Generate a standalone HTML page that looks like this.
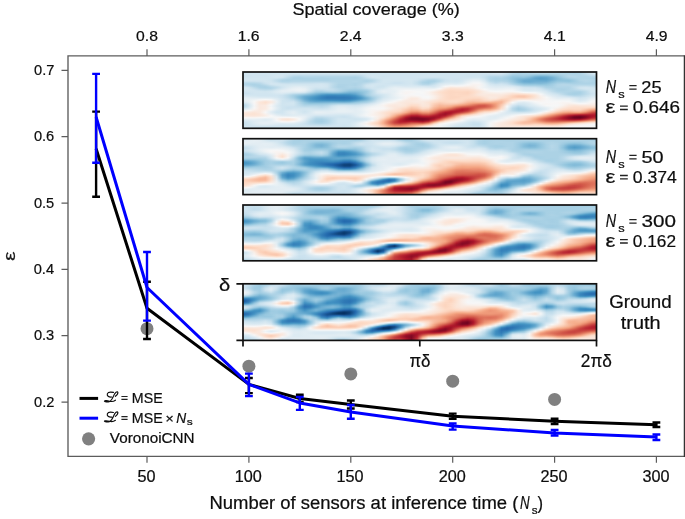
<!DOCTYPE html>
<html><head><meta charset="utf-8"><style>
html,body{margin:0;padding:0;background:#fff;overflow:hidden;}
svg{display:block;position:absolute;left:0;top:0;z-index:1;will-change:transform;}
#hm{position:absolute;left:0;top:0;width:685px;height:519px;z-index:0;}
#hm div{position:absolute;left:243px;width:354px;height:1px;}
text{font-family:"Liberation Sans",sans-serif;stroke:#0d0d0d;stroke-width:0.22px;}
</style></head><body>
<div id="hm"><div style="top:72px;background:linear-gradient(90deg,#d1e5f0,#d1e5f0,#d1e5f0,#d1e5f0,#d1e5f0,#d1e5f0,#cce2ef,#cce2ef,#d2e6f0,#d5e7f1,#d5e7f1,#d5e7f1,#d5e7f1,#d5e7f1,#d5e7f1,#d5e7f1,#d5e7f1,#d5e7f1,#d5e7f1,#d5e7f1,#d7e8f1,#d5e7f1,#d1e5f0,#cce2ef,#cfe4ef,#d1e5f0,#d1e5f0,#d1e5f0,#d1e5f0,#d1e5f0,#d1e5f0,#d1e5f0,#cfe4ef,#cce2ef,#cce2ef,#cfe4ef,#cfe4ef,#d1e5f0,#d1e5f0,#d1e5f0,#d2e6f0,#d2e6f0,#d2e6f0,#d2e6f0,#d5e7f1,#d7e8f1,#d7e8f1,#cfe4ef,#bddbea,#b3d6e8,#b6d7e8,#bbdaea,#c0dceb,#c2ddec,#c2ddec,#bddbea,#b8d8e9,#b3d6e8,#aed3e6,#a9d1e5,#b1d5e7,#c5dfec,#d5e7f1,#ddebf2)"></div><div style="top:73px;background:linear-gradient(90deg,#d1e5f0,#d1e5f0,#d1e5f0,#d1e5f0,#d1e5f0,#d1e5f0,#d1e5f0,#d1e5f0,#d1e5f0,#d2e6f0,#d2e6f0,#d2e6f0,#d2e6f0,#d2e6f0,#d2e6f0,#d2e6f0,#d2e6f0,#d2e6f0,#d2e6f0,#d2e6f0,#d2e6f0,#d2e6f0,#d1e5f0,#cfe4ef,#d1e5f0,#d1e5f0,#d1e5f0,#d1e5f0,#d1e5f0,#d1e5f0,#d1e5f0,#d1e5f0,#d1e5f0,#d1e5f0,#cfe4ef,#d1e5f0,#d1e5f0,#d1e5f0,#d1e5f0,#d1e5f0,#d1e5f0,#d1e5f0,#d1e5f0,#d1e5f0,#d1e5f0,#d4e6f1,#d4e6f1,#c7e0ed,#b6d7e8,#aed3e6,#b1d5e7,#b3d6e8,#b6d7e8,#b6d7e8,#b6d7e8,#b3d6e8,#b3d6e8,#b3d6e8,#b1d5e7,#aed3e6,#b1d5e7,#c0dceb,#d2e6f0,#d8e9f1)"></div><div style="top:74px;background:linear-gradient(90deg,#d1e5f0,#d1e5f0,#d1e5f0,#d1e5f0,#d1e5f0,#d1e5f0,#d2e6f0,#d2e6f0,#cfe4ef,#cae1ee,#cae1ee,#cae1ee,#cae1ee,#cae1ee,#cae1ee,#cae1ee,#cae1ee,#cae1ee,#cae1ee,#cae1ee,#cae1ee,#cce2ef,#d1e5f0,#d2e6f0,#d1e5f0,#d1e5f0,#d1e5f0,#d1e5f0,#d1e5f0,#d1e5f0,#d1e5f0,#d1e5f0,#d1e5f0,#d2e6f0,#d2e6f0,#d2e6f0,#d1e5f0,#d1e5f0,#d1e5f0,#d1e5f0,#cfe4ef,#cfe4ef,#cfe4ef,#cce2ef,#cae1ee,#cce2ef,#cce2ef,#c0dceb,#acd2e5,#a9d1e5,#acd2e5,#a9d1e5,#a5cee3,#a2cde3,#a2cde3,#a7d0e4,#a9d1e5,#b1d5e7,#b3d6e8,#b1d5e7,#b1d5e7,#bbdaea,#cae1ee,#d1e5f0)"></div><div style="top:75px;background:linear-gradient(90deg,#cfe4ef,#cfe4ef,#d1e5f0,#cfe4ef,#cfe4ef,#d1e5f0,#d4e6f1,#d4e6f1,#cae1ee,#c0dceb,#bddbea,#c0dceb,#c0dceb,#c0dceb,#c0dceb,#c0dceb,#c0dceb,#c0dceb,#c0dceb,#c0dceb,#bddbea,#c2ddec,#cfe4ef,#d4e6f1,#d2e6f0,#d1e5f0,#d1e5f0,#d1e5f0,#d1e5f0,#d1e5f0,#d1e5f0,#d1e5f0,#d2e6f0,#d4e6f1,#d4e6f1,#d2e6f0,#d1e5f0,#d1e5f0,#d1e5f0,#d1e5f0,#cfe4ef,#cfe4ef,#cfe4ef,#cae1ee,#c2ddec,#c2ddec,#c2ddec,#b6d7e8,#a2cde3,#a0cce2,#a5cee3,#9dcbe1,#90c4dd,#8ac0db,#8dc2dc,#96c7df,#a0cce2,#acd2e5,#b6d7e8,#b3d6e8,#b1d5e7,#b6d7e8,#c0dceb,#c5dfec)"></div><div style="top:76px;background:linear-gradient(90deg,#cfe4ef,#cfe4ef,#d1e5f0,#d1e5f0,#cfe4ef,#d1e5f0,#d4e6f1,#d2e6f0,#c5dfec,#b6d7e8,#b3d6e8,#b8d8e9,#b8d8e9,#b6d7e8,#b6d7e8,#b6d7e8,#b6d7e8,#b6d7e8,#b6d7e8,#b6d7e8,#b3d6e8,#bbdaea,#cce2ef,#d4e6f1,#d2e6f0,#cfe4ef,#d1e5f0,#d1e5f0,#d1e5f0,#d1e5f0,#d1e5f0,#d1e5f0,#d2e6f0,#d2e6f0,#d4e6f1,#d2e6f0,#d1e5f0,#d1e5f0,#d1e5f0,#d1e5f0,#cfe4ef,#cfe4ef,#d1e5f0,#c7e0ed,#b8d8e9,#b6d7e8,#b8d8e9,#acd2e5,#98c8e0,#98c8e0,#9bc9e0,#90c4dd,#7bb6d6,#71b0d3,#75b2d4,#84bcd9,#96c7df,#a7d0e4,#b6d7e8,#b6d7e8,#b1d5e7,#b1d5e7,#b6d7e8,#b8d8e9)"></div><div style="top:77px;background:linear-gradient(90deg,#d1e5f0,#d1e5f0,#d1e5f0,#d1e5f0,#d1e5f0,#d1e5f0,#d2e6f0,#cfe4ef,#bddbea,#aed3e6,#acd2e5,#b1d5e7,#b1d5e7,#b1d5e7,#aed3e6,#b1d5e7,#b1d5e7,#b1d5e7,#b1d5e7,#aed3e6,#acd2e5,#b3d6e8,#c5dfec,#d1e5f0,#d2e6f0,#d1e5f0,#d1e5f0,#d1e5f0,#d1e5f0,#d1e5f0,#d1e5f0,#d1e5f0,#d1e5f0,#cfe4ef,#cfe4ef,#cfe4ef,#d1e5f0,#d1e5f0,#d1e5f0,#d1e5f0,#d1e5f0,#d2e6f0,#d2e6f0,#c7e0ed,#b3d6e8,#aed3e6,#b1d5e7,#a5cee3,#93c6de,#8dc2dc,#90c4dd,#81bad8,#6bacd1,#5fa5cd,#65a9cf,#75b2d4,#8dc2dc,#a2cde3,#aed3e6,#b3d6e8,#b1d5e7,#b1d5e7,#b1d5e7,#b1d5e7)"></div><div style="top:78px;background:linear-gradient(90deg,#d2e6f0,#d2e6f0,#d2e6f0,#d2e6f0,#d1e5f0,#cfe4ef,#cce2ef,#c2ddec,#b6d7e8,#acd2e5,#a9d1e5,#acd2e5,#acd2e5,#acd2e5,#acd2e5,#acd2e5,#aed3e6,#aed3e6,#aed3e6,#aed3e6,#acd2e5,#b1d5e7,#bddbea,#c7e0ed,#cfe4ef,#d1e5f0,#d1e5f0,#d1e5f0,#d1e5f0,#d1e5f0,#d1e5f0,#cfe4ef,#cae1ee,#c5dfec,#c2ddec,#c7e0ed,#cfe4ef,#d1e5f0,#cfe4ef,#d1e5f0,#d4e6f1,#d8e9f1,#d8e9f1,#cae1ee,#b1d5e7,#a9d1e5,#acd2e5,#a2cde3,#90c4dd,#84bcd9,#81bad8,#75b2d4,#62a7ce,#59a1ca,#5fa5cd,#71b0d3,#87beda,#98c8e0,#a5cee3,#acd2e5,#b1d5e7,#b1d5e7,#aed3e6,#acd2e5)"></div><div style="top:79px;background:linear-gradient(90deg,#d4e6f1,#d4e6f1,#d2e6f0,#d2e6f0,#d2e6f0,#cfe4ef,#c2ddec,#b6d7e8,#aed3e6,#acd2e5,#acd2e5,#acd2e5,#acd2e5,#acd2e5,#acd2e5,#acd2e5,#aed3e6,#aed3e6,#aed3e6,#aed3e6,#aed3e6,#b1d5e7,#b3d6e8,#bddbea,#cae1ee,#d2e6f0,#d2e6f0,#d1e5f0,#d1e5f0,#d2e6f0,#d2e6f0,#cfe4ef,#c2ddec,#b8d8e9,#b6d7e8,#c0dceb,#cce2ef,#d1e5f0,#cfe4ef,#d2e6f0,#d8e9f1,#e0ecf3,#deebf2,#cfe4ef,#b1d5e7,#a9d1e5,#acd2e5,#a5cee3,#90c4dd,#7eb8d7,#75b2d4,#6bacd1,#65a9cf,#5ca3cb,#5fa5cd,#71b0d3,#87beda,#93c6de,#98c8e0,#a5cee3,#b1d5e7,#b3d6e8,#b1d5e7,#acd2e5)"></div><div style="top:80px;background:linear-gradient(90deg,#d2e6f0,#d2e6f0,#d1e5f0,#d1e5f0,#d2e6f0,#cfe4ef,#c0dceb,#b1d5e7,#aed3e6,#b1d5e7,#b1d5e7,#aed3e6,#aed3e6,#aed3e6,#aed3e6,#aed3e6,#b1d5e7,#b1d5e7,#b1d5e7,#b1d5e7,#b1d5e7,#b1d5e7,#aed3e6,#b6d7e8,#c7e0ed,#d2e6f0,#d2e6f0,#d1e5f0,#d1e5f0,#d2e6f0,#d2e6f0,#cce2ef,#bbdaea,#aed3e6,#aed3e6,#bbdaea,#cce2ef,#d1e5f0,#cfe4ef,#d4e6f1,#deebf2,#e7f0f4,#e6eff4,#d5e7f1,#b6d7e8,#acd2e5,#aed3e6,#a9d1e5,#96c7df,#7eb8d7,#6bacd1,#68abd0,#68abd0,#65a9cf,#65a9cf,#78b4d5,#8dc2dc,#90c4dd,#90c4dd,#a0cce2,#b1d5e7,#b6d7e8,#b1d5e7,#acd2e5)"></div><div style="top:81px;background:linear-gradient(90deg,#cce2ef,#cae1ee,#cae1ee,#cce2ef,#d2e6f0,#d1e5f0,#c2ddec,#b3d6e8,#b3d6e8,#b6d7e8,#b6d7e8,#b6d7e8,#b6d7e8,#b6d7e8,#b8d8e9,#b6d7e8,#b3d6e8,#b1d5e7,#b1d5e7,#b1d5e7,#b3d6e8,#b1d5e7,#aed3e6,#b8d8e9,#cae1ee,#d2e6f0,#d1e5f0,#cfe4ef,#cfe4ef,#d1e5f0,#d2e6f0,#c7e0ed,#b3d6e8,#a9d1e5,#acd2e5,#bddbea,#cfe4ef,#d2e6f0,#d1e5f0,#d7e8f1,#e4eef4,#edf2f5,#edf2f5,#dbeaf2,#bddbea,#b1d5e7,#b6d7e8,#aed3e6,#9bc9e0,#81bad8,#6bacd1,#68abd0,#6eaed2,#6eaed2,#6eaed2,#84bcd9,#96c7df,#96c7df,#93c6de,#a0cce2,#aed3e6,#b3d6e8,#b1d5e7,#acd2e5)"></div><div style="top:82px;background:linear-gradient(90deg,#c0dceb,#bddbea,#bddbea,#c2ddec,#cfe4ef,#d2e6f0,#cae1ee,#bddbea,#bbdaea,#c0dceb,#c0dceb,#c0dceb,#c0dceb,#c2ddec,#c2ddec,#c0dceb,#b8d8e9,#b1d5e7,#b1d5e7,#b1d5e7,#b1d5e7,#b1d5e7,#b6d7e8,#c0dceb,#cce2ef,#d2e6f0,#d1e5f0,#cce2ef,#cce2ef,#d1e5f0,#d2e6f0,#c5dfec,#aed3e6,#a7d0e4,#b3d6e8,#c7e0ed,#d4e6f1,#d7e8f1,#d5e7f1,#dbeaf2,#e9f0f4,#f3f5f6,#f3f5f6,#e1edf3,#c7e0ed,#b8d8e9,#c0dceb,#b8d8e9,#a2cde3,#87beda,#75b2d4,#71b0d3,#78b4d5,#78b4d5,#7bb6d6,#8dc2dc,#a0cce2,#a2cde3,#9dcbe1,#a5cee3,#acd2e5,#b1d5e7,#aed3e6,#acd2e5)"></div><div style="top:83px;background:linear-gradient(90deg,#b8d8e9,#b3d6e8,#b3d6e8,#b8d8e9,#cae1ee,#d4e6f1,#d1e5f0,#cae1ee,#c7e0ed,#cae1ee,#cae1ee,#cae1ee,#cae1ee,#cce2ef,#cfe4ef,#cae1ee,#bbdaea,#b1d5e7,#b1d5e7,#b1d5e7,#aed3e6,#b3d6e8,#c0dceb,#cce2ef,#d1e5f0,#d1e5f0,#cfe4ef,#cce2ef,#cce2ef,#d1e5f0,#d2e6f0,#c5dfec,#b1d5e7,#acd2e5,#bddbea,#d2e6f0,#dbeaf2,#ddebf2,#dbeaf2,#e1edf3,#eff3f5,#f7f5f4,#f7f6f6,#e7f0f4,#cfe4ef,#c2ddec,#cae1ee,#c2ddec,#acd2e5,#96c7df,#84bcd9,#81bad8,#84bcd9,#81bad8,#87beda,#98c8e0,#a9d1e5,#aed3e6,#a9d1e5,#a9d1e5,#aed3e6,#aed3e6,#aed3e6,#aed3e6)"></div><div style="top:84px;background:linear-gradient(90deg,#b6d7e8,#b1d5e7,#acd2e5,#b1d5e7,#c0dceb,#d1e5f0,#d2e6f0,#d1e5f0,#d1e5f0,#d2e6f0,#d2e6f0,#d2e6f0,#d1e5f0,#d2e6f0,#d4e6f1,#cfe4ef,#bddbea,#aed3e6,#aed3e6,#b1d5e7,#aed3e6,#b6d7e8,#cae1ee,#d2e6f0,#d2e6f0,#d1e5f0,#d1e5f0,#d1e5f0,#d1e5f0,#d2e6f0,#d4e6f1,#cae1ee,#b8d8e9,#b6d7e8,#c7e0ed,#dae9f2,#e3edf3,#e6eff4,#e4eef4,#eaf1f5,#f5f6f7,#f8f3f0,#f8f4f2,#eaf1f5,#d5e7f1,#cfe4ef,#d2e6f0,#cce2ef,#b8d8e9,#a5cee3,#96c7df,#93c6de,#96c7df,#90c4dd,#93c6de,#a0cce2,#b1d5e7,#b6d7e8,#b3d6e8,#b1d5e7,#b3d6e8,#b3d6e8,#b3d6e8,#b1d5e7)"></div><div style="top:85px;background:linear-gradient(90deg,#bddbea,#b8d8e9,#aed3e6,#acd2e5,#b6d7e8,#c5dfec,#cfe4ef,#d2e6f0,#d5e7f1,#d8e9f1,#d8e9f1,#d7e8f1,#d4e6f1,#d4e6f1,#d5e7f1,#d1e5f0,#bbdaea,#aed3e6,#aed3e6,#b1d5e7,#aed3e6,#b8d8e9,#cfe4ef,#d5e7f1,#d1e5f0,#cfe4ef,#d4e6f1,#d7e8f1,#d5e7f1,#d5e7f1,#d7e8f1,#d2e6f0,#c7e0ed,#c5dfec,#d1e5f0,#deebf2,#edf2f5,#f2f5f6,#f0f4f6,#f3f5f6,#f8f4f2,#f8f1ed,#f8f4f2,#ecf2f5,#dbeaf2,#d5e7f1,#d7e8f1,#d5e7f1,#cce2ef,#b8d8e9,#a9d1e5,#a7d0e4,#a7d0e4,#a2cde3,#9dcbe1,#a5cee3,#b3d6e8,#b6d7e8,#b6d7e8,#b8d8e9,#bddbea,#bddbea,#bbdaea,#b8d8e9)"></div><div style="top:86px;background:linear-gradient(90deg,#cce2ef,#c2ddec,#b3d6e8,#acd2e5,#aed3e6,#bbdaea,#c5dfec,#d1e5f0,#d8e9f1,#deebf2,#e0ecf3,#ddebf2,#d7e8f1,#d4e6f1,#d5e7f1,#d1e5f0,#bbdaea,#acd2e5,#aed3e6,#b3d6e8,#b1d5e7,#b8d8e9,#cfe4ef,#d5e7f1,#cfe4ef,#cfe4ef,#d8e9f1,#deebf2,#ddebf2,#dae9f2,#dbeaf2,#dae9f2,#d7e8f1,#d4e6f1,#d5e7f1,#e4eef4,#f6f7f7,#f8f1ed,#f8f3f0,#f8f2ef,#f9efe9,#f9efe9,#f7f5f4,#ecf2f5,#e0ecf3,#dbeaf2,#ddebf2,#ddebf2,#d8e9f1,#cfe4ef,#bddbea,#bbdaea,#bbdaea,#b1d5e7,#a7d0e4,#a9d1e5,#b3d6e8,#b3d6e8,#b3d6e8,#bddbea,#c7e0ed,#cae1ee,#c5dfec,#c2ddec)"></div><div style="top:87px;background:linear-gradient(90deg,#d4e6f1,#cfe4ef,#bddbea,#aed3e6,#acd2e5,#b3d6e8,#c0dceb,#d1e5f0,#dbeaf2,#e3edf3,#e6eff4,#e1edf3,#d7e8f1,#d1e5f0,#d2e6f0,#cfe4ef,#bbdaea,#aed3e6,#aed3e6,#b1d5e7,#aed3e6,#b6d7e8,#cae1ee,#d2e6f0,#cfe4ef,#d2e6f0,#ddebf2,#e4eef4,#e3edf3,#e1edf3,#e1edf3,#e1edf3,#e1edf3,#deebf2,#ddebf2,#eaf1f5,#f9f0eb,#fae8de,#faeae1,#faeae1,#fae9df,#f9ede5,#f8f4f2,#edf2f5,#e4eef4,#e0ecf3,#e1edf3,#e4eef4,#e3edf3,#dae9f2,#cfe4ef,#cce2ef,#cce2ef,#c0dceb,#aed3e6,#acd2e5,#b1d5e7,#b1d5e7,#b1d5e7,#c0dceb,#cfe4ef,#d2e6f0,#cfe4ef,#cae1ee)"></div><div style="top:88px;background:linear-gradient(90deg,#d7e8f1,#d2e6f0,#c5dfec,#b6d7e8,#b1d5e7,#b3d6e8,#c5dfec,#d5e7f1,#e0ecf3,#e7f0f4,#eaf1f5,#e6eff4,#d7e8f1,#cce2ef,#cfe4ef,#cce2ef,#c0dceb,#b3d6e8,#aed3e6,#aed3e6,#a9d1e5,#b1d5e7,#c2ddec,#cfe4ef,#d2e6f0,#d7e8f1,#e1edf3,#e7f0f4,#e9f0f4,#e9f0f4,#e9f0f4,#e9f0f4,#eaf1f5,#e9f0f4,#e7f0f4,#f5f6f7,#fae9df,#fce2d2,#fbe3d4,#fbe5d8,#fbe5d8,#fae9df,#f8f2ef,#f2f5f6,#e9f0f4,#e6eff4,#e7f0f4,#eaf1f5,#e9f0f4,#e0ecf3,#d5e7f1,#d4e6f1,#d5e7f1,#cce2ef,#b8d8e9,#b1d5e7,#aed3e6,#aed3e6,#b1d5e7,#bddbea,#cfe4ef,#d4e6f1,#d2e6f0,#d1e5f0)"></div><div style="top:89px;background:linear-gradient(90deg,#d7e8f1,#d4e6f1,#cce2ef,#c0dceb,#bbdaea,#bddbea,#cfe4ef,#dbeaf2,#e4eef4,#eaf1f5,#edf2f5,#e9f0f4,#d7e8f1,#c5dfec,#c5dfec,#cae1ee,#c2ddec,#b6d7e8,#acd2e5,#a5cee3,#a2cde3,#a7d0e4,#b3d6e8,#c7e0ed,#d5e7f1,#deebf2,#e3edf3,#e7f0f4,#edf2f5,#eff3f5,#eff3f5,#f0f4f6,#f0f4f6,#f0f4f6,#f3f5f6,#f8f1ed,#fbe3d4,#fdddcb,#fcdecd,#fcdfcf,#fcdfcf,#fbe4d6,#f9ede5,#f7f6f6,#edf2f5,#eaf1f5,#ecf2f5,#eff3f5,#eff3f5,#e4eef4,#d8e9f1,#d7e8f1,#dae9f2,#d4e6f1,#c2ddec,#b6d7e8,#aed3e6,#acd2e5,#b1d5e7,#bbdaea,#c5dfec,#cfe4ef,#d2e6f0,#d4e6f1)"></div><div style="top:90px;background:linear-gradient(90deg,#d4e6f1,#d2e6f0,#d1e5f0,#cae1ee,#c5dfec,#cae1ee,#d7e8f1,#e3edf3,#e6eff4,#e9f0f4,#edf2f5,#e7f0f4,#d2e6f0,#b8d8e9,#b8d8e9,#c0dceb,#c0dceb,#b6d7e8,#a7d0e4,#9bc9e0,#98c8e0,#9dcbe1,#a9d1e5,#c0dceb,#dae9f2,#e4eef4,#e4eef4,#e7f0f4,#f0f4f6,#f6f7f7,#f5f6f7,#f3f5f6,#f3f5f6,#f6f7f7,#f8f2ef,#fae8de,#fcdecd,#fdd9c4,#fddbc7,#fddcc9,#fddcc9,#fcdfcf,#fae8de,#f8f2ef,#f3f5f6,#f0f4f6,#f2f5f6,#f5f6f7,#f3f5f6,#e9f0f4,#ddebf2,#dbeaf2,#deebf2,#d8e9f1,#cce2ef,#bbdaea,#aed3e6,#aed3e6,#b1d5e7,#b3d6e8,#bbdaea,#c5dfec,#d2e6f0,#d7e8f1)"></div><div style="top:91px;background:linear-gradient(90deg,#cfe4ef,#d1e5f0,#d1e5f0,#d1e5f0,#cfe4ef,#d2e6f0,#dbeaf2,#e4eef4,#e4eef4,#e3edf3,#e6eff4,#e0ecf3,#c7e0ed,#acd2e5,#a7d0e4,#b1d5e7,#b3d6e8,#acd2e5,#9bc9e0,#8ac0db,#8ac0db,#93c6de,#a0cce2,#bddbea,#dbeaf2,#e6eff4,#e4eef4,#e6eff4,#f2f5f6,#f7f5f4,#f7f5f4,#f6f7f7,#f5f6f7,#f8f4f2,#f9ede5,#fbe3d4,#fddcc9,#fcd7c2,#fdd9c4,#fdd9c4,#fcd7c2,#fdddcb,#fbe5d8,#f9eee7,#f7f5f4,#f6f7f7,#f7f6f6,#f7f5f4,#f7f5f4,#f2f5f6,#e7f0f4,#e4eef4,#e6eff4,#e0ecf3,#d4e6f1,#c0dceb,#b3d6e8,#b1d5e7,#b1d5e7,#aed3e6,#aed3e6,#bddbea,#d1e5f0,#d7e8f1)"></div><div style="top:92px;background:linear-gradient(90deg,#cce2ef,#cfe4ef,#d1e5f0,#d2e6f0,#d1e5f0,#d4e6f1,#dbeaf2,#e0ecf3,#ddebf2,#d8e9f1,#d8e9f1,#d2e6f0,#b6d7e8,#9bc9e0,#93c6de,#96c7df,#9bc9e0,#96c7df,#84bcd9,#78b4d5,#7bb6d6,#8ac0db,#a0cce2,#bddbea,#d8e9f1,#e3edf3,#e3edf3,#e7f0f4,#f3f5f6,#f8f4f2,#f7f5f4,#f6f7f7,#f6f7f7,#f8f3f0,#fae9df,#fce0d0,#fddbc7,#fcd7c2,#fcd7c2,#fcd7c2,#fcd5bf,#fddcc9,#fbe5d8,#f9ede5,#f9f0eb,#f8f2ef,#f8f3f0,#f9f0eb,#f9eee7,#f8f1ed,#f6f7f7,#f3f5f6,#f2f5f6,#e7f0f4,#d8e9f1,#cae1ee,#bbdaea,#b3d6e8,#aed3e6,#a9d1e5,#a9d1e5,#bbdaea,#cfe4ef,#d5e7f1)"></div><div style="top:93px;background:linear-gradient(90deg,#cae1ee,#cce2ef,#d1e5f0,#d1e5f0,#d1e5f0,#d2e6f0,#d7e8f1,#dae9f2,#d2e6f0,#c7e0ed,#c2ddec,#b6d7e8,#9dcbe1,#84bcd9,#75b2d4,#71b0d3,#75b2d4,#71b0d3,#68abd0,#62a7ce,#6bacd1,#84bcd9,#a0cce2,#bddbea,#d4e6f1,#ddebf2,#e0ecf3,#e9f0f4,#f5f6f7,#f8f4f2,#f7f6f6,#f5f6f7,#f6f7f7,#f8f3f0,#faeae1,#fce2d2,#fddbc7,#fcd7c2,#fdd9c4,#fcd7c2,#fcd5bf,#fdddcb,#fbe6da,#f9ebe3,#f9ede5,#f9eee7,#f9efe9,#faeae1,#fbe5d8,#fbe6da,#fae9df,#f9ede5,#f8f1ed,#f0f4f6,#deebf2,#d1e5f0,#c5dfec,#b8d8e9,#acd2e5,#a7d0e4,#a9d1e5,#bbdaea,#cce2ef,#d5e7f1)"></div><div style="top:94px;background:linear-gradient(90deg,#cfe4ef,#cfe4ef,#d1e5f0,#d1e5f0,#d1e5f0,#d1e5f0,#d4e6f1,#d2e6f0,#c5dfec,#b3d6e8,#a7d0e4,#98c8e0,#84bcd9,#6eaed2,#59a1ca,#4c99c6,#4c99c6,#4f9bc7,#4997c5,#4c99c6,#5ca3cb,#7bb6d6,#a0cce2,#bbdaea,#cce2ef,#d5e7f1,#deebf2,#e9f0f4,#f3f5f6,#f7f5f4,#f7f6f6,#f5f6f7,#f5f6f7,#f8f4f2,#f9ebe3,#fbe3d4,#fddcc9,#fcd7c2,#fdd9c4,#fcd7c2,#fcd7c2,#fcdecd,#fae7dc,#faeae1,#fae9df,#faeae1,#faeae1,#fbe6da,#fcdecd,#fddbc7,#fdddcb,#fce2d2,#fae9df,#f7f6f6,#e4eef4,#d7e8f1,#cfe4ef,#bddbea,#aed3e6,#a9d1e5,#aed3e6,#bddbea,#cfe4ef,#d5e7f1)"></div><div style="top:95px;background:linear-gradient(90deg,#d4e6f1,#d4e6f1,#d2e6f0,#d1e5f0,#d1e5f0,#d1e5f0,#d1e5f0,#cce2ef,#bddbea,#a7d0e4,#93c6de,#7eb8d7,#6eaed2,#59a1ca,#4291c2,#3b88be,#3a87bd,#3b88be,#3b88be,#3e8cbf,#4997c5,#6bacd1,#98c8e0,#b6d7e8,#c5dfec,#d2e6f0,#ddebf2,#e9f0f4,#f2f5f6,#f7f6f6,#f8f4f2,#f7f6f6,#f5f6f7,#f7f5f4,#f9eee7,#fbe4d6,#fddcc9,#fcd7c2,#fdd9c4,#fdd9c4,#fdd9c4,#fcdecd,#fbe5d8,#fae8de,#fae8de,#fae8de,#fae7dc,#fce0d0,#fcd7c2,#fbceb7,#fbceb7,#fdd9c4,#fbe4d6,#f8f2ef,#eaf1f5,#ddebf2,#d5e7f1,#cae1ee,#bbdaea,#b3d6e8,#b6d7e8,#c5dfec,#d2e6f0,#d8e9f1)"></div><div style="top:96px;background:linear-gradient(90deg,#dae9f2,#d8e9f1,#d7e8f1,#d5e7f1,#d5e7f1,#d4e6f1,#d2e6f0,#cce2ef,#bbdaea,#a5cee3,#87beda,#6bacd1,#5ca3cb,#4997c5,#3a87bd,#337eb8,#327cb7,#3480b9,#3480b9,#3783bb,#3f8ec0,#5ca3cb,#8ac0db,#acd2e5,#c0dceb,#d1e5f0,#ddebf2,#e7f0f4,#f0f4f6,#f7f5f4,#f8f1ed,#f8f2ef,#f6f7f7,#f6f7f7,#f9efe9,#fbe5d8,#fddcc9,#fcd7c2,#fcd7c2,#fdd9c4,#fddbc7,#fdddcb,#fce0d0,#fbe6da,#fae9df,#fae8de,#fbe4d6,#fdddcb,#fcd3bc,#fac8af,#fac8af,#fcd5bf,#fbe3d4,#f9f0eb,#f0f4f6,#e3edf3,#dae9f2,#d4e6f1,#cce2ef,#c2ddec,#c0dceb,#cae1ee,#d8e9f1,#deebf2)"></div><div style="top:97px;background:linear-gradient(90deg,#e0ecf3,#e0ecf3,#ddebf2,#dbeaf2,#dbeaf2,#dbeaf2,#d5e7f1,#cce2ef,#bddbea,#a7d0e4,#84bcd9,#65a9cf,#529dc8,#4291c2,#3783bb,#2f79b5,#2f79b5,#307ab6,#307ab6,#337eb8,#3b88be,#4f9bc7,#7bb6d6,#a2cde3,#bddbea,#d2e6f0,#ddebf2,#e6eff4,#eff3f5,#f8f4f2,#f9ede5,#f9eee7,#f7f6f6,#f6f7f7,#f9efe9,#fbe4d6,#fddcc9,#fcd7c2,#fcd7c2,#fddbc7,#fddbc7,#fddbc7,#fddcc9,#fbe3d4,#fae9df,#fae8de,#fce0d0,#fddbc7,#fcd3bc,#fbceb7,#fbccb4,#fdd9c4,#fbe4d6,#f9efe9,#f6f7f7,#e9f0f4,#e0ecf3,#ddebf2,#dae9f2,#d2e6f0,#cae1ee,#d2e6f0,#deebf2,#e6eff4)"></div><div style="top:98px;background:linear-gradient(90deg,#e4eef4,#e4eef4,#e4eef4,#e6eff4,#e7f0f4,#e4eef4,#dbeaf2,#cfe4ef,#c2ddec,#aed3e6,#8ac0db,#65a9cf,#4f9bc7,#408fc1,#3783bb,#327cb7,#327cb7,#327cb7,#327cb7,#337eb8,#3b88be,#4c99c6,#75b2d4,#9dcbe1,#c0dceb,#d7e8f1,#e0ecf3,#e7f0f4,#f0f4f6,#f8f2ef,#fae9df,#faeae1,#f8f4f2,#f7f5f4,#f9eee7,#fbe3d4,#fddcc9,#fcd7c2,#fdd9c4,#fddbc7,#fdd9c4,#fcd7c2,#fcd7c2,#fcdfcf,#fae7dc,#fbe5d8,#fddbc7,#fcd5bf,#fdd9c4,#fddbc7,#fddbc7,#fcdfcf,#fae7dc,#f9efe9,#f7f5f4,#edf2f5,#e4eef4,#e6eff4,#e6eff4,#dbeaf2,#d1e5f0,#d7e8f1,#e4eef4,#edf2f5)"></div><div style="top:99px;background:linear-gradient(90deg,#e6eff4,#e7f0f4,#ecf2f5,#f2f5f6,#f6f7f7,#f2f5f6,#e0ecf3,#d1e5f0,#c7e0ed,#b8d8e9,#96c7df,#6bacd1,#529dc8,#4393c3,#3c8abe,#3885bc,#3885bc,#3783bb,#3681ba,#3885bc,#4291c2,#59a1ca,#7bb6d6,#a0cce2,#c5dfec,#dbeaf2,#e4eef4,#ecf2f5,#f6f7f7,#f9efe9,#fae8de,#faeae1,#f8f1ed,#f8f1ed,#fae9df,#fce0d0,#fddcc9,#fdd9c4,#fddbc7,#fddbc7,#fcd5bf,#fbd0b9,#fbd0b9,#fddcc9,#fbe3d4,#fcdecd,#fbceb7,#fcd3bc,#fcdfcf,#fbe5d8,#fae7dc,#fae8de,#f9ede5,#f9f0eb,#f7f5f4,#f0f4f6,#ecf2f5,#edf2f5,#edf2f5,#e1edf3,#d5e7f1,#dbeaf2,#eaf1f5,#f3f5f6)"></div><div style="top:100px;background:linear-gradient(90deg,#e3edf3,#e7f0f4,#f2f5f6,#f8f2ef,#f9ede5,#f8f1ed,#e6eff4,#cfe4ef,#cae1ee,#c2ddec,#a2cde3,#78b4d5,#5ca3cb,#4f9bc7,#4695c4,#4393c3,#4291c2,#408fc1,#3f8ec0,#4393c3,#59a1ca,#71b0d3,#8ac0db,#a9d1e5,#cfe4ef,#e0ecf3,#e9f0f4,#f2f5f6,#f8f2ef,#faeae1,#fae8de,#faeae1,#f9eee7,#f9ebe3,#fbe4d6,#fdddcb,#fddbc7,#fddcc9,#fddcc9,#fdd9c4,#fbceb7,#facab1,#fbccb4,#fcd5bf,#fddbc7,#fbd0b9,#f9c4a9,#fbd0b9,#fbe6da,#f8f1ed,#f8f4f2,#f8f3f0,#f8f1ed,#f8f2ef,#f7f6f6,#f3f5f6,#f2f5f6,#f3f5f6,#f2f5f6,#e6eff4,#dae9f2,#e0ecf3,#f0f4f6,#f7f5f4)"></div><div style="top:101px;background:linear-gradient(90deg,#ddebf2,#e6eff4,#f6f7f7,#faeae1,#fbe4d6,#f9ebe3,#e9f0f4,#cfe4ef,#cce2ef,#cce2ef,#acd2e5,#84bcd9,#6bacd1,#5fa5cd,#5fa5cd,#5fa5cd,#5fa5cd,#5ca3cb,#59a1ca,#5fa5cd,#75b2d4,#8dc2dc,#9dcbe1,#b6d7e8,#d5e7f1,#e6eff4,#eff3f5,#f7f5f4,#f9eee7,#fae8de,#fae8de,#faeae1,#faeae1,#fae7dc,#fcdfcf,#fdd9c4,#fdd9c4,#fddcc9,#fddcc9,#fcd5bf,#f9c6ac,#f8bfa4,#f9c2a7,#fac8af,#fac8af,#f8bda1,#f7b99c,#fcd5bf,#f9efe9,#edf2f5,#e9f0f4,#eff3f5,#f7f6f6,#f8f4f2,#f7f6f6,#f5f6f7,#f6f7f7,#f7f6f6,#f6f7f7,#eaf1f5,#e1edf3,#e7f0f4,#f5f6f7,#f8f2ef)"></div><div style="top:102px;background:linear-gradient(90deg,#d5e7f1,#e1edf3,#f7f6f6,#fbe6da,#fce0d0,#faeae1,#e7f0f4,#cfe4ef,#cfe4ef,#d1e5f0,#b6d7e8,#93c6de,#7eb8d7,#78b4d5,#78b4d5,#7bb6d6,#7eb8d7,#7eb8d7,#7bb6d6,#81bad8,#93c6de,#a2cde3,#aed3e6,#c5dfec,#ddebf2,#edf2f5,#f6f7f7,#f8f1ed,#faeae1,#fae7dc,#fbe6da,#fae8de,#fae9df,#fbe4d6,#fddbc7,#fbd0b9,#fcd5bf,#fdd9c4,#fcd7c2,#fbccb4,#f8bb9e,#f6b191,#f6b191,#f6b191,#f6b191,#f6af8e,#f7b799,#fddcc9,#f6f7f7,#e1edf3,#ddebf2,#e6eff4,#f2f5f6,#f7f6f6,#f7f6f6,#f6f7f7,#f7f6f6,#f8f4f2,#f8f4f2,#f2f5f6,#eaf1f5,#eff3f5,#f7f5f4,#f9f0eb)"></div><div style="top:103px;background:linear-gradient(90deg,#c7e0ed,#dae9f2,#f7f6f6,#fbe6da,#fbe3d4,#f9efe9,#e4eef4,#cfe4ef,#d1e5f0,#d2e6f0,#b8d8e9,#9dcbe1,#90c4dd,#90c4dd,#90c4dd,#93c6de,#9dcbe1,#a0cce2,#a0cce2,#a2cde3,#a9d1e5,#b6d7e8,#c2ddec,#d4e6f1,#e4eef4,#f3f5f6,#f8f2ef,#f9eee7,#faeae1,#fbe6da,#fbe4d6,#fbe5d8,#fae9df,#fbe4d6,#fcd3bc,#fac8af,#fbceb7,#fbd0b9,#fbccb4,#f8bfa4,#f5ac8b,#f19e7d,#ec9374,#eb9172,#ef9979,#f3a481,#f8bb9e,#fbe4d6,#ecf2f5,#d7e8f1,#d7e8f1,#e0ecf3,#edf2f5,#f6f7f7,#f7f5f4,#f7f6f6,#f7f6f6,#f8f3f0,#f8f1ed,#f8f4f2,#f5f6f7,#f7f6f6,#f8f1ed,#f9eee7)"></div><div style="top:104px;background:linear-gradient(90deg,#b8d8e9,#d4e6f1,#f5f6f7,#fae7dc,#fbe6da,#f8f4f2,#e1edf3,#cfe4ef,#d1e5f0,#d1e5f0,#bddbea,#a7d0e4,#a2cde3,#a2cde3,#a2cde3,#a7d0e4,#b3d6e8,#bddbea,#bddbea,#bbdaea,#bddbea,#c7e0ed,#d4e6f1,#deebf2,#ecf2f5,#f7f5f4,#f9eee7,#faeae1,#faeae1,#fbe6da,#fcdfcf,#fce0d0,#fae8de,#fbe4d6,#fbceb7,#f8bfa4,#f9c6ac,#f9c6ac,#f8bb9e,#f5ac8b,#f09c7b,#e58368,#de735c,#dd7059,#e48066,#f19e7d,#f9c4a9,#f9ebe3,#e0ecf3,#cfe4ef,#d2e6f0,#dbeaf2,#e7f0f4,#f2f5f6,#f7f5f4,#f7f6f6,#f6f7f7,#f8f3f0,#f9ede5,#f9ede5,#f9f0eb,#f9f0eb,#f9eee7,#f9ebe3)"></div><div style="top:105px;background:linear-gradient(90deg,#b1d5e7,#d1e5f0,#f3f5f6,#fae8de,#faeae1,#f5f6f7,#deebf2,#cfe4ef,#cfe4ef,#cfe4ef,#c0dceb,#b1d5e7,#b1d5e7,#b1d5e7,#aed3e6,#b6d7e8,#c7e0ed,#d2e6f0,#d4e6f1,#d1e5f0,#cfe4ef,#d4e6f1,#ddebf2,#e7f0f4,#f0f4f6,#f8f3f0,#f9ebe3,#fae8de,#fae9df,#fbe5d8,#fddbc7,#fdddcb,#fae7dc,#fbe4d6,#fac8af,#f7b799,#f8bb9e,#f7b799,#f4a683,#ec9374,#e48066,#dc6e57,#d35a4a,#d35a4a,#de735c,#f09c7b,#facab1,#f8f2ef,#d5e7f1,#c2ddec,#cce2ef,#d8e9f1,#e1edf3,#edf2f5,#f6f7f7,#f6f7f7,#f6f7f7,#f8f1ed,#fae8de,#fbe6da,#fae8de,#fae8de,#fae8de,#fae8de)"></div><div style="top:106px;background:linear-gradient(90deg,#b3d6e8,#d2e6f0,#f3f5f6,#fae8de,#faeae1,#f3f5f6,#deebf2,#cfe4ef,#cce2ef,#cce2ef,#c5dfec,#bbdaea,#bddbea,#bddbea,#b8d8e9,#c0dceb,#d2e6f0,#ddebf2,#ddebf2,#dae9f2,#d7e8f1,#dbeaf2,#e6eff4,#eff3f5,#f3f5f6,#f8f4f2,#f9ebe3,#fae7dc,#fae7dc,#fce2d2,#fcd3bc,#fcd7c2,#fbe5d8,#fce2d2,#f9c4a9,#f6b191,#f6b394,#f5a886,#e8896c,#dd7059,#d7634f,#d25849,#cf5246,#d25849,#dd7059,#f09c7b,#fbd0b9,#f6f7f7,#cce2ef,#b6d7e8,#c2ddec,#d2e6f0,#dbeaf2,#e6eff4,#eff3f5,#f5f6f7,#f7f5f4,#f9ede5,#fbe5d8,#fce2d2,#fbe3d4,#fbe3d4,#fce2d2,#fce2d2)"></div><div style="top:107px;background:linear-gradient(90deg,#c0dceb,#d7e8f1,#f5f6f7,#fae8de,#faeae1,#f6f7f7,#e0ecf3,#cfe4ef,#cae1ee,#cce2ef,#cae1ee,#c7e0ed,#c7e0ed,#c5dfec,#c0dceb,#c7e0ed,#d8e9f1,#e1edf3,#e3edf3,#deebf2,#ddebf2,#e1edf3,#edf2f5,#f3f5f6,#f5f6f7,#f7f5f4,#f9eee7,#fae7dc,#fbe4d6,#fddcc9,#facab1,#fbd0b9,#fce0d0,#fdddcb,#f8bb9e,#f5a886,#f4a683,#eb9172,#db6b55,#ce4f45,#c94741,#cc4c44,#d25849,#d86551,#e27b62,#f3a481,#fcd7c2,#f2f5f6,#c2ddec,#acd2e5,#b8d8e9,#cae1ee,#d5e7f1,#deebf2,#e7f0f4,#f2f5f6,#f8f2ef,#fae8de,#fce0d0,#fcdecd,#fcdecd,#fdddcb,#fdd9c4,#fcd5bf)"></div><div style="top:108px;background:linear-gradient(90deg,#d1e5f0,#e0ecf3,#f7f5f4,#fae8de,#faeae1,#f6f7f7,#e0ecf3,#cfe4ef,#cae1ee,#cfe4ef,#cfe4ef,#cfe4ef,#cfe4ef,#cce2ef,#cae1ee,#cfe4ef,#dbeaf2,#e4eef4,#e6eff4,#e1edf3,#e0ecf3,#e6eff4,#f0f4f6,#f6f7f7,#f6f7f7,#f7f6f6,#f9eee7,#fbe6da,#fce0d0,#fcd5bf,#f9c2a7,#fac8af,#fddcc9,#fcd5bf,#f6b394,#f09c7b,#eb9172,#df765e,#cc4c44,#be3036,#be3036,#cb4942,#da6853,#e37e64,#ea8e70,#f6af8e,#fdddcb,#ecf2f5,#bbdaea,#a5cee3,#b1d5e7,#c2ddec,#d1e5f0,#d8e9f1,#e3edf3,#f3f5f6,#f9ede5,#fce2d2,#fddcc9,#fddcc9,#fddbc7,#fcd3bc,#f9c6ac,#f8bfa4)"></div><div style="top:109px;background:linear-gradient(90deg,#deebf2,#eaf1f5,#f8f2ef,#fae8de,#f9ede5,#f3f5f6,#ddebf2,#cfe4ef,#cfe4ef,#d4e6f1,#d2e6f0,#d1e5f0,#d4e6f1,#d4e6f1,#d2e6f0,#d5e7f1,#deebf2,#e6eff4,#e7f0f4,#e4eef4,#e3edf3,#e7f0f4,#f2f5f6,#f7f5f4,#f7f6f6,#f8f3f0,#f9ebe3,#fbe4d6,#fdddcb,#fbccb4,#f7b99c,#f8bda1,#fbd0b9,#facab1,#f5a886,#e8896c,#df765e,#d25849,#bf3338,#b61f2e,#bb2a34,#cf5246,#e48066,#f09c7b,#f5a886,#f9c2a7,#fbe5d8,#e7f0f4,#bbdaea,#a5cee3,#acd2e5,#bddbea,#cfe4ef,#d7e8f1,#e3edf3,#f7f6f6,#fbe6da,#fddcc9,#fcd5bf,#fcd7c2,#fcd7c2,#f9c6ac,#f6b191,#f4a683)"></div><div style="top:110px;background:linear-gradient(90deg,#edf2f5,#f6f7f7,#f9eee7,#fae9df,#f8f1ed,#ecf2f5,#d8e9f1,#cfe4ef,#d5e7f1,#dae9f2,#d5e7f1,#d1e5f0,#d7e8f1,#dbeaf2,#dbeaf2,#ddebf2,#e1edf3,#e7f0f4,#e7f0f4,#e6eff4,#e3edf3,#e7f0f4,#f2f5f6,#f7f5f4,#f8f3f0,#f9efe9,#fae7dc,#fce0d0,#fddbc7,#f9c6ac,#f6af8e,#f6af8e,#f9c2a7,#f8bda1,#ef9979,#dd7059,#cf5246,#c13639,#b72230,#b41c2d,#bf3338,#d86551,#f19e7d,#f7b799,#f8bfa4,#fdd9c4,#f9efe9,#e0ecf3,#bddbea,#acd2e5,#b1d5e7,#c0dceb,#d1e5f0,#ddebf2,#ecf2f5,#f9f0eb,#fcdfcf,#fbceb7,#fac8af,#fbccb4,#fbccb4,#f7b799,#ee9677,#e48066)"></div><div style="top:111px;background:linear-gradient(90deg,#f8f3f0,#f9efe9,#fae9df,#fae9df,#f8f4f2,#e4eef4,#d4e6f1,#d1e5f0,#dbeaf2,#e0ecf3,#d7e8f1,#cfe4ef,#d8e9f1,#e3edf3,#e3edf3,#e1edf3,#e4eef4,#e7f0f4,#e7f0f4,#e6eff4,#e3edf3,#e6eff4,#f0f4f6,#f8f4f2,#f9f0eb,#fae9df,#fce2d2,#fddcc9,#fcd5bf,#f8bb9e,#f19e7d,#f09c7b,#f6b191,#f6af8e,#e6866a,#d05548,#be3036,#b41c2d,#b41c2d,#bb2a34,#cb4942,#e48066,#f7b799,#fbd0b9,#fdd9c4,#fbe6da,#f3f5f6,#dbeaf2,#c7e0ed,#bbdaea,#bddbea,#cae1ee,#d7e8f1,#e6eff4,#f7f5f4,#fbe6da,#fcd3bc,#f8bfa4,#f7b799,#f8bda1,#f8bb9e,#f3a481,#e17860,#d6604d)"></div><div style="top:112px;background:linear-gradient(90deg,#f9ebe3,#fae8de,#fbe5d8,#fae9df,#f7f6f6,#e3edf3,#d2e6f0,#d1e5f0,#ddebf2,#e3edf3,#d8e9f1,#d1e5f0,#dae9f2,#e6eff4,#e6eff4,#e3edf3,#e3edf3,#e4eef4,#e4eef4,#e3edf3,#e3edf3,#e6eff4,#f0f4f6,#f8f4f2,#f9ede5,#fbe5d8,#fdddcb,#fcd5bf,#fac8af,#f6af8e,#e6866a,#e48066,#ef9979,#ef9979,#dd7059,#c43b3c,#ae172a,#ab162a,#ba2832,#c94741,#dc6e57,#f3a481,#fbceb7,#fce2d2,#fae7dc,#f8f2ef,#e9f0f4,#dae9f2,#d2e6f0,#cfe4ef,#d1e5f0,#d7e8f1,#e1edf3,#f3f5f6,#faeae1,#fddbc7,#f8bfa4,#f5aa89,#f19e7d,#f3a481,#f2a17f,#e48066,#d25849,#c6413e)"></div><div style="top:113px;background:linear-gradient(90deg,#fae7dc,#fbe5d8,#fbe3d4,#fae7dc,#f8f3f0,#e6eff4,#d7e8f1,#d4e6f1,#ddebf2,#e3edf3,#dbeaf2,#d5e7f1,#dbeaf2,#e3edf3,#e3edf3,#e1edf3,#e0ecf3,#deebf2,#deebf2,#deebf2,#e1edf3,#e7f0f4,#f2f5f6,#f8f3f0,#f9ede5,#fbe4d6,#fddbc7,#facab1,#f7b99c,#ec9374,#da6853,#d7634f,#e37e64,#e37e64,#d25849,#b82531,#9f1228,#b1182b,#c94741,#de735c,#ef9979,#f8bfa4,#fcdfcf,#f9ebe3,#f8f1ed,#f2f5f6,#e3edf3,#dbeaf2,#dbeaf2,#deebf2,#e1edf3,#e6eff4,#f0f4f6,#f9efe9,#fcdecd,#f9c4a9,#f5a886,#e98b6e,#e17860,#de735c,#dc6e57,#d25849,#c43b3c,#bb2a34)"></div><div style="top:114px;background:linear-gradient(90deg,#fbe6da,#fbe4d6,#fbe3d4,#fbe6da,#f9f0eb,#edf2f5,#deebf2,#d7e8f1,#dbeaf2,#e1edf3,#deebf2,#dbeaf2,#dbeaf2,#ddebf2,#ddebf2,#dbeaf2,#dae9f2,#d8e9f1,#d7e8f1,#dae9f2,#e0ecf3,#e9f0f4,#f3f5f6,#f8f2ef,#f9ede5,#fbe5d8,#fdd9c4,#f8bfa4,#f3a481,#de735c,#c94741,#c6413e,#d55d4c,#d6604d,#c43b3c,#ae172a,#9f1228,#bb2a34,#dc6e57,#f3a481,#f8bfa4,#fddbc7,#fae9df,#f8f3f0,#f2f5f6,#e9f0f4,#e0ecf3,#e0ecf3,#e6eff4,#edf2f5,#f3f5f6,#f7f6f6,#f9efe9,#fbe3d4,#facab1,#f5aa89,#e8896c,#da6853,#cc4c44,#c43b3c,#be3036,#ba2832,#b72230,#b61f2e)"></div><div style="top:115px;background:linear-gradient(90deg,#fae8de,#fbe6da,#fbe5d8,#fae7dc,#f9eee7,#f5f6f7,#e6eff4,#deebf2,#deebf2,#e1edf3,#e3edf3,#e0ecf3,#dae9f2,#d4e6f1,#d4e6f1,#d4e6f1,#d4e6f1,#d2e6f0,#d1e5f0,#d4e6f1,#deebf2,#e9f0f4,#f3f5f6,#f8f3f0,#f9eee7,#fbe5d8,#fcd5bf,#f6b394,#e6866a,#ce4f45,#b82531,#b72230,#c43b3c,#c53e3d,#b72230,#a51429,#ae172a,#cb4942,#ee9677,#fac8af,#fcdecd,#fae8de,#f8f1ed,#f3f5f6,#e9f0f4,#e3edf3,#e1edf3,#e6eff4,#f0f4f6,#f8f4f2,#f9efe9,#fae9df,#fce2d2,#fbd0b9,#f6b191,#ea8e70,#db6b55,#c84440,#b72230,#a21328,#960f27,#9c1127,#ab162a,#b3192c)"></div><div style="top:116px;background:linear-gradient(90deg,#f9ede5,#f9ebe3,#faeae1,#f9ede5,#f8f1ed,#f6f7f7,#eff3f5,#eaf1f5,#e9f0f4,#e9f0f4,#eaf1f5,#e4eef4,#d7e8f1,#c7e0ed,#c7e0ed,#cce2ef,#cfe4ef,#cfe4ef,#cce2ef,#d1e5f0,#dae9f2,#e4eef4,#edf2f5,#f7f6f6,#f9efe9,#fbe3d4,#fbccb4,#f3a481,#da6853,#be3036,#a21328,#9f1228,#b41c2d,#b61f2e,#a81529,#a81529,#bd2d35,#dc6e57,#f7b596,#fcdfcf,#f9ebe3,#f8f3f0,#f6f7f7,#edf2f5,#e3edf3,#e0ecf3,#e4eef4,#edf2f5,#f7f6f6,#f9eee7,#fbe6da,#fcdfcf,#fbd0b9,#f7b799,#ee9677,#de735c,#ce4f45,#ba2832,#9c1127,#7c0722,#730421,#870a24,#a81529,#b61f2e)"></div><div style="top:117px;background:linear-gradient(90deg,#f8f4f2,#f8f4f2,#f8f3f0,#f7f5f4,#f5f6f7,#f2f5f6,#f5f6f7,#f7f5f4,#f7f5f4,#f6f7f7,#f0f4f6,#e4eef4,#d2e6f0,#bddbea,#bbdaea,#c2ddec,#cae1ee,#cfe4ef,#cce2ef,#cfe4ef,#d5e7f1,#ddebf2,#e4eef4,#f0f4f6,#f9eee7,#fcdecd,#f8bfa4,#ea8e70,#ce4f45,#b1182b,#8a0b25,#870a24,#991027,#9f1228,#9c1127,#b3192c,#cf5246,#ee9677,#facab1,#fae7dc,#f7f5f4,#f2f5f6,#eff3f5,#e9f0f4,#e1edf3,#e0ecf3,#e9f0f4,#f3f5f6,#f8f2ef,#faeae1,#fbe3d4,#fcd5bf,#f8bda1,#f19e7d,#e27b62,#d35a4a,#c43b3c,#b1182b,#8d0c25,#700320,#6a011f,#870a24,#b1182b,#be3036)"></div><div style="top:118px;background:linear-gradient(90deg,#eff3f5,#eff3f5,#eff3f5,#edf2f5,#e9f0f4,#eaf1f5,#f7f5f4,#f9ebe3,#fae9df,#f9efe9,#f6f7f7,#e3edf3,#cce2ef,#b3d6e8,#b1d5e7,#bbdaea,#c7e0ed,#d1e5f0,#d1e5f0,#cfe4ef,#d1e5f0,#d5e7f1,#dbeaf2,#ecf2f5,#f9ede5,#fcd5bf,#f6af8e,#e17860,#c2383a,#9f1228,#810823,#7c0722,#810823,#8d0c25,#9f1228,#c13639,#e37e64,#f7b799,#fddbc7,#f9ede5,#f0f4f6,#e9f0f4,#e9f0f4,#e6eff4,#e1edf3,#e3edf3,#edf2f5,#f7f5f4,#f9eee7,#fae7dc,#fcdfcf,#fbccb4,#f6af8e,#e8896c,#d86551,#cb4942,#be3036,#ae172a,#900d26,#7c0722,#7c0722,#9f1228,#be3036,#cb4942)"></div><div style="top:119px;background:linear-gradient(90deg,#e3edf3,#e4eef4,#e6eff4,#e4eef4,#e0ecf3,#e4eef4,#f7f5f4,#fae7dc,#fbe4d6,#faeae1,#f6f7f7,#e0ecf3,#c5dfec,#aed3e6,#a9d1e5,#b6d7e8,#c7e0ed,#d2e6f0,#d2e6f0,#d1e5f0,#cfe4ef,#d2e6f0,#dae9f2,#ecf2f5,#fae8de,#fac8af,#f09c7b,#d7634f,#ba2832,#991027,#840924,#7f0823,#7c0722,#8a0b25,#b3192c,#d55d4c,#f5a886,#fcd3bc,#fbe4d6,#f8f2ef,#e9f0f4,#e1edf3,#e3edf3,#e4eef4,#e3edf3,#e9f0f4,#f3f5f6,#f8f1ed,#faeae1,#fbe4d6,#fddcc9,#f9c6ac,#f4a683,#e37e64,#d55d4c,#c94741,#c13639,#b72230,#a81529,#9f1228,#a81529,#be3036,#d25849,#dc6e57)"></div><div style="top:120px;background:linear-gradient(90deg,#d8e9f1,#dbeaf2,#e0ecf3,#e1edf3,#deebf2,#e3edf3,#f5f6f7,#f9ebe3,#fae7dc,#f9eee7,#f2f5f6,#dbeaf2,#c0dceb,#a9d1e5,#a7d0e4,#b1d5e7,#c5dfec,#d2e6f0,#d2e6f0,#d1e5f0,#d1e5f0,#d5e7f1,#e0ecf3,#f5f6f7,#fbe3d4,#f8bb9e,#e8896c,#cf5246,#b61f2e,#9f1228,#991027,#900d26,#870a24,#9f1228,#c6413e,#e98b6e,#facab1,#fbe4d6,#f9ede5,#f5f6f7,#e1edf3,#dae9f2,#ddebf2,#e1edf3,#e7f0f4,#f0f4f6,#f8f4f2,#f9ede5,#fbe5d8,#fcdecd,#fcd3bc,#f8bfa4,#f4a683,#e58368,#d7634f,#cf5246,#cb4942,#c6413e,#c43b3c,#c43b3c,#cb4942,#da6853,#e98b6e,#f19e7d)"></div><div style="top:121px;background:linear-gradient(90deg,#d1e5f0,#d5e7f1,#ddebf2,#e1edf3,#e1edf3,#e4eef4,#eff3f5,#f8f4f2,#f8f1ed,#f7f6f6,#e9f0f4,#d5e7f1,#bbdaea,#a9d1e5,#a5cee3,#b1d5e7,#c5dfec,#d2e6f0,#d2e6f0,#d1e5f0,#d4e6f1,#deebf2,#edf2f5,#f9efe9,#fddcc9,#f6b394,#e27b62,#c94741,#b61f2e,#ae172a,#b41c2d,#b1182b,#a51429,#bb2a34,#df765e,#f8bb9e,#fce2d2,#f9efe9,#f7f5f4,#ecf2f5,#dbeaf2,#d2e6f0,#d5e7f1,#deebf2,#ecf2f5,#f7f6f6,#f9f0eb,#fae8de,#fce0d0,#fcd5bf,#f9c6ac,#f7b99c,#f5ac8b,#ec9374,#df765e,#da6853,#da6853,#db6b55,#dd7059,#e27b62,#e98b6e,#f4a683,#f8bda1,#fac8af)"></div><div style="top:122px;background:linear-gradient(90deg,#cae1ee,#d2e6f0,#ddebf2,#e4eef4,#e4eef4,#e4eef4,#e7f0f4,#ecf2f5,#edf2f5,#eaf1f5,#deebf2,#d1e5f0,#bbdaea,#acd2e5,#a9d1e5,#b3d6e8,#c5dfec,#d2e6f0,#d1e5f0,#d1e5f0,#d8e9f1,#e6eff4,#f7f5f4,#fbe6da,#fcd5bf,#f6af8e,#df765e,#c84440,#ba2832,#bd2d35,#c6413e,#c53e3d,#c13639,#d35a4a,#f5aa89,#fcdecd,#f9eee7,#f6f7f7,#edf2f5,#e1edf3,#d5e7f1,#cce2ef,#cfe4ef,#ddebf2,#f0f4f6,#f8f2ef,#f9ebe3,#fbe5d8,#fdddcb,#fbccb4,#f8bfa4,#f8bb9e,#f7b799,#f5a886,#ec9374,#e8896c,#e98b6e,#ef9979,#f4a683,#f7b596,#f9c4a9,#fcd5bf,#fcdfcf,#fbe4d6)"></div><div style="top:123px;background:linear-gradient(90deg,#c7e0ed,#d1e5f0,#dbeaf2,#e3edf3,#e4eef4,#e3edf3,#e0ecf3,#deebf2,#e0ecf3,#deebf2,#d7e8f1,#cce2ef,#bddbea,#b3d6e8,#aed3e6,#b8d8e9,#c7e0ed,#d1e5f0,#d1e5f0,#d2e6f0,#dbeaf2,#ecf2f5,#f8f1ed,#fbe3d4,#fcd3bc,#f6af8e,#e27b62,#ce4f45,#c53e3d,#cb4942,#d7634f,#db6b55,#d86551,#ea8e70,#fbceb7,#f9ede5,#f6f7f7,#edf2f5,#e3edf3,#dae9f2,#d2e6f0,#cae1ee,#cae1ee,#dbeaf2,#f2f5f6,#f9efe9,#fae9df,#fbe4d6,#fddcc9,#fbccb4,#f9c2a7,#f9c2a7,#f9c6ac,#f8bda1,#f6af8e,#f5aa89,#f6af8e,#f8bb9e,#fbceb7,#fddbc7,#fbe3d4,#fae9df,#f9efe9,#f8f1ed)"></div><div style="top:124px;background:linear-gradient(90deg,#c7e0ed,#cfe4ef,#d8e9f1,#deebf2,#e0ecf3,#deebf2,#dae9f2,#d7e8f1,#d7e8f1,#d7e8f1,#d2e6f0,#cce2ef,#c2ddec,#bddbea,#bbdaea,#c0dceb,#cae1ee,#d1e5f0,#cfe4ef,#d2e6f0,#ddebf2,#edf2f5,#f8f2ef,#fbe5d8,#fcd7c2,#f7b799,#e8896c,#d86551,#d55d4c,#db6b55,#e58368,#eb9172,#f09c7b,#f8bb9e,#fbe4d6,#f7f5f4,#eff3f5,#e6eff4,#dbeaf2,#d5e7f1,#d1e5f0,#c7e0ed,#c7e0ed,#dbeaf2,#f3f5f6,#f9eee7,#fae8de,#fbe4d6,#fcdfcf,#fcd7c2,#fbceb7,#fbd0b9,#fcd7c2,#fcd3bc,#fac8af,#f9c4a9,#facab1,#fdd9c4,#fbe4d6,#faeae1,#f9efe9,#f8f2ef,#f7f6f6,#f6f7f7)"></div><div style="top:125px;background:linear-gradient(90deg,#cce2ef,#cfe4ef,#d4e6f1,#d8e9f1,#d8e9f1,#d7e8f1,#d4e6f1,#d2e6f0,#d2e6f0,#d2e6f0,#d1e5f0,#cfe4ef,#cae1ee,#c7e0ed,#c5dfec,#c7e0ed,#cfe4ef,#d1e5f0,#cfe4ef,#d2e6f0,#ddebf2,#eaf1f5,#f7f6f6,#f9ebe3,#fcdecd,#f9c2a7,#f09c7b,#e48066,#e27b62,#e98b6e,#f2a17f,#f6b394,#f9c6ac,#fdddcb,#f9eee7,#f3f5f6,#eaf1f5,#e0ecf3,#d7e8f1,#d2e6f0,#d1e5f0,#cae1ee,#cae1ee,#dbeaf2,#f2f5f6,#f9eee7,#fae8de,#fbe6da,#fbe4d6,#fce0d0,#fcdecd,#fcdfcf,#fce0d0,#fce0d0,#fcdecd,#fddcc9,#fcdecd,#fbe6da,#f9efe9,#f8f3f0,#f7f5f4,#f7f6f6,#f5f6f7,#f5f6f7)"></div><div style="top:126px;background:linear-gradient(90deg,#d1e5f0,#d1e5f0,#d1e5f0,#d1e5f0,#d1e5f0,#d1e5f0,#d1e5f0,#d1e5f0,#d1e5f0,#d1e5f0,#d1e5f0,#d1e5f0,#d1e5f0,#d1e5f0,#d1e5f0,#d1e5f0,#d1e5f0,#d1e5f0,#cfe4ef,#d2e6f0,#ddebf2,#e7f0f4,#f0f4f6,#f8f3f0,#fbe4d6,#fbccb4,#f5ac8b,#ef9979,#ef9979,#f3a481,#f6b394,#facab1,#fce2d2,#f9eee7,#f8f4f2,#f2f5f6,#e9f0f4,#ddebf2,#d2e6f0,#cfe4ef,#d1e5f0,#cfe4ef,#cce2ef,#dbeaf2,#f2f5f6,#f9efe9,#fae9df,#fae8de,#fae8de,#fae8de,#fae8de,#fae8de,#fae8de,#fae8de,#fae8de,#fae7dc,#fae8de,#f9efe9,#f7f6f6,#f5f6f7,#f6f7f7,#f7f6f6,#f6f7f7,#f6f7f7)"></div><div style="top:127px;background:linear-gradient(90deg,#d4e6f1,#d1e5f0,#cce2ef,#c7e0ed,#c7e0ed,#cae1ee,#cfe4ef,#d1e5f0,#d1e5f0,#d1e5f0,#d1e5f0,#d2e6f0,#d4e6f1,#d5e7f1,#d5e7f1,#d4e6f1,#d2e6f0,#d1e5f0,#cfe4ef,#d2e6f0,#dbeaf2,#e4eef4,#e9f0f4,#f5f6f7,#fae9df,#fcd5bf,#f7b99c,#f5ac8b,#f5ac8b,#f6b394,#f8bda1,#fdd9c4,#f9eee7,#f6f7f7,#f6f7f7,#f3f5f6,#e9f0f4,#dbeaf2,#d1e5f0,#cfe4ef,#d1e5f0,#d1e5f0,#cfe4ef,#dbeaf2,#f0f4f6,#f9f0eb,#faeae1,#fae9df,#f9ede5,#f9efe9,#f9f0eb,#f9efe9,#f9eee7,#f9eee7,#f9efe9,#f9eee7,#f9eee7,#f8f4f2,#f2f5f6,#f2f5f6,#f7f6f6,#f7f5f4,#f8f4f2,#f7f5f4)"></div><div style="top:128px;background:linear-gradient(90deg,#d4e6f1,#d2e6f0,#cce2ef,#c5dfec,#c2ddec,#c7e0ed,#cce2ef,#d1e5f0,#d2e6f0,#d1e5f0,#d2e6f0,#d4e6f1,#d5e7f1,#d7e8f1,#d7e8f1,#d5e7f1,#d4e6f1,#d1e5f0,#cfe4ef,#d2e6f0,#dbeaf2,#e3edf3,#e6eff4,#f0f4f6,#f9ebe3,#fcd7c2,#f8bda1,#f6b394,#f6b394,#f7b799,#f8bfa4,#fddcc9,#f8f1ed,#f2f5f6,#f5f6f7,#f5f6f7,#e9f0f4,#dbeaf2,#d1e5f0,#cfe4ef,#d2e6f0,#d1e5f0,#d1e5f0,#dbeaf2,#eff3f5,#f8f1ed,#faeae1,#faeae1,#f9eee7,#f8f1ed,#f8f3f0,#f8f1ed,#f9efe9,#f9f0eb,#f8f1ed,#f9f0eb,#f9f0eb,#f7f5f4,#f2f5f6,#f3f5f6,#f7f5f4,#f8f3f0,#f8f3f0,#f8f3f0)"></div><div style="top:138px;background:linear-gradient(90deg,#dbeaf2,#e0ecf3,#e6eff4,#e3edf3,#d2e6f0,#c2ddec,#cae1ee,#d1e5f0,#c0dceb,#aed3e6,#a9d1e5,#aed3e6,#b3d6e8,#b6d7e8,#b8d8e9,#b6d7e8,#b1d5e7,#aed3e6,#b1d5e7,#acd2e5,#9dcbe1,#a5cee3,#c0dceb,#cfe4ef,#c5dfec,#bddbea,#c2ddec,#bbdaea,#a7d0e4,#9bc9e0,#a2cde3,#b8d8e9,#d1e5f0,#d5e7f1,#d1e5f0,#cce2ef,#d1e5f0,#d2e6f0,#d2e6f0,#d2e6f0,#cfe4ef,#c5dfec,#b3d6e8,#acd2e5,#acd2e5,#acd2e5,#acd2e5,#acd2e5,#acd2e5,#b1d5e7,#b6d7e8,#b6d7e8,#b6d7e8,#b1d5e7,#acd2e5,#acd2e5,#acd2e5,#aed3e6,#b1d5e7,#b3d6e8,#b1d5e7,#acd2e5,#a7d0e4,#a5cee3)"></div><div style="top:139px;background:linear-gradient(90deg,#ddebf2,#e1edf3,#e6eff4,#e3edf3,#d4e6f1,#c5dfec,#cae1ee,#cfe4ef,#c0dceb,#acd2e5,#a9d1e5,#aed3e6,#b1d5e7,#b3d6e8,#b3d6e8,#b3d6e8,#aed3e6,#aed3e6,#b1d5e7,#acd2e5,#a2cde3,#a7d0e4,#c2ddec,#cfe4ef,#c7e0ed,#c2ddec,#c5dfec,#bddbea,#acd2e5,#a0cce2,#a5cee3,#b8d8e9,#cfe4ef,#d4e6f1,#cfe4ef,#cce2ef,#cfe4ef,#d1e5f0,#d1e5f0,#d1e5f0,#d1e5f0,#c5dfec,#b3d6e8,#a9d1e5,#acd2e5,#acd2e5,#acd2e5,#acd2e5,#acd2e5,#aed3e6,#b3d6e8,#b3d6e8,#b3d6e8,#b1d5e7,#acd2e5,#acd2e5,#acd2e5,#aed3e6,#b1d5e7,#b1d5e7,#b1d5e7,#acd2e5,#a9d1e5,#a7d0e4)"></div><div style="top:140px;background:linear-gradient(90deg,#e0ecf3,#e3edf3,#e6eff4,#e3edf3,#d8e9f1,#cfe4ef,#cfe4ef,#cce2ef,#bbdaea,#acd2e5,#a9d1e5,#acd2e5,#acd2e5,#acd2e5,#acd2e5,#acd2e5,#acd2e5,#acd2e5,#aed3e6,#acd2e5,#a9d1e5,#b1d5e7,#c5dfec,#d1e5f0,#cfe4ef,#cfe4ef,#d1e5f0,#cae1ee,#b6d7e8,#a7d0e4,#a7d0e4,#b3d6e8,#c7e0ed,#d1e5f0,#cfe4ef,#cce2ef,#cfe4ef,#cce2ef,#cce2ef,#cfe4ef,#d1e5f0,#c5dfec,#b1d5e7,#a9d1e5,#acd2e5,#aed3e6,#acd2e5,#acd2e5,#acd2e5,#acd2e5,#acd2e5,#acd2e5,#acd2e5,#acd2e5,#acd2e5,#acd2e5,#acd2e5,#acd2e5,#acd2e5,#acd2e5,#acd2e5,#acd2e5,#acd2e5,#acd2e5)"></div><div style="top:141px;background:linear-gradient(90deg,#e4eef4,#e4eef4,#e6eff4,#e3edf3,#ddebf2,#d5e7f1,#d2e6f0,#cae1ee,#b6d7e8,#a9d1e5,#a9d1e5,#acd2e5,#a7d0e4,#a2cde3,#a0cce2,#a2cde3,#a9d1e5,#acd2e5,#a9d1e5,#acd2e5,#b3d6e8,#bddbea,#c7e0ed,#d1e5f0,#d5e7f1,#d8e9f1,#dae9f2,#d4e6f1,#c5dfec,#b3d6e8,#acd2e5,#b1d5e7,#bddbea,#cae1ee,#cfe4ef,#cfe4ef,#cce2ef,#cae1ee,#cae1ee,#cfe4ef,#d1e5f0,#c5dfec,#aed3e6,#a7d0e4,#acd2e5,#aed3e6,#aed3e6,#acd2e5,#acd2e5,#a9d1e5,#a2cde3,#a0cce2,#a2cde3,#a7d0e4,#acd2e5,#aed3e6,#acd2e5,#a9d1e5,#a5cee3,#a5cee3,#a5cee3,#a9d1e5,#b1d5e7,#b3d6e8)"></div><div style="top:142px;background:linear-gradient(90deg,#e6eff4,#e6eff4,#e4eef4,#e3edf3,#e0ecf3,#ddebf2,#d5e7f1,#c7e0ed,#b3d6e8,#a9d1e5,#a9d1e5,#acd2e5,#a2cde3,#96c7df,#93c6de,#9bc9e0,#a5cee3,#acd2e5,#a9d1e5,#aed3e6,#bddbea,#c7e0ed,#cce2ef,#d1e5f0,#dae9f2,#e0ecf3,#e1edf3,#dbeaf2,#d1e5f0,#bddbea,#b1d5e7,#acd2e5,#b3d6e8,#c0dceb,#cce2ef,#cfe4ef,#cae1ee,#c7e0ed,#c7e0ed,#cce2ef,#d1e5f0,#c5dfec,#aed3e6,#a7d0e4,#acd2e5,#aed3e6,#aed3e6,#aed3e6,#aed3e6,#a5cee3,#9bc9e0,#93c6de,#96c7df,#a0cce2,#acd2e5,#b1d5e7,#acd2e5,#a5cee3,#9dcbe1,#98c8e0,#9bc9e0,#a7d0e4,#b1d5e7,#b8d8e9)"></div><div style="top:143px;background:linear-gradient(90deg,#e6eff4,#e4eef4,#e3edf3,#e3edf3,#e4eef4,#e1edf3,#d8e9f1,#cae1ee,#b6d7e8,#a9d1e5,#acd2e5,#acd2e5,#9bc9e0,#8ac0db,#87beda,#90c4dd,#a2cde3,#acd2e5,#a9d1e5,#aed3e6,#c2ddec,#cfe4ef,#cce2ef,#d1e5f0,#ddebf2,#e6eff4,#e6eff4,#e0ecf3,#d5e7f1,#c5dfec,#b3d6e8,#a9d1e5,#a9d1e5,#b8d8e9,#cae1ee,#d1e5f0,#cce2ef,#cae1ee,#cae1ee,#cfe4ef,#d1e5f0,#c5dfec,#aed3e6,#a7d0e4,#acd2e5,#aed3e6,#acd2e5,#aed3e6,#aed3e6,#a2cde3,#90c4dd,#87beda,#8ac0db,#9bc9e0,#acd2e5,#b1d5e7,#aed3e6,#a0cce2,#90c4dd,#8ac0db,#90c4dd,#a0cce2,#aed3e6,#b8d8e9)"></div><div style="top:144px;background:linear-gradient(90deg,#e0ecf3,#e0ecf3,#e1edf3,#e3edf3,#e4eef4,#e3edf3,#dbeaf2,#cfe4ef,#bbdaea,#aed3e6,#aed3e6,#a9d1e5,#98c8e0,#81bad8,#7bb6d6,#8ac0db,#a2cde3,#b1d5e7,#aed3e6,#b1d5e7,#c2ddec,#cfe4ef,#cce2ef,#d1e5f0,#dbeaf2,#e4eef4,#e4eef4,#deebf2,#d4e6f1,#c2ddec,#b3d6e8,#a7d0e4,#a5cee3,#b1d5e7,#c5dfec,#d1e5f0,#d2e6f0,#d1e5f0,#d2e6f0,#d2e6f0,#d1e5f0,#c5dfec,#b3d6e8,#acd2e5,#acd2e5,#acd2e5,#acd2e5,#aed3e6,#aed3e6,#a0cce2,#8ac0db,#7eb8d7,#84bcd9,#96c7df,#a9d1e5,#b3d6e8,#aed3e6,#9bc9e0,#81bad8,#78b4d5,#7eb8d7,#93c6de,#a7d0e4,#b1d5e7)"></div><div style="top:145px;background:linear-gradient(90deg,#d7e8f1,#dae9f2,#deebf2,#e3edf3,#e4eef4,#e3edf3,#ddebf2,#d5e7f1,#c5dfec,#b6d7e8,#b3d6e8,#a9d1e5,#96c7df,#7eb8d7,#78b4d5,#87beda,#a5cee3,#b3d6e8,#b3d6e8,#b3d6e8,#bddbea,#c7e0ed,#cae1ee,#cfe4ef,#d7e8f1,#deebf2,#deebf2,#d8e9f1,#cce2ef,#bbdaea,#b1d5e7,#a9d1e5,#a5cee3,#aed3e6,#c2ddec,#d2e6f0,#d7e8f1,#dae9f2,#dae9f2,#d5e7f1,#cfe4ef,#c5dfec,#bbdaea,#b3d6e8,#acd2e5,#a7d0e4,#a9d1e5,#aed3e6,#aed3e6,#a0cce2,#87beda,#78b4d5,#7eb8d7,#96c7df,#a9d1e5,#b6d7e8,#aed3e6,#93c6de,#71b0d3,#65a9cf,#6eaed2,#84bcd9,#9bc9e0,#a5cee3)"></div><div style="top:146px;background:linear-gradient(90deg,#cce2ef,#d2e6f0,#dbeaf2,#e3edf3,#e3edf3,#e1edf3,#e0ecf3,#dbeaf2,#d1e5f0,#c0dceb,#b6d7e8,#a9d1e5,#96c7df,#81bad8,#7bb6d6,#8ac0db,#a5cee3,#b6d7e8,#b6d7e8,#b1d5e7,#b3d6e8,#bbdaea,#c7e0ed,#cfe4ef,#d2e6f0,#d5e7f1,#d7e8f1,#d1e5f0,#c0dceb,#b1d5e7,#aed3e6,#a9d1e5,#a7d0e4,#aed3e6,#c2ddec,#d4e6f1,#ddebf2,#e1edf3,#e1edf3,#dae9f2,#cfe4ef,#c7e0ed,#c5dfec,#bbdaea,#acd2e5,#a7d0e4,#a7d0e4,#aed3e6,#aed3e6,#a0cce2,#87beda,#7bb6d6,#81bad8,#96c7df,#a9d1e5,#b6d7e8,#aed3e6,#90c4dd,#65a9cf,#59a1ca,#62a7ce,#78b4d5,#90c4dd,#98c8e0)"></div><div style="top:147px;background:linear-gradient(90deg,#c2ddec,#cfe4ef,#dae9f2,#e3edf3,#e4eef4,#e3edf3,#e4eef4,#e3edf3,#dae9f2,#cce2ef,#bbdaea,#a9d1e5,#98c8e0,#87beda,#84bcd9,#8dc2dc,#a0cce2,#aed3e6,#aed3e6,#a9d1e5,#a7d0e4,#b1d5e7,#c5dfec,#d1e5f0,#cfe4ef,#cfe4ef,#d1e5f0,#c7e0ed,#b3d6e8,#a9d1e5,#acd2e5,#acd2e5,#acd2e5,#b3d6e8,#c5dfec,#d5e7f1,#e0ecf3,#e6eff4,#e6eff4,#ddebf2,#d1e5f0,#cce2ef,#cfe4ef,#c5dfec,#b1d5e7,#a9d1e5,#acd2e5,#b1d5e7,#aed3e6,#a0cce2,#8dc2dc,#84bcd9,#87beda,#98c8e0,#a9d1e5,#b6d7e8,#aed3e6,#8dc2dc,#62a7ce,#529dc8,#5fa5cd,#75b2d4,#8ac0db,#93c6de)"></div><div style="top:148px;background:linear-gradient(90deg,#c2ddec,#cce2ef,#dae9f2,#e4eef4,#e9f0f4,#e9f0f4,#eaf1f5,#e9f0f4,#e1edf3,#d4e6f1,#bddbea,#a7d0e4,#9bc9e0,#93c6de,#93c6de,#96c7df,#9bc9e0,#9dcbe1,#a0cce2,#9dcbe1,#9bc9e0,#a9d1e5,#c5dfec,#d2e6f0,#cfe4ef,#cae1ee,#cae1ee,#c2ddec,#aed3e6,#a5cee3,#a7d0e4,#acd2e5,#b1d5e7,#bbdaea,#cce2ef,#d8e9f1,#e0ecf3,#e4eef4,#e4eef4,#ddebf2,#d5e7f1,#d4e6f1,#d7e8f1,#cfe4ef,#b8d8e9,#b1d5e7,#b3d6e8,#b3d6e8,#acd2e5,#a2cde3,#98c8e0,#90c4dd,#93c6de,#9dcbe1,#a9d1e5,#b3d6e8,#aed3e6,#90c4dd,#68abd0,#5ca3cb,#65a9cf,#7bb6d6,#8dc2dc,#98c8e0)"></div><div style="top:149px;background:linear-gradient(90deg,#c7e0ed,#cfe4ef,#dae9f2,#e6eff4,#edf2f5,#f0f4f6,#f2f5f6,#eff3f5,#e7f0f4,#dae9f2,#c0dceb,#a7d0e4,#9dcbe1,#a0cce2,#a0cce2,#9dcbe1,#90c4dd,#84bcd9,#84bcd9,#87beda,#8dc2dc,#a2cde3,#c2ddec,#d4e6f1,#d1e5f0,#cae1ee,#cae1ee,#c0dceb,#aed3e6,#a2cde3,#a7d0e4,#aed3e6,#b8d8e9,#c7e0ed,#d5e7f1,#ddebf2,#e0ecf3,#e1edf3,#e1edf3,#deebf2,#dae9f2,#dbeaf2,#ddebf2,#d4e6f1,#c2ddec,#bbdaea,#c0dceb,#b8d8e9,#acd2e5,#a5cee3,#a2cde3,#a0cce2,#a0cce2,#a5cee3,#acd2e5,#b3d6e8,#aed3e6,#96c7df,#75b2d4,#6bacd1,#75b2d4,#87beda,#9bc9e0,#a2cde3)"></div><div style="top:150px;background:linear-gradient(90deg,#cae1ee,#cfe4ef,#d8e9f1,#e4eef4,#eff3f5,#f6f7f7,#f7f6f6,#f5f6f7,#edf2f5,#deebf2,#c5dfec,#a7d0e4,#a2cde3,#a9d1e5,#aed3e6,#a5cee3,#84bcd9,#65a9cf,#65a9cf,#6eaed2,#7eb8d7,#9bc9e0,#c0dceb,#d2e6f0,#d1e5f0,#cce2ef,#cfe4ef,#c5dfec,#b3d6e8,#a7d0e4,#a7d0e4,#b1d5e7,#c0dceb,#d2e6f0,#ddebf2,#e1edf3,#e1edf3,#e0ecf3,#e1edf3,#e0ecf3,#e0ecf3,#e1edf3,#e3edf3,#dae9f2,#cce2ef,#c7e0ed,#cae1ee,#c0dceb,#aed3e6,#a7d0e4,#a9d1e5,#a9d1e5,#a9d1e5,#a9d1e5,#acd2e5,#b1d5e7,#aed3e6,#9dcbe1,#84bcd9,#7bb6d6,#84bcd9,#96c7df,#a7d0e4,#aed3e6)"></div><div style="top:151px;background:linear-gradient(90deg,#c2ddec,#cae1ee,#d5e7f1,#e1edf3,#edf2f5,#f7f6f6,#f8f4f2,#f7f5f4,#f2f5f6,#e1edf3,#c7e0ed,#acd2e5,#a9d1e5,#b3d6e8,#bbdaea,#a9d1e5,#78b4d5,#4c99c6,#4997c5,#569fc9,#6bacd1,#8dc2dc,#b6d7e8,#cfe4ef,#cfe4ef,#cfe4ef,#d2e6f0,#cfe4ef,#bbdaea,#acd2e5,#acd2e5,#b6d7e8,#cae1ee,#d8e9f1,#e3edf3,#e9f0f4,#e9f0f4,#e7f0f4,#e9f0f4,#e7f0f4,#e6eff4,#e7f0f4,#e7f0f4,#e0ecf3,#d4e6f1,#d2e6f0,#d2e6f0,#c7e0ed,#b3d6e8,#acd2e5,#acd2e5,#aed3e6,#aed3e6,#aed3e6,#acd2e5,#aed3e6,#acd2e5,#a2cde3,#93c6de,#8ac0db,#8dc2dc,#a0cce2,#b3d6e8,#bddbea)"></div><div style="top:152px;background:linear-gradient(90deg,#b6d7e8,#c0dceb,#cfe4ef,#dbeaf2,#e7f0f4,#f3f5f6,#f8f3f0,#f8f1ed,#f6f7f7,#e3edf3,#cae1ee,#b1d5e7,#acd2e5,#b8d8e9,#c2ddec,#acd2e5,#6eaed2,#3e8cbf,#3c8abe,#4695c4,#59a1ca,#7eb8d7,#a9d1e5,#c2ddec,#cae1ee,#d1e5f0,#d8e9f1,#d5e7f1,#c5dfec,#b3d6e8,#b3d6e8,#c0dceb,#d2e6f0,#deebf2,#e9f0f4,#eff3f5,#f3f5f6,#f6f7f7,#f6f7f7,#f2f5f6,#edf2f5,#edf2f5,#edf2f5,#e6eff4,#dae9f2,#d7e8f1,#d8e9f1,#d1e5f0,#c0dceb,#b1d5e7,#acd2e5,#aed3e6,#b1d5e7,#aed3e6,#acd2e5,#acd2e5,#acd2e5,#a5cee3,#9bc9e0,#93c6de,#96c7df,#a7d0e4,#bbdaea,#c7e0ed)"></div><div style="top:153px;background:linear-gradient(90deg,#a9d1e5,#b3d6e8,#c5dfec,#d5e7f1,#deebf2,#ecf2f5,#f8f2ef,#f9ede5,#f7f5f4,#e1edf3,#c7e0ed,#b1d5e7,#acd2e5,#b6d7e8,#c0dceb,#a9d1e5,#65a9cf,#3a87bd,#3885bc,#3f8ec0,#4f9bc7,#71b0d3,#9dcbe1,#b8d8e9,#c5dfec,#d1e5f0,#ddebf2,#ddebf2,#cfe4ef,#bddbea,#bddbea,#cae1ee,#d8e9f1,#e3edf3,#edf2f5,#f6f7f7,#f8f1ed,#f9ede5,#f9ede5,#f8f2ef,#f3f5f6,#f2f5f6,#f3f5f6,#ecf2f5,#e0ecf3,#ddebf2,#ddebf2,#d8e9f1,#cce2ef,#b8d8e9,#acd2e5,#acd2e5,#aed3e6,#aed3e6,#acd2e5,#acd2e5,#acd2e5,#a9d1e5,#a5cee3,#9dcbe1,#a0cce2,#aed3e6,#c5dfec,#d1e5f0)"></div><div style="top:154px;background:linear-gradient(90deg,#a5cee3,#acd2e5,#bddbea,#cfe4ef,#d5e7f1,#e4eef4,#f8f2ef,#fae7dc,#f8f3f0,#deebf2,#c0dceb,#a9d1e5,#a5cee3,#aed3e6,#b6d7e8,#a2cde3,#62a7ce,#3a87bd,#3885bc,#408fc1,#4c99c6,#6bacd1,#98c8e0,#b6d7e8,#c5dfec,#d4e6f1,#e0ecf3,#e1edf3,#d5e7f1,#cae1ee,#cae1ee,#d4e6f1,#deebf2,#e9f0f4,#f3f5f6,#f8f2ef,#faeae1,#fbe5d8,#fbe6da,#f9ede5,#f7f5f4,#f6f7f7,#f7f6f6,#f2f5f6,#e6eff4,#e3edf3,#e4eef4,#deebf2,#d2e6f0,#bddbea,#aed3e6,#a9d1e5,#acd2e5,#acd2e5,#acd2e5,#acd2e5,#acd2e5,#aed3e6,#aed3e6,#acd2e5,#aed3e6,#bbdaea,#cfe4ef,#d5e7f1)"></div><div style="top:155px;background:linear-gradient(90deg,#a7d0e4,#acd2e5,#b8d8e9,#c2ddec,#cce2ef,#deebf2,#f9f0eb,#fbe3d4,#f8f2ef,#dae9f2,#b1d5e7,#98c8e0,#93c6de,#9dcbe1,#a5cee3,#93c6de,#62a7ce,#3f8ec0,#3f8ec0,#4997c5,#59a1ca,#75b2d4,#9dcbe1,#bbdaea,#cce2ef,#d8e9f1,#e3edf3,#e3edf3,#dbeaf2,#d4e6f1,#d4e6f1,#dae9f2,#e4eef4,#f0f4f6,#f8f4f2,#f9eee7,#fae7dc,#fbe4d6,#fbe4d6,#fae9df,#f8f1ed,#f8f2ef,#f8f1ed,#f6f7f7,#eaf1f5,#e9f0f4,#edf2f5,#e4eef4,#d4e6f1,#c2ddec,#b6d7e8,#aed3e6,#a9d1e5,#acd2e5,#acd2e5,#acd2e5,#acd2e5,#b1d5e7,#b8d8e9,#bddbea,#c5dfec,#cfe4ef,#d7e8f1,#dae9f2)"></div><div style="top:156px;background:linear-gradient(90deg,#acd2e5,#b1d5e7,#b6d7e8,#bbdaea,#c0dceb,#d8e9f1,#f9f0eb,#fce0d0,#f8f2ef,#d2e6f0,#9dcbe1,#7bb6d6,#7bb6d6,#84bcd9,#8ac0db,#7eb8d7,#62a7ce,#4c99c6,#4c99c6,#59a1ca,#68abd0,#84bcd9,#a7d0e4,#c7e0ed,#d5e7f1,#deebf2,#e3edf3,#e4eef4,#deebf2,#dbeaf2,#dbeaf2,#e1edf3,#eaf1f5,#f6f7f7,#f9efe9,#faeae1,#fae7dc,#fbe6da,#fbe6da,#fae9df,#f9eee7,#f9eee7,#f9ede5,#f8f3f0,#f0f4f6,#f0f4f6,#f5f6f7,#e9f0f4,#d4e6f1,#c5dfec,#c0dceb,#b6d7e8,#a9d1e5,#a9d1e5,#acd2e5,#acd2e5,#acd2e5,#b6d7e8,#c5dfec,#d1e5f0,#d8e9f1,#dbeaf2,#deebf2,#deebf2)"></div><div style="top:157px;background:linear-gradient(90deg,#aed3e6,#aed3e6,#b1d5e7,#b1d5e7,#b6d7e8,#d4e6f1,#f8f4f2,#fbe4d6,#f7f6f6,#c7e0ed,#8ac0db,#62a7ce,#62a7ce,#6bacd1,#6bacd1,#68abd0,#62a7ce,#5ca3cb,#5ca3cb,#62a7ce,#71b0d3,#93c6de,#b3d6e8,#d2e6f0,#ddebf2,#e3edf3,#e3edf3,#e3edf3,#e3edf3,#e1edf3,#e0ecf3,#e4eef4,#eff3f5,#f8f3f0,#f9ebe3,#fae7dc,#fae8de,#fae8de,#fae8de,#fae8de,#fae9df,#fae8de,#fae8de,#f9efe9,#f6f7f7,#f6f7f7,#f7f5f4,#eaf1f5,#d2e6f0,#c7e0ed,#cae1ee,#c0dceb,#acd2e5,#a9d1e5,#acd2e5,#acd2e5,#acd2e5,#b8d8e9,#cce2ef,#dae9f2,#e1edf3,#e4eef4,#e3edf3,#e1edf3)"></div><div style="top:158px;background:linear-gradient(90deg,#a5cee3,#a5cee3,#a5cee3,#a7d0e4,#aed3e6,#cce2ef,#eff3f5,#f9f0eb,#ecf2f5,#bddbea,#81bad8,#569fc9,#4f9bc7,#569fc9,#569fc9,#59a1ca,#5fa5cd,#62a7ce,#5ca3cb,#5fa5cd,#75b2d4,#98c8e0,#bddbea,#d7e8f1,#e1edf3,#e4eef4,#e3edf3,#e3edf3,#e4eef4,#e4eef4,#e3edf3,#e7f0f4,#f2f5f6,#f8f1ed,#fae9df,#fbe6da,#fbe6da,#fae7dc,#fae7dc,#fae7dc,#fbe6da,#fbe4d6,#fbe4d6,#faeae1,#f8f3f0,#f7f5f4,#f6f7f7,#e7f0f4,#d2e6f0,#cce2ef,#d2e6f0,#c7e0ed,#b3d6e8,#a9d1e5,#acd2e5,#a9d1e5,#acd2e5,#b8d8e9,#cce2ef,#d8e9f1,#e1edf3,#e3edf3,#e3edf3,#e1edf3)"></div><div style="top:159px;background:linear-gradient(90deg,#90c4dd,#90c4dd,#96c7df,#9dcbe1,#a7d0e4,#c0dceb,#ddebf2,#e7f0f4,#dbeaf2,#b6d7e8,#81bad8,#569fc9,#4695c4,#4695c4,#4695c4,#4c99c6,#59a1ca,#59a1ca,#4c99c6,#4c99c6,#68abd0,#96c7df,#c0dceb,#dae9f2,#e3edf3,#e6eff4,#e3edf3,#e3edf3,#e6eff4,#e4eef4,#e1edf3,#e6eff4,#f3f5f6,#f8f1ed,#faeae1,#fbe6da,#fbe3d4,#fce2d2,#fbe3d4,#fbe3d4,#fce2d2,#fcdfcf,#fcdfcf,#fbe5d8,#f9eee7,#f7f5f4,#f0f4f6,#e1edf3,#d5e7f1,#d4e6f1,#d7e8f1,#cfe4ef,#bbdaea,#aed3e6,#a9d1e5,#a9d1e5,#acd2e5,#b6d7e8,#c5dfec,#d1e5f0,#d7e8f1,#dbeaf2,#deebf2,#deebf2)"></div><div style="top:160px;background:linear-gradient(90deg,#71b0d3,#75b2d4,#81bad8,#93c6de,#a2cde3,#b3d6e8,#c5dfec,#cce2ef,#c7e0ed,#aed3e6,#84bcd9,#59a1ca,#4393c3,#408fc1,#408fc1,#4393c3,#4c99c6,#4695c4,#3b88be,#3a87bd,#529dc8,#8ac0db,#bbdaea,#d8e9f1,#e3edf3,#e4eef4,#e3edf3,#e3edf3,#e4eef4,#e3edf3,#e1edf3,#e6eff4,#f2f5f6,#f8f2ef,#f9ebe3,#fbe5d8,#fcdecd,#fddcc9,#fdddcb,#fcdecd,#fdddcb,#fddcc9,#fddcc9,#fcdfcf,#fae8de,#f7f5f4,#e9f0f4,#deebf2,#dbeaf2,#dbeaf2,#ddebf2,#d5e7f1,#c7e0ed,#b6d7e8,#a9d1e5,#a7d0e4,#acd2e5,#b3d6e8,#b8d8e9,#bddbea,#c2ddec,#cfe4ef,#d7e8f1,#dae9f2)"></div><div style="top:161px;background:linear-gradient(90deg,#569fc9,#5fa5cd,#71b0d3,#8ac0db,#a0cce2,#acd2e5,#acd2e5,#a9d1e5,#b1d5e7,#a9d1e5,#87beda,#59a1ca,#4291c2,#3c8abe,#3b88be,#3e8cbf,#3f8ec0,#3a87bd,#2e77b5,#2c75b4,#3c8abe,#75b2d4,#b1d5e7,#d5e7f1,#e0ecf3,#e3edf3,#e3edf3,#e3edf3,#e3edf3,#e1edf3,#e1edf3,#e6eff4,#f2f5f6,#f8f3f0,#f9ebe3,#fbe3d4,#fddbc7,#fcd3bc,#fcd5bf,#fcd7c2,#fcd7c2,#fcd5bf,#fcd5bf,#fddbc7,#fbe4d6,#f8f3f0,#e7f0f4,#e0ecf3,#e3edf3,#e6eff4,#e4eef4,#ddebf2,#d2e6f0,#bddbea,#aed3e6,#a9d1e5,#acd2e5,#acd2e5,#acd2e5,#a7d0e4,#a9d1e5,#b8d8e9,#cce2ef,#d4e6f1)"></div><div style="top:162px;background:linear-gradient(90deg,#4997c5,#529dc8,#68abd0,#84bcd9,#a0cce2,#a9d1e5,#a2cde3,#9bc9e0,#a7d0e4,#a7d0e4,#84bcd9,#569fc9,#3f8ec0,#3a87bd,#3681ba,#3480b9,#3480b9,#2c75b4,#2065ab,#1e61a5,#2e77b5,#569fc9,#a0cce2,#cfe4ef,#deebf2,#e3edf3,#e3edf3,#e1edf3,#e0ecf3,#e1edf3,#e4eef4,#eaf1f5,#f0f4f6,#f8f3f0,#fae8de,#fcdfcf,#fdd9c4,#fbd0b9,#fbccb4,#fbccb4,#fbceb7,#fbccb4,#fbccb4,#fcd3bc,#fcdfcf,#f9efe9,#edf2f5,#e7f0f4,#edf2f5,#f2f5f6,#f2f5f6,#e7f0f4,#d8e9f1,#c7e0ed,#b8d8e9,#aed3e6,#acd2e5,#a5cee3,#9dcbe1,#96c7df,#98c8e0,#a9d1e5,#c0dceb,#cce2ef)"></div><div style="top:163px;background:linear-gradient(90deg,#4997c5,#4f9bc7,#65a9cf,#84bcd9,#a0cce2,#a9d1e5,#a2cde3,#9dcbe1,#a7d0e4,#a7d0e4,#81bad8,#529dc8,#3f8ec0,#3885bc,#327cb7,#2c75b4,#2870b1,#2065ab,#175290,#144e8a,#2267ac,#3f8ec0,#8dc2dc,#c7e0ed,#ddebf2,#e4eef4,#e3edf3,#e0ecf3,#ddebf2,#e1edf3,#eaf1f5,#eff3f5,#f0f4f6,#f8f2ef,#fbe4d6,#fddbc7,#fcd7c2,#fbd0b9,#f9c6ac,#f9c2a7,#f9c4a9,#f9c4a9,#f9c4a9,#facab1,#fddbc7,#fae8de,#f8f4f2,#f5f6f7,#f7f5f4,#f8f1ed,#f8f1ed,#f2f5f6,#e0ecf3,#d1e5f0,#c2ddec,#b6d7e8,#acd2e5,#a0cce2,#93c6de,#8ac0db,#8dc2dc,#a0cce2,#b3d6e8,#c0dceb)"></div><div style="top:164px;background:linear-gradient(90deg,#529dc8,#59a1ca,#6eaed2,#87beda,#a0cce2,#acd2e5,#a9d1e5,#a7d0e4,#aed3e6,#a7d0e4,#81bad8,#569fc9,#408fc1,#3a87bd,#327cb7,#2870b1,#2267ac,#1a5899,#10457e,#0e4179,#1b5a9c,#3885bc,#81bad8,#c0dceb,#ddebf2,#e4eef4,#e4eef4,#e0ecf3,#deebf2,#e4eef4,#f0f4f6,#f5f6f7,#f3f5f6,#f8f1ed,#fcdfcf,#fcd5bf,#fcd7c2,#fbd0b9,#f9c2a7,#f7b99c,#f8bb9e,#f8bb9e,#f8bb9e,#f9c4a9,#fcd5bf,#fce2d2,#faeae1,#f9eee7,#f9ebe3,#fae8de,#fae9df,#f8f4f2,#e4eef4,#d7e8f1,#cce2ef,#bddbea,#acd2e5,#9bc9e0,#8ac0db,#84bcd9,#87beda,#9bc9e0,#aed3e6,#b8d8e9)"></div><div style="top:165px;background:linear-gradient(90deg,#65a9cf,#6bacd1,#7bb6d6,#90c4dd,#a2cde3,#aed3e6,#b3d6e8,#b6d7e8,#b8d8e9,#acd2e5,#8dc2dc,#65a9cf,#4f9bc7,#408fc1,#3783bb,#2e77b5,#2369ad,#195696,#0f437b,#0e4179,#1b5a9c,#3885bc,#81bad8,#c0dceb,#dbeaf2,#e6eff4,#e6eff4,#e4eef4,#e4eef4,#edf2f5,#f7f6f6,#f8f4f2,#f6f7f7,#f9efe9,#fdddcb,#fbd0b9,#fcd5bf,#fbccb4,#f7b99c,#f6b191,#f6b394,#f6b394,#f6b394,#f8bb9e,#fbccb4,#fddcc9,#fbe3d4,#fbe5d8,#fbe4d6,#fce2d2,#fbe4d6,#f8f1ed,#e7f0f4,#dae9f2,#d1e5f0,#c5dfec,#b3d6e8,#9dcbe1,#8dc2dc,#84bcd9,#8ac0db,#9bc9e0,#acd2e5,#b3d6e8)"></div><div style="top:166px;background:linear-gradient(90deg,#7eb8d7,#84bcd9,#90c4dd,#9bc9e0,#a2cde3,#aed3e6,#bddbea,#c5dfec,#c0dceb,#b1d5e7,#9dcbe1,#84bcd9,#68abd0,#529dc8,#4393c3,#3b88be,#2e77b5,#1d5fa2,#134c87,#134c87,#2267ac,#408fc1,#90c4dd,#c7e0ed,#ddebf2,#e4eef4,#eaf1f5,#edf2f5,#f0f4f6,#f7f6f6,#f8f1ed,#f8f1ed,#f8f3f0,#f9ede5,#fdddcb,#fbd0b9,#fbceb7,#f9c4a9,#f6b191,#f5a886,#f5aa89,#f5aa89,#f5aa89,#f6b394,#f9c4a9,#fcd5bf,#fdddcb,#fcdecd,#fdddcb,#fdddcb,#fbe3d4,#f9f0eb,#e9f0f4,#dae9f2,#d2e6f0,#cae1ee,#bbdaea,#a7d0e4,#93c6de,#8dc2dc,#96c7df,#a2cde3,#b1d5e7,#b8d8e9)"></div><div style="top:167px;background:linear-gradient(90deg,#98c8e0,#9bc9e0,#a2cde3,#a5cee3,#a5cee3,#acd2e5,#c2ddec,#cfe4ef,#c2ddec,#b1d5e7,#a9d1e5,#9dcbe1,#84bcd9,#6eaed2,#68abd0,#5ca3cb,#3c8abe,#2a71b2,#1d5fa2,#1d5fa2,#2f79b5,#59a1ca,#a2cde3,#d1e5f0,#ddebf2,#e6eff4,#edf2f5,#f6f7f7,#f8f2ef,#f9eee7,#f9ebe3,#f9ede5,#f9eee7,#fae8de,#fdddcb,#fbd0b9,#fac8af,#f7b99c,#f5a886,#f2a17f,#f3a481,#f2a17f,#f2a17f,#f5aa89,#f8bb9e,#fbccb4,#fdd9c4,#fddbc7,#fcd7c2,#fddbc7,#fbe4d6,#f8f2ef,#e9f0f4,#d8e9f1,#d1e5f0,#cce2ef,#c5dfec,#b3d6e8,#a0cce2,#9bc9e0,#a0cce2,#aed3e6,#bddbea,#c5dfec)"></div><div style="top:168px;background:linear-gradient(90deg,#acd2e5,#aed3e6,#aed3e6,#acd2e5,#a9d1e5,#aed3e6,#c2ddec,#cce2ef,#bbdaea,#a9d1e5,#acd2e5,#acd2e5,#98c8e0,#8ac0db,#90c4dd,#87beda,#5fa5cd,#3b88be,#2f79b5,#307ab6,#408fc1,#7bb6d6,#b3d6e8,#d5e7f1,#e0ecf3,#e6eff4,#f0f4f6,#f8f3f0,#faeae1,#fbe6da,#fbe6da,#fae8de,#fae8de,#fbe5d8,#fddcc9,#fbceb7,#f8bfa4,#f6af8e,#f19e7d,#ee9677,#ef9979,#ee9677,#ee9677,#f2a17f,#f6b394,#f9c6ac,#fcd5bf,#fcd7c2,#fcd7c2,#fddcc9,#fbe6da,#f8f4f2,#e6eff4,#d7e8f1,#cfe4ef,#cfe4ef,#cfe4ef,#c2ddec,#aed3e6,#a7d0e4,#aed3e6,#bddbea,#cfe4ef,#d5e7f1)"></div><div style="top:169px;background:linear-gradient(90deg,#bddbea,#bbdaea,#b8d8e9,#b3d6e8,#aed3e6,#b1d5e7,#bddbea,#c0dceb,#a9d1e5,#9bc9e0,#a2cde3,#a9d1e5,#a5cee3,#a5cee3,#aed3e6,#acd2e5,#8ac0db,#5fa5cd,#4c99c6,#4f9bc7,#6bacd1,#96c7df,#c0dceb,#dae9f2,#e1edf3,#e9f0f4,#f3f5f6,#f9f0eb,#fbe5d8,#fce0d0,#fce2d2,#fbe4d6,#fbe3d4,#fcdfcf,#fcd7c2,#fac8af,#f7b799,#f3a481,#eb9172,#e98b6e,#e98b6e,#ea8e70,#e98b6e,#ee9677,#f5aa89,#f8bda1,#fbceb7,#fdd9c4,#fddbc7,#fcdfcf,#fae8de,#f7f6f6,#e1edf3,#d2e6f0,#cce2ef,#d2e6f0,#d5e7f1,#d1e5f0,#c0dceb,#b8d8e9,#bbdaea,#d1e5f0,#e0ecf3,#e9f0f4)"></div><div style="top:170px;background:linear-gradient(90deg,#c7e0ed,#c5dfec,#c0dceb,#bbdaea,#b8d8e9,#b6d7e8,#b3d6e8,#a9d1e5,#93c6de,#84bcd9,#90c4dd,#a0cce2,#acd2e5,#b8d8e9,#cae1ee,#cae1ee,#aed3e6,#93c6de,#8ac0db,#8dc2dc,#98c8e0,#aed3e6,#cce2ef,#ddebf2,#e6eff4,#edf2f5,#f7f6f6,#f9ede5,#fce2d2,#fddcc9,#fdddcb,#fcdecd,#fcdecd,#fddbc7,#fbceb7,#f8bfa4,#f6af8e,#ef9979,#e6866a,#e37e64,#e48066,#e58368,#e58368,#e98b6e,#f19e7d,#f7b799,#fbccb4,#fddcc9,#fce0d0,#fbe4d6,#f9ebe3,#f2f5f6,#dbeaf2,#cce2ef,#cce2ef,#d4e6f1,#dbeaf2,#dae9f2,#d2e6f0,#cae1ee,#cfe4ef,#deebf2,#f2f5f6,#f8f2ef)"></div><div style="top:171px;background:linear-gradient(90deg,#cfe4ef,#cce2ef,#c7e0ed,#c7e0ed,#cae1ee,#c5dfec,#aed3e6,#90c4dd,#75b2d4,#68abd0,#78b4d5,#93c6de,#b1d5e7,#cce2ef,#dbeaf2,#dbeaf2,#cfe4ef,#bddbea,#bbdaea,#bddbea,#bddbea,#c7e0ed,#d7e8f1,#e3edf3,#edf2f5,#f6f7f7,#f9f0eb,#fae7dc,#fcdecd,#fcd7c2,#fcd7c2,#fddbc7,#fddbc7,#fcd3bc,#f9c4a9,#f7b596,#f4a683,#eb9172,#e27b62,#df765e,#e17860,#e17860,#e17860,#e48066,#ec9374,#f6b191,#fbceb7,#fcdecd,#fbe5d8,#fae9df,#f8f1ed,#eaf1f5,#d4e6f1,#c7e0ed,#cce2ef,#d7e8f1,#e0ecf3,#e3edf3,#deebf2,#dae9f2,#ddebf2,#edf2f5,#f9ede5,#fbe4d6)"></div><div style="top:172px;background:linear-gradient(90deg,#cfe4ef,#d1e5f0,#d2e6f0,#d7e8f1,#ddebf2,#d7e8f1,#aed3e6,#75b2d4,#569fc9,#529dc8,#65a9cf,#8ac0db,#b6d7e8,#d8e9f1,#e7f0f4,#eaf1f5,#e1edf3,#dae9f2,#dbeaf2,#ddebf2,#dae9f2,#dbeaf2,#e4eef4,#edf2f5,#f7f6f6,#f9efe9,#fbe6da,#fdddcb,#fcd5bf,#fbd0b9,#fbd0b9,#fcd5bf,#fcd7c2,#fbceb7,#f8bb9e,#f5aa89,#f09c7b,#e8896c,#de735c,#dc6e57,#dc6e57,#dc6e57,#db6b55,#de735c,#e98b6e,#f6b191,#fcd5bf,#fbe3d4,#fae8de,#f9efe9,#f2f5f6,#deebf2,#cae1ee,#c2ddec,#cce2ef,#dae9f2,#e6eff4,#ecf2f5,#eaf1f5,#e9f0f4,#edf2f5,#f8f1ed,#fce0d0,#fcd7c2)"></div><div style="top:173px;background:linear-gradient(90deg,#cfe4ef,#d4e6f1,#ddebf2,#e9f0f4,#f3f5f6,#e9f0f4,#b3d6e8,#65a9cf,#4291c2,#4393c3,#5ca3cb,#8ac0db,#bddbea,#e1edf3,#f3f5f6,#f7f6f6,#f2f5f6,#edf2f5,#eff3f5,#f0f4f6,#edf2f5,#edf2f5,#f3f5f6,#f8f4f2,#f9eee7,#fbe5d8,#fdd9c4,#facab1,#fac8af,#facab1,#fbceb7,#fcd5bf,#fdd9c4,#fbccb4,#f7b596,#f2a17f,#eb9172,#e48066,#db6b55,#d86551,#d86551,#d7634f,#d55d4c,#d86551,#e58368,#f7b799,#fcdfcf,#fae8de,#faeae1,#f7f5f4,#e1edf3,#cfe4ef,#c0dceb,#c0dceb,#cce2ef,#ddebf2,#ecf2f5,#f3f5f6,#f7f6f6,#f7f5f4,#f9f0eb,#fbe4d6,#fcd3bc,#f9c6ac)"></div><div style="top:174px;background:linear-gradient(90deg,#d2e6f0,#dae9f2,#e9f0f4,#f8f3f0,#fae9df,#f8f4f2,#bddbea,#59a1ca,#3b88be,#408fc1,#5ca3cb,#8dc2dc,#c2ddec,#e6eff4,#f8f4f2,#f9eee7,#f9f0eb,#f8f2ef,#f8f1ed,#f8f1ed,#f8f2ef,#f8f1ed,#f9efe9,#f9ebe3,#fae8de,#fce0d0,#fbceb7,#f9c4a9,#f9c6ac,#fbccb4,#fbceb7,#fcd5bf,#fddbc7,#fbccb4,#f6af8e,#ec9374,#e6866a,#df765e,#d7634f,#d35a4a,#d35a4a,#d25849,#cf5246,#d55d4c,#e48066,#f8bfa4,#fae8de,#f9f0eb,#f9eee7,#f0f4f6,#cfe4ef,#b3d6e8,#b3d6e8,#bddbea,#cce2ef,#deebf2,#f0f4f6,#f8f3f0,#f9efe9,#fae9df,#fbe3d4,#fcd7c2,#f9c4a9,#f8bb9e)"></div><div style="top:175px;background:linear-gradient(90deg,#dbeaf2,#e4eef4,#f7f6f6,#fbe6da,#fddbc7,#fae9df,#c7e0ed,#569fc9,#3885bc,#3f8ec0,#5fa5cd,#93c6de,#c7e0ed,#e9f0f4,#f9f0eb,#fbe6da,#fbe5d8,#fae7dc,#fae7dc,#fae7dc,#fae7dc,#fae7dc,#fae7dc,#fae8de,#faeae1,#fae7dc,#fcdecd,#fdd9c4,#fdd9c4,#fdd9c4,#fcd7c2,#fdd9c4,#fddbc7,#facab1,#f5a886,#e8896c,#e17860,#d86551,#cf5246,#cb4942,#cc4c44,#cc4c44,#cc4c44,#d35a4a,#e6866a,#fbccb4,#f8f3f0,#f2f5f6,#f6f7f7,#e1edf3,#b1d5e7,#9dcbe1,#a9d1e5,#b6d7e8,#cae1ee,#e0ecf3,#f6f7f7,#f9eee7,#fae8de,#fce0d0,#fcd5bf,#f9c6ac,#f7b99c,#f6b394)"></div><div style="top:176px;background:linear-gradient(90deg,#edf2f5,#f6f7f7,#fae9df,#fdd9c4,#fac8af,#fce2d2,#d1e5f0,#5ca3cb,#3a87bd,#4291c2,#68abd0,#9bc9e0,#c7e0ed,#e9f0f4,#f9ede5,#fcdecd,#fddcc9,#fdddcb,#fcdecd,#fdddcb,#fdddcb,#fcdfcf,#fbe5d8,#f9ede5,#f8f4f2,#f3f5f6,#f2f5f6,#f7f6f6,#f9efe9,#fae7dc,#fce0d0,#fdddcb,#fddbc7,#f9c6ac,#f2a17f,#e37e64,#db6b55,#cf5246,#c2383a,#be3036,#c2383a,#c6413e,#cb4942,#d6604d,#ec9374,#fddcc9,#ecf2f5,#deebf2,#e1edf3,#cae1ee,#96c7df,#87beda,#9dcbe1,#aed3e6,#c5dfec,#e0ecf3,#f8f4f2,#fae9df,#fbe3d4,#fddbc7,#facab1,#f8bb9e,#f6af8e,#f5aa89)"></div><div style="top:177px;background:linear-gradient(90deg,#f9eee7,#fae8de,#fdddcb,#f9c6ac,#f8bb9e,#fdddcb,#d7e8f1,#65a9cf,#3f8ec0,#4c99c6,#78b4d5,#a5cee3,#cae1ee,#e7f0f4,#faeae1,#fdd9c4,#fbd0b9,#fcd5bf,#fcd5bf,#fcd5bf,#fcd3bc,#fddcc9,#fae8de,#f7f6f6,#e3edf3,#cce2ef,#b3d6e8,#bddbea,#ddebf2,#f7f6f6,#fae9df,#fce0d0,#fcd7c2,#f8bda1,#ef9979,#de735c,#d25849,#c43b3c,#b61f2e,#b3192c,#ba2832,#c43b3c,#cf5246,#dd7059,#f4a683,#fbe6da,#dae9f2,#c2ddec,#c2ddec,#a7d0e4,#7bb6d6,#78b4d5,#90c4dd,#a7d0e4,#c0dceb,#e3edf3,#f8f1ed,#fbe5d8,#fcdfcf,#fcd5bf,#f9c4a9,#f6b394,#f4a683,#f2a17f)"></div><div style="top:178px;background:linear-gradient(90deg,#fce0d0,#fddcc9,#fbccb4,#f8bb9e,#f7b799,#fddbc7,#dbeaf2,#78b4d5,#4c99c6,#5ca3cb,#87beda,#aed3e6,#cce2ef,#e7f0f4,#fae8de,#fcd3bc,#fbceb7,#fcd5bf,#fcd7c2,#fbd0b9,#fbceb7,#fddcc9,#f8f1ed,#e1edf3,#bddbea,#8ac0db,#59a1ca,#65a9cf,#b1d5e7,#e6eff4,#f9f0eb,#fce0d0,#fbccb4,#f6b191,#e98b6e,#d86551,#c6413e,#b61f2e,#a21328,#a21328,#b41c2d,#c43b3c,#d6604d,#e6866a,#f8bb9e,#f8f1ed,#c7e0ed,#a0cce2,#9bc9e0,#84bcd9,#68abd0,#6bacd1,#87beda,#a2cde3,#c2ddec,#e7f0f4,#f9ede5,#fce0d0,#fddbc7,#fbceb7,#f8bda1,#f5ac8b,#f19e7d,#ee9677)"></div><div style="top:179px;background:linear-gradient(90deg,#fcd7c2,#fbceb7,#f9c2a7,#f7b799,#f7b799,#fddcc9,#e0ecf3,#8dc2dc,#65a9cf,#71b0d3,#98c8e0,#b8d8e9,#d4e6f1,#edf2f5,#fbe6da,#fcd3bc,#fcd7c2,#fcdfcf,#fce0d0,#fddcc9,#fcd3bc,#fce0d0,#eff3f5,#bddbea,#8ac0db,#4695c4,#2e77b5,#3885bc,#93c6de,#deebf2,#f8f1ed,#fdddcb,#f8bb9e,#f09c7b,#e27b62,#cf5246,#b82531,#9c1127,#930e26,#9c1127,#b41c2d,#c94741,#df765e,#f3a481,#fcd3bc,#f0f4f6,#aed3e6,#81bad8,#78b4d5,#6bacd1,#5ca3cb,#62a7ce,#81bad8,#a7d0e4,#d1e5f0,#f2f5f6,#fbe5d8,#fdd9c4,#fbd0b9,#f9c2a7,#f6b394,#f2a17f,#ec9374,#e98b6e)"></div><div style="top:180px;background:linear-gradient(90deg,#fcd3bc,#fbccb4,#f9c2a7,#f8bb9e,#f8bda1,#fcdecd,#e4eef4,#a5cee3,#84bcd9,#8ac0db,#a5cee3,#c5dfec,#dbeaf2,#f5f6f7,#fbe4d6,#fdd9c4,#fbe3d4,#f9eee7,#f9f0eb,#fae7dc,#fdddcb,#fae8de,#d8e9f1,#8dc2dc,#4f9bc7,#327cb7,#2369ad,#3681ba,#98c8e0,#e3edf3,#f9ebe3,#fbd0b9,#f4a683,#e48066,#d86551,#c43b3c,#9f1228,#840924,#8d0c25,#a51429,#bb2a34,#d35a4a,#eb9172,#f8bda1,#fbe5d8,#e0ecf3,#9bc9e0,#6bacd1,#65a9cf,#5fa5cd,#569fc9,#62a7ce,#81bad8,#b3d6e8,#e1edf3,#f9efe9,#fddcc9,#facab1,#f8bfa4,#f6b191,#f2a17f,#eb9172,#e6866a,#e58368)"></div><div style="top:181px;background:linear-gradient(90deg,#fcd5bf,#fbd0b9,#facab1,#f9c6ac,#fbccb4,#fbe4d6,#e9f0f4,#b8d8e9,#9dcbe1,#a0cce2,#b1d5e7,#cfe4ef,#e3edf3,#f8f4f2,#fbe4d6,#fce2d2,#f9efe9,#eff3f5,#eaf1f5,#f7f5f4,#fae8de,#f8f3f0,#bddbea,#59a1ca,#3681ba,#2a71b2,#2a71b2,#4997c5,#b6d7e8,#f3f5f6,#fce2d2,#f7b99c,#e58368,#d6604d,#cc4c44,#b72230,#840924,#760521,#991027,#b72230,#c94741,#df765e,#f6af8e,#fdd9c4,#f8f2ef,#cfe4ef,#84bcd9,#5ca3cb,#5ca3cb,#5ca3cb,#59a1ca,#65a9cf,#90c4dd,#cae1ee,#f5f6f7,#fce2d2,#fbccb4,#f8bb9e,#f6af8e,#f09c7b,#e8896c,#e37e64,#e27b62,#e27b62)"></div><div style="top:182px;background:linear-gradient(90deg,#fcd7c2,#fcd7c2,#fcd7c2,#fdd9c4,#fcdecd,#faeae1,#eaf1f5,#cce2ef,#b3d6e8,#aed3e6,#bbdaea,#d2e6f0,#e6eff4,#f8f4f2,#fae9df,#f9ebe3,#f2f5f6,#ddebf2,#d8e9f1,#e7f0f4,#f7f6f6,#eaf1f5,#a2cde3,#4291c2,#2e77b5,#2f79b5,#4291c2,#93c6de,#e1edf3,#fae7dc,#facab1,#f09c7b,#d6604d,#c43b3c,#bd2d35,#a51429,#790622,#7c0722,#b1182b,#c94741,#db6b55,#f09c7b,#fbccb4,#fae8de,#ecf2f5,#b8d8e9,#6bacd1,#4f9bc7,#5fa5cd,#62a7ce,#5fa5cd,#75b2d4,#a7d0e4,#e0ecf3,#fae9df,#fbceb7,#f7b99c,#f5aa89,#ef9979,#e58368,#de735c,#dc6e57,#de735c,#e17860)"></div><div style="top:183px;background:linear-gradient(90deg,#fcd7c2,#fddcc9,#fbe3d4,#fae8de,#f9ede5,#f8f3f0,#eaf1f5,#d7e8f1,#c2ddec,#b8d8e9,#c0dceb,#d2e6f0,#e3edf3,#f2f5f6,#f8f4f2,#f6f7f7,#e3edf3,#d4e6f1,#d1e5f0,#dae9f2,#e3edf3,#d5e7f1,#96c7df,#4393c3,#337eb8,#3f8ec0,#96c7df,#e0ecf3,#fae8de,#fac8af,#f4a683,#de735c,#c43b3c,#b3192c,#a81529,#930e26,#7f0823,#960f27,#c43b3c,#dd7059,#ee9677,#f8bda1,#fbe3d4,#f7f5f4,#deebf2,#a2cde3,#569fc9,#4695c4,#62a7ce,#6bacd1,#6bacd1,#8dc2dc,#cae1ee,#f7f6f6,#fddbc7,#f7b99c,#f5a886,#ec9374,#e48066,#db6b55,#d6604d,#d86551,#dd7059,#df765e)"></div><div style="top:184px;background:linear-gradient(90deg,#fdd9c4,#fce0d0,#f9ede5,#f7f6f6,#f2f5f6,#f0f4f6,#e9f0f4,#ddebf2,#cfe4ef,#c0dceb,#c5dfec,#d2e6f0,#dbeaf2,#e4eef4,#e9f0f4,#e4eef4,#d8e9f1,#cfe4ef,#cfe4ef,#d1e5f0,#cfe4ef,#bddbea,#98c8e0,#62a7ce,#4393c3,#78b4d5,#deebf2,#fcdecd,#f6b394,#ec9374,#de735c,#cb4942,#b41c2d,#991027,#900d26,#8d0c25,#960f27,#ba2832,#db6b55,#f19e7d,#f8bda1,#fdddcb,#f8f1ed,#e9f0f4,#d2e6f0,#90c4dd,#4393c3,#4291c2,#6bacd1,#78b4d5,#7eb8d7,#acd2e5,#e4eef4,#fbe5d8,#f8bfa4,#f4a683,#ec9374,#e37e64,#da6853,#d35a4a,#d05548,#d6604d,#dd7059,#e17860)"></div><div style="top:185px;background:linear-gradient(90deg,#fddcc9,#fbe6da,#f7f5f4,#e7f0f4,#e3edf3,#e6eff4,#e7f0f4,#e1edf3,#d5e7f1,#cae1ee,#cae1ee,#cfe4ef,#d2e6f0,#d4e6f1,#d5e7f1,#d4e6f1,#d1e5f0,#cfe4ef,#d1e5f0,#cae1ee,#b8d8e9,#acd2e5,#a7d0e4,#93c6de,#7eb8d7,#b8d8e9,#fbe5d8,#ec9374,#db6b55,#d35a4a,#c84440,#ba2832,#a51429,#900d26,#8d0c25,#9c1127,#b82531,#d55d4c,#ef9979,#f9c2a7,#fdddcb,#f9ede5,#edf2f5,#dbeaf2,#c2ddec,#81bad8,#3f8ec0,#4393c3,#78b4d5,#90c4dd,#9bc9e0,#cce2ef,#f8f3f0,#fbceb7,#f5a886,#ea8e70,#e37e64,#db6b55,#d05548,#cb4942,#ce4f45,#d6604d,#de735c,#e27b62)"></div><div style="top:186px;background:linear-gradient(90deg,#fbe5d8,#f9eee7,#eff3f5,#deebf2,#dbeaf2,#e0ecf3,#e4eef4,#e3edf3,#dbeaf2,#d2e6f0,#cfe4ef,#cce2ef,#c7e0ed,#c0dceb,#c0dceb,#c2ddec,#c7e0ed,#cfe4ef,#d2e6f0,#c7e0ed,#b3d6e8,#b1d5e7,#c2ddec,#c5dfec,#bbdaea,#e9f0f4,#f7b596,#cc4c44,#bf3338,#bb2a34,#b3192c,#a81529,#a21328,#9f1228,#a81529,#bb2a34,#d35a4a,#eb9172,#f8bfa4,#fcdecd,#f9ebe3,#f5f6f7,#e3edf3,#d2e6f0,#b1d5e7,#78b4d5,#4393c3,#529dc8,#8dc2dc,#a9d1e5,#c0dceb,#e4eef4,#fbe6da,#f7b99c,#ea8e70,#df765e,#da6853,#d25849,#c94741,#c84440,#cc4c44,#d7634f,#e17860,#e58368)"></div><div style="top:187px;background:linear-gradient(90deg,#f8f1ed,#f7f6f6,#e9f0f4,#ddebf2,#dbeaf2,#e0ecf3,#e3edf3,#e4eef4,#e0ecf3,#dae9f2,#d4e6f1,#cae1ee,#bddbea,#b1d5e7,#aed3e6,#b6d7e8,#c2ddec,#cfe4ef,#d1e5f0,#cae1ee,#c0dceb,#cae1ee,#deebf2,#e7f0f4,#eaf1f5,#fbe6da,#e58368,#b82531,#ab162a,#a51429,#991027,#9c1127,#b1182b,#bd2d35,#c53e3d,#d7634f,#ee9677,#f8bfa4,#fdddcb,#faeae1,#f7f6f6,#eaf1f5,#dbeaf2,#c5dfec,#a2cde3,#75b2d4,#569fc9,#6bacd1,#a0cce2,#c7e0ed,#e1edf3,#f7f5f4,#fcdecd,#f6af8e,#e27b62,#d6604d,#d05548,#c94741,#c53e3d,#c6413e,#cf5246,#db6b55,#e48066,#e8896c)"></div><div style="top:188px;background:linear-gradient(90deg,#eff3f5,#eaf1f5,#e4eef4,#e0ecf3,#e0ecf3,#e1edf3,#e3edf3,#e4eef4,#e3edf3,#e0ecf3,#d8e9f1,#cae1ee,#b8d8e9,#a9d1e5,#a7d0e4,#aed3e6,#c2ddec,#cfe4ef,#d1e5f0,#cce2ef,#d1e5f0,#ddebf2,#f2f5f6,#f9f0eb,#fae7dc,#f9c2a7,#d6604d,#ae172a,#9c1127,#930e26,#8a0b25,#9f1228,#c13639,#d6604d,#e37e64,#f2a17f,#f9c6ac,#fcdfcf,#f9ebe3,#f8f4f2,#edf2f5,#e3edf3,#d8e9f1,#bddbea,#98c8e0,#78b4d5,#6eaed2,#87beda,#b3d6e8,#ddebf2,#f7f5f4,#fae8de,#fddbc7,#f6af8e,#df765e,#d05548,#cb4942,#c84440,#c6413e,#cc4c44,#d6604d,#e17860,#e98b6e,#ec9374)"></div><div style="top:189px;background:linear-gradient(90deg,#e1edf3,#e1edf3,#e3edf3,#e3edf3,#e3edf3,#e3edf3,#e3edf3,#e3edf3,#e4eef4,#e3edf3,#d8e9f1,#cae1ee,#b8d8e9,#acd2e5,#a7d0e4,#b1d5e7,#c2ddec,#cfe4ef,#cfe4ef,#cfe4ef,#dae9f2,#eaf1f5,#f9f0eb,#fce2d2,#fbceb7,#f19e7d,#cc4c44,#b1182b,#9f1228,#960f27,#900d26,#b3192c,#d55d4c,#ec9374,#f6b394,#fbd0b9,#fbe5d8,#f9f0eb,#f7f5f4,#f0f4f6,#e6eff4,#ddebf2,#d4e6f1,#b6d7e8,#93c6de,#7eb8d7,#87beda,#a0cce2,#c5dfec,#eaf1f5,#faeae1,#fce0d0,#fddbc7,#f7b596,#e37e64,#d35a4a,#cf5246,#cc4c44,#ce4f45,#d6604d,#df765e,#e98b6e,#f09c7b,#f3a481)"></div><div style="top:190px;background:linear-gradient(90deg,#ddebf2,#deebf2,#e1edf3,#e4eef4,#e6eff4,#e4eef4,#e3edf3,#e3edf3,#e3edf3,#deebf2,#d7e8f1,#cce2ef,#bddbea,#b1d5e7,#aed3e6,#b6d7e8,#c7e0ed,#cfe4ef,#cce2ef,#d1e5f0,#ddebf2,#f0f4f6,#f9ede5,#fddcc9,#f7b99c,#e6866a,#cb4942,#b61f2e,#ae172a,#a81529,#a81529,#c43b3c,#e8896c,#f8bda1,#fdd9c4,#fbe6da,#f8f3f0,#f2f5f6,#eff3f5,#e7f0f4,#deebf2,#d5e7f1,#cae1ee,#b1d5e7,#96c7df,#8dc2dc,#98c8e0,#aed3e6,#d2e6f0,#f0f4f6,#fae8de,#fce2d2,#fcdecd,#f9c2a7,#ee9677,#df765e,#db6b55,#d86551,#dc6e57,#e37e64,#ee9677,#f4a683,#f6af8e,#f6b191)"></div><div style="top:191px;background:linear-gradient(90deg,#ddebf2,#deebf2,#e3edf3,#e4eef4,#e4eef4,#e4eef4,#e4eef4,#e3edf3,#deebf2,#d8e9f1,#d4e6f1,#cce2ef,#c5dfec,#bddbea,#bbdaea,#c0dceb,#cae1ee,#cfe4ef,#cce2ef,#d1e5f0,#ddebf2,#eff3f5,#f9eee7,#fddbc7,#f6b394,#e48066,#ce4f45,#be3036,#bb2a34,#ba2832,#be3036,#d7634f,#f6b191,#fcdecd,#fae8de,#f8f2ef,#eff3f5,#e9f0f4,#e7f0f4,#e3edf3,#d8e9f1,#cfe4ef,#bddbea,#aed3e6,#a0cce2,#98c8e0,#a2cde3,#b8d8e9,#d8e9f1,#f2f5f6,#f9ede5,#fae7dc,#fbe3d4,#fcd3bc,#f6b394,#f09c7b,#ea8e70,#e8896c,#eb9172,#f3a481,#f7b596,#f8bda1,#f9c2a7,#f8bfa4)"></div><div style="top:192px;background:linear-gradient(90deg,#e1edf3,#e1edf3,#e3edf3,#e3edf3,#e3edf3,#e3edf3,#e4eef4,#e3edf3,#d8e9f1,#d1e5f0,#cce2ef,#cfe4ef,#cce2ef,#cae1ee,#cae1ee,#cae1ee,#cce2ef,#cce2ef,#cce2ef,#d1e5f0,#dbeaf2,#eaf1f5,#f8f2ef,#fcdecd,#f7b596,#e58368,#d25849,#c84440,#c84440,#c94741,#cf5246,#e8896c,#fbd0b9,#f9ede5,#f8f3f0,#f5f6f7,#e7f0f4,#e3edf3,#e4eef4,#e0ecf3,#d5e7f1,#c2ddec,#b3d6e8,#acd2e5,#a9d1e5,#a5cee3,#a7d0e4,#c0dceb,#ddebf2,#eff3f5,#f7f5f4,#f9efe9,#fae7dc,#fcdfcf,#fbd0b9,#f8bda1,#f6b191,#f5aa89,#f6b191,#f8bfa4,#fbceb7,#fcd3bc,#fbd0b9,#fbceb7)"></div><div style="top:193px;background:linear-gradient(90deg,#e6eff4,#e6eff4,#e4eef4,#e1edf3,#e1edf3,#e3edf3,#e6eff4,#e3edf3,#d5e7f1,#c5dfec,#c7e0ed,#cfe4ef,#d2e6f0,#d2e6f0,#d2e6f0,#d2e6f0,#d1e5f0,#cce2ef,#cce2ef,#cfe4ef,#d8e9f1,#e4eef4,#f7f6f6,#fbe3d4,#f8bb9e,#e8896c,#d7634f,#cf5246,#d25849,#d6604d,#dd7059,#f5a886,#fce2d2,#f7f5f4,#f5f6f7,#eff3f5,#e4eef4,#e1edf3,#e3edf3,#deebf2,#d2e6f0,#bbdaea,#a9d1e5,#a9d1e5,#b3d6e8,#aed3e6,#a9d1e5,#c2ddec,#e0ecf3,#eaf1f5,#eff3f5,#f7f6f6,#f9ebe3,#fbe6da,#fce2d2,#fdd9c4,#facab1,#f9c2a7,#f9c6ac,#fcd5bf,#fcdecd,#fcdfcf,#fdddcb,#fdd9c4)"></div><div style="top:194px;background:linear-gradient(90deg,#e9f0f4,#e7f0f4,#e4eef4,#e1edf3,#e0ecf3,#e1edf3,#e6eff4,#e3edf3,#d2e6f0,#c0dceb,#c2ddec,#cfe4ef,#d4e6f1,#d5e7f1,#d7e8f1,#d5e7f1,#d1e5f0,#cce2ef,#cce2ef,#cfe4ef,#d5e7f1,#e1edf3,#f3f5f6,#fbe6da,#f8bfa4,#eb9172,#da6853,#d35a4a,#d7634f,#db6b55,#e37e64,#f7b596,#fae8de,#f3f5f6,#f2f5f6,#eff3f5,#e4eef4,#e0ecf3,#e3edf3,#deebf2,#d1e5f0,#b8d8e9,#a5cee3,#a9d1e5,#b8d8e9,#b3d6e8,#a9d1e5,#c5dfec,#e1edf3,#e9f0f4,#e7f0f4,#f2f5f6,#f9eee7,#fae9df,#fae7dc,#fce2d2,#fcd7c2,#fbceb7,#fbd0b9,#fdddcb,#fbe4d6,#fbe4d6,#fce0d0,#fdddcb)"></div><div style="top:205px;background:linear-gradient(90deg,#cfe4ef,#cae1ee,#cae1ee,#cfe4ef,#dae9f2,#e3edf3,#e7f0f4,#e4eef4,#dbeaf2,#cce2ef,#b3d6e8,#a7d0e4,#a9d1e5,#b1d5e7,#b1d5e7,#b1d5e7,#b3d6e8,#b1d5e7,#a7d0e4,#a5cee3,#a7d0e4,#a7d0e4,#a2cde3,#a2cde3,#aed3e6,#cae1ee,#ddebf2,#e1edf3,#d5e7f1,#bddbea,#acd2e5,#a9d1e5,#b1d5e7,#b1d5e7,#a9d1e5,#b3d6e8,#c7e0ed,#cce2ef,#c2ddec,#c2ddec,#cae1ee,#d1e5f0,#cce2ef,#c0dceb,#b1d5e7,#aed3e6,#b1d5e7,#aed3e6,#a9d1e5,#a5cee3,#a2cde3,#a2cde3,#a2cde3,#a5cee3,#a7d0e4,#a7d0e4,#a7d0e4,#a9d1e5,#a9d1e5,#a9d1e5,#a7d0e4,#a5cee3,#a2cde3,#a2cde3)"></div><div style="top:206px;background:linear-gradient(90deg,#cfe4ef,#cae1ee,#c7e0ed,#cce2ef,#d8e9f1,#e3edf3,#e6eff4,#e1edf3,#d8e9f1,#c7e0ed,#b3d6e8,#a7d0e4,#a7d0e4,#a9d1e5,#a9d1e5,#a9d1e5,#a9d1e5,#a9d1e5,#a7d0e4,#a7d0e4,#a7d0e4,#a7d0e4,#a5cee3,#a9d1e5,#b8d8e9,#d1e5f0,#deebf2,#e1edf3,#d5e7f1,#c0dceb,#acd2e5,#a7d0e4,#a9d1e5,#a9d1e5,#a7d0e4,#b1d5e7,#c5dfec,#cfe4ef,#cae1ee,#c7e0ed,#cae1ee,#cfe4ef,#cce2ef,#c0dceb,#aed3e6,#a7d0e4,#a9d1e5,#a9d1e5,#a7d0e4,#a7d0e4,#a7d0e4,#a7d0e4,#a7d0e4,#a7d0e4,#a7d0e4,#a7d0e4,#a7d0e4,#a7d0e4,#a7d0e4,#a7d0e4,#a7d0e4,#a7d0e4,#a7d0e4,#a7d0e4)"></div><div style="top:207px;background:linear-gradient(90deg,#cfe4ef,#cae1ee,#c5dfec,#c7e0ed,#d7e8f1,#e3edf3,#e4eef4,#deebf2,#d5e7f1,#c5dfec,#b3d6e8,#a7d0e4,#a2cde3,#a0cce2,#a0cce2,#a0cce2,#9dcbe1,#a0cce2,#a7d0e4,#a9d1e5,#a9d1e5,#a7d0e4,#a9d1e5,#b3d6e8,#c7e0ed,#d8e9f1,#e1edf3,#e0ecf3,#d4e6f1,#c0dceb,#aed3e6,#a2cde3,#a0cce2,#9dcbe1,#a2cde3,#aed3e6,#c2ddec,#cfe4ef,#d2e6f0,#cfe4ef,#cae1ee,#cce2ef,#cfe4ef,#bddbea,#a7d0e4,#9bc9e0,#a0cce2,#a5cee3,#a7d0e4,#a9d1e5,#a9d1e5,#acd2e5,#acd2e5,#a9d1e5,#a7d0e4,#a7d0e4,#a7d0e4,#a7d0e4,#a7d0e4,#a7d0e4,#a9d1e5,#a9d1e5,#acd2e5,#acd2e5)"></div><div style="top:208px;background:linear-gradient(90deg,#d1e5f0,#cae1ee,#c2ddec,#c7e0ed,#d7e8f1,#e1edf3,#e4eef4,#ddebf2,#d2e6f0,#c2ddec,#b3d6e8,#a5cee3,#9bc9e0,#96c7df,#96c7df,#96c7df,#90c4dd,#96c7df,#a5cee3,#acd2e5,#a9d1e5,#a7d0e4,#aed3e6,#c2ddec,#d4e6f1,#deebf2,#e3edf3,#deebf2,#d4e6f1,#c2ddec,#b1d5e7,#a0cce2,#93c6de,#93c6de,#9dcbe1,#acd2e5,#c0dceb,#d1e5f0,#d8e9f1,#d5e7f1,#cae1ee,#cae1ee,#cfe4ef,#bddbea,#9dcbe1,#8dc2dc,#93c6de,#9dcbe1,#a5cee3,#acd2e5,#acd2e5,#aed3e6,#aed3e6,#acd2e5,#a7d0e4,#a7d0e4,#a7d0e4,#a7d0e4,#a7d0e4,#a7d0e4,#a9d1e5,#acd2e5,#aed3e6,#b1d5e7)"></div><div style="top:209px;background:linear-gradient(90deg,#d1e5f0,#cae1ee,#c2ddec,#c7e0ed,#d7e8f1,#e3edf3,#e4eef4,#deebf2,#d4e6f1,#c5dfec,#b3d6e8,#a5cee3,#93c6de,#87beda,#87beda,#87beda,#84bcd9,#8ac0db,#a0cce2,#acd2e5,#a9d1e5,#a9d1e5,#b6d7e8,#cce2ef,#dbeaf2,#e3edf3,#e4eef4,#deebf2,#d4e6f1,#c2ddec,#b1d5e7,#9dcbe1,#87beda,#87beda,#9bc9e0,#aed3e6,#c0dceb,#d4e6f1,#deebf2,#dae9f2,#cce2ef,#cae1ee,#cfe4ef,#b8d8e9,#93c6de,#7eb8d7,#84bcd9,#96c7df,#a5cee3,#acd2e5,#acd2e5,#acd2e5,#acd2e5,#a9d1e5,#a7d0e4,#a7d0e4,#a7d0e4,#a7d0e4,#a7d0e4,#a7d0e4,#a9d1e5,#acd2e5,#acd2e5,#aed3e6)"></div><div style="top:210px;background:linear-gradient(90deg,#cfe4ef,#cae1ee,#c7e0ed,#cce2ef,#d8e9f1,#e3edf3,#e6eff4,#e3edf3,#d8e9f1,#cae1ee,#b8d8e9,#a5cee3,#8dc2dc,#7eb8d7,#7eb8d7,#7eb8d7,#7bb6d6,#84bcd9,#9bc9e0,#a7d0e4,#a7d0e4,#acd2e5,#bddbea,#d2e6f0,#ddebf2,#e3edf3,#e4eef4,#deebf2,#d4e6f1,#c2ddec,#b1d5e7,#9dcbe1,#87beda,#87beda,#a0cce2,#b3d6e8,#c5dfec,#d7e8f1,#e1edf3,#deebf2,#d1e5f0,#cce2ef,#cfe4ef,#b6d7e8,#8ac0db,#71b0d3,#7bb6d6,#93c6de,#a5cee3,#a9d1e5,#a7d0e4,#a5cee3,#a5cee3,#a7d0e4,#a7d0e4,#a7d0e4,#a7d0e4,#a7d0e4,#a9d1e5,#a7d0e4,#a7d0e4,#a5cee3,#a5cee3,#a5cee3)"></div><div style="top:211px;background:linear-gradient(90deg,#cae1ee,#cce2ef,#d1e5f0,#d5e7f1,#dbeaf2,#e4eef4,#eaf1f5,#ecf2f5,#e3edf3,#d4e6f1,#bddbea,#a2cde3,#87beda,#78b4d5,#78b4d5,#7bb6d6,#7bb6d6,#84bcd9,#93c6de,#a0cce2,#a5cee3,#aed3e6,#c5dfec,#d4e6f1,#d8e9f1,#deebf2,#e4eef4,#e1edf3,#d4e6f1,#c2ddec,#b1d5e7,#9dcbe1,#8dc2dc,#90c4dd,#a7d0e4,#bddbea,#cce2ef,#dae9f2,#e3edf3,#e0ecf3,#d5e7f1,#d1e5f0,#cfe4ef,#b1d5e7,#84bcd9,#6bacd1,#75b2d4,#90c4dd,#a7d0e4,#a7d0e4,#9bc9e0,#96c7df,#98c8e0,#a0cce2,#a7d0e4,#a9d1e5,#a7d0e4,#a9d1e5,#acd2e5,#a9d1e5,#a2cde3,#9bc9e0,#93c6de,#90c4dd)"></div><div style="top:212px;background:linear-gradient(90deg,#c5dfec,#cce2ef,#d5e7f1,#ddebf2,#e0ecf3,#e4eef4,#eff3f5,#f3f5f6,#ecf2f5,#dbeaf2,#c2ddec,#a2cde3,#87beda,#78b4d5,#78b4d5,#7bb6d6,#7eb8d7,#84bcd9,#8ac0db,#93c6de,#a0cce2,#b1d5e7,#c7e0ed,#d2e6f0,#d2e6f0,#d7e8f1,#e1edf3,#e3edf3,#d5e7f1,#c0dceb,#b1d5e7,#a2cde3,#98c8e0,#9dcbe1,#b1d5e7,#c7e0ed,#d5e7f1,#deebf2,#e1edf3,#e0ecf3,#dbeaf2,#d7e8f1,#d1e5f0,#aed3e6,#81bad8,#6bacd1,#75b2d4,#93c6de,#a7d0e4,#a2cde3,#8dc2dc,#81bad8,#87beda,#98c8e0,#a7d0e4,#a9d1e5,#a7d0e4,#acd2e5,#aed3e6,#a7d0e4,#9bc9e0,#8ac0db,#7bb6d6,#71b0d3)"></div><div style="top:213px;background:linear-gradient(90deg,#c0dceb,#cce2ef,#dae9f2,#e1edf3,#e1edf3,#e3edf3,#eff3f5,#f7f6f6,#f0f4f6,#deebf2,#c5dfec,#a2cde3,#8ac0db,#7eb8d7,#7eb8d7,#81bad8,#81bad8,#81bad8,#81bad8,#87beda,#9bc9e0,#b1d5e7,#c5dfec,#cce2ef,#cae1ee,#d1e5f0,#deebf2,#e1edf3,#d5e7f1,#c0dceb,#aed3e6,#a5cee3,#a2cde3,#acd2e5,#bddbea,#d2e6f0,#ddebf2,#e3edf3,#e1edf3,#e1edf3,#e1edf3,#ddebf2,#d2e6f0,#b1d5e7,#87beda,#71b0d3,#7bb6d6,#96c7df,#a7d0e4,#a0cce2,#87beda,#78b4d5,#7eb8d7,#96c7df,#a7d0e4,#a9d1e5,#a7d0e4,#a9d1e5,#a9d1e5,#9dcbe1,#87beda,#6eaed2,#5ca3cb,#569fc9)"></div><div style="top:214px;background:linear-gradient(90deg,#bbdaea,#c7e0ed,#dae9f2,#e3edf3,#e0ecf3,#e0ecf3,#eaf1f5,#f3f5f6,#edf2f5,#ddebf2,#c2ddec,#a5cee3,#93c6de,#8ac0db,#8ac0db,#8ac0db,#84bcd9,#7bb6d6,#75b2d4,#7eb8d7,#93c6de,#a9d1e5,#bddbea,#c5dfec,#c5dfec,#cfe4ef,#dae9f2,#deebf2,#d5e7f1,#c0dceb,#acd2e5,#a5cee3,#a9d1e5,#b8d8e9,#cae1ee,#d8e9f1,#e4eef4,#e7f0f4,#e4eef4,#e6eff4,#e9f0f4,#e4eef4,#d5e7f1,#b8d8e9,#98c8e0,#84bcd9,#84bcd9,#96c7df,#a5cee3,#a0cce2,#8ac0db,#7eb8d7,#84bcd9,#96c7df,#a7d0e4,#acd2e5,#a7d0e4,#a7d0e4,#a0cce2,#8ac0db,#68abd0,#4f9bc7,#4291c2,#408fc1)"></div><div style="top:215px;background:linear-gradient(90deg,#b3d6e8,#c0dceb,#d5e7f1,#deebf2,#dbeaf2,#dae9f2,#e4eef4,#ecf2f5,#e6eff4,#d7e8f1,#bddbea,#a7d0e4,#9dcbe1,#9bc9e0,#9bc9e0,#93c6de,#81bad8,#6eaed2,#6bacd1,#75b2d4,#8ac0db,#a0cce2,#aed3e6,#bbdaea,#c5dfec,#cfe4ef,#d5e7f1,#d8e9f1,#d2e6f0,#c2ddec,#acd2e5,#a5cee3,#b1d5e7,#c2ddec,#d2e6f0,#deebf2,#eaf1f5,#edf2f5,#eaf1f5,#ecf2f5,#eff3f5,#eaf1f5,#dbeaf2,#c7e0ed,#acd2e5,#9bc9e0,#90c4dd,#98c8e0,#a5cee3,#a2cde3,#96c7df,#90c4dd,#90c4dd,#9bc9e0,#a7d0e4,#acd2e5,#a9d1e5,#a2cde3,#90c4dd,#6bacd1,#4997c5,#3c8abe,#3a87bd,#3a87bd)"></div><div style="top:216px;background:linear-gradient(90deg,#a7d0e4,#b3d6e8,#cae1ee,#d5e7f1,#d4e6f1,#d4e6f1,#ddebf2,#e4eef4,#ddebf2,#cfe4ef,#b8d8e9,#a7d0e4,#a2cde3,#a5cee3,#a9d1e5,#9dcbe1,#7bb6d6,#5ca3cb,#59a1ca,#68abd0,#7eb8d7,#93c6de,#a2cde3,#b3d6e8,#c5dfec,#cfe4ef,#d1e5f0,#d1e5f0,#d1e5f0,#c2ddec,#acd2e5,#a7d0e4,#b8d8e9,#cce2ef,#d8e9f1,#e4eef4,#f0f4f6,#f3f5f6,#f2f5f6,#f2f5f6,#f5f6f7,#eff3f5,#e1edf3,#d4e6f1,#c2ddec,#aed3e6,#a0cce2,#9dcbe1,#a5cee3,#a7d0e4,#a2cde3,#a0cce2,#a0cce2,#a2cde3,#a7d0e4,#a9d1e5,#a9d1e5,#9dcbe1,#84bcd9,#59a1ca,#3b88be,#3480b9,#3681ba,#3885bc)"></div><div style="top:217px;background:linear-gradient(90deg,#96c7df,#a2cde3,#b6d7e8,#c5dfec,#c2ddec,#c7e0ed,#dae9f2,#e3edf3,#dae9f2,#c5dfec,#b1d5e7,#a5cee3,#a2cde3,#a9d1e5,#b1d5e7,#a2cde3,#75b2d4,#4997c5,#4393c3,#569fc9,#6bacd1,#84bcd9,#9bc9e0,#aed3e6,#c2ddec,#cae1ee,#cae1ee,#cae1ee,#cce2ef,#c2ddec,#aed3e6,#acd2e5,#c2ddec,#d5e7f1,#e0ecf3,#eaf1f5,#f6f7f7,#f8f4f2,#f8f4f2,#f7f5f4,#f7f5f4,#f3f5f6,#e7f0f4,#ddebf2,#d2e6f0,#c2ddec,#b1d5e7,#a9d1e5,#a9d1e5,#a9d1e5,#a9d1e5,#a9d1e5,#a9d1e5,#a9d1e5,#a7d0e4,#a9d1e5,#a7d0e4,#a0cce2,#87beda,#59a1ca,#3a87bd,#3681ba,#3b88be,#3f8ec0)"></div><div style="top:218px;background:linear-gradient(90deg,#7bb6d6,#8ac0db,#a0cce2,#acd2e5,#acd2e5,#bbdaea,#dbeaf2,#ecf2f5,#e0ecf3,#c5dfec,#acd2e5,#9dcbe1,#9bc9e0,#a5cee3,#b3d6e8,#a7d0e4,#6bacd1,#3e8cbf,#3885bc,#3f8ec0,#569fc9,#78b4d5,#96c7df,#acd2e5,#b8d8e9,#c0dceb,#c2ddec,#c7e0ed,#cae1ee,#c2ddec,#b3d6e8,#b6d7e8,#cfe4ef,#ddebf2,#e6eff4,#f0f4f6,#f8f3f0,#f9efe9,#f9eee7,#f9f0eb,#f8f4f2,#f5f6f7,#eff3f5,#e6eff4,#dae9f2,#d1e5f0,#c5dfec,#bbdaea,#b1d5e7,#acd2e5,#a9d1e5,#acd2e5,#acd2e5,#acd2e5,#a7d0e4,#a7d0e4,#a7d0e4,#a7d0e4,#9bc9e0,#71b0d3,#4695c4,#4291c2,#4c99c6,#59a1ca)"></div><div style="top:219px;background:linear-gradient(90deg,#5fa5cd,#6bacd1,#84bcd9,#96c7df,#98c8e0,#b1d5e7,#e1edf3,#f7f5f4,#edf2f5,#cfe4ef,#a7d0e4,#90c4dd,#8ac0db,#98c8e0,#aed3e6,#a5cee3,#65a9cf,#3681ba,#2c75b4,#327cb7,#4291c2,#6eaed2,#98c8e0,#acd2e5,#aed3e6,#b3d6e8,#bddbea,#c7e0ed,#cae1ee,#c2ddec,#bbdaea,#c2ddec,#d5e7f1,#e3edf3,#edf2f5,#f7f6f6,#f9efe9,#fae9df,#fae8de,#f9eee7,#f8f4f2,#f6f7f7,#f5f6f7,#ecf2f5,#e0ecf3,#d8e9f1,#d5e7f1,#cfe4ef,#c0dceb,#b1d5e7,#a7d0e4,#a7d0e4,#acd2e5,#acd2e5,#a7d0e4,#a5cee3,#a7d0e4,#b1d5e7,#b3d6e8,#98c8e0,#71b0d3,#6bacd1,#78b4d5,#84bcd9)"></div><div style="top:220px;background:linear-gradient(90deg,#4997c5,#59a1ca,#71b0d3,#84bcd9,#8ac0db,#acd2e5,#e9f0f4,#fae9df,#f8f2ef,#dae9f2,#a7d0e4,#7eb8d7,#75b2d4,#8ac0db,#a7d0e4,#a2cde3,#62a7ce,#327cb7,#266caf,#2a71b2,#3b88be,#68abd0,#98c8e0,#acd2e5,#a9d1e5,#acd2e5,#c0dceb,#cce2ef,#cce2ef,#c7e0ed,#c5dfec,#cfe4ef,#dbeaf2,#e7f0f4,#f2f5f6,#f8f3f0,#faeae1,#fbe6da,#fbe6da,#f9ede5,#f7f5f4,#f6f7f7,#f7f6f6,#f0f4f6,#e3edf3,#e0ecf3,#e0ecf3,#dbeaf2,#cce2ef,#b8d8e9,#a9d1e5,#a5cee3,#a7d0e4,#a9d1e5,#a7d0e4,#a5cee3,#a7d0e4,#b8d8e9,#c7e0ed,#b8d8e9,#a0cce2,#9bc9e0,#a0cce2,#a7d0e4)"></div><div style="top:221px;background:linear-gradient(90deg,#4393c3,#529dc8,#6eaed2,#81bad8,#8ac0db,#b1d5e7,#f2f5f6,#fdddcb,#fbe4d6,#e9f0f4,#a9d1e5,#6eaed2,#62a7ce,#7eb8d7,#a0cce2,#9bc9e0,#62a7ce,#337eb8,#246aae,#276eb0,#3b88be,#6bacd1,#98c8e0,#a9d1e5,#a7d0e4,#aed3e6,#c7e0ed,#d4e6f1,#d2e6f0,#cfe4ef,#d1e5f0,#d5e7f1,#deebf2,#e7f0f4,#f3f5f6,#f9f0eb,#fae8de,#fbe4d6,#fae7dc,#f9efe9,#f7f6f6,#f6f7f7,#f7f6f6,#f3f5f6,#e9f0f4,#e6eff4,#e9f0f4,#e4eef4,#d7e8f1,#c2ddec,#b1d5e7,#a7d0e4,#a5cee3,#a7d0e4,#a9d1e5,#a5cee3,#a7d0e4,#bddbea,#d1e5f0,#d1e5f0,#c5dfec,#c0dceb,#c2ddec,#c5dfec)"></div><div style="top:222px;background:linear-gradient(90deg,#4c99c6,#5ca3cb,#78b4d5,#8dc2dc,#96c7df,#bddbea,#f7f5f4,#fbd0b9,#fcd3bc,#f7f5f4,#b1d5e7,#5ca3cb,#529dc8,#75b2d4,#96c7df,#93c6de,#62a7ce,#3783bb,#2870b1,#2c75b4,#408fc1,#75b2d4,#98c8e0,#a7d0e4,#acd2e5,#b8d8e9,#d1e5f0,#dae9f2,#dae9f2,#d7e8f1,#d8e9f1,#dbeaf2,#deebf2,#e6eff4,#f2f5f6,#f9efe9,#fbe6da,#fbe5d8,#faeae1,#f8f2ef,#f6f7f7,#f5f6f7,#f7f6f6,#f3f5f6,#edf2f5,#edf2f5,#eff3f5,#eaf1f5,#deebf2,#d1e5f0,#bbdaea,#acd2e5,#a5cee3,#a7d0e4,#a9d1e5,#a5cee3,#a7d0e4,#bbdaea,#d2e6f0,#dae9f2,#dae9f2,#d8e9f1,#d7e8f1,#d5e7f1)"></div><div style="top:223px;background:linear-gradient(90deg,#62a7ce,#6eaed2,#8ac0db,#9dcbe1,#a5cee3,#cae1ee,#f8f2ef,#fbccb4,#fac8af,#f9eee7,#b3d6e8,#4f9bc7,#4393c3,#68abd0,#87beda,#87beda,#68abd0,#408fc1,#327cb7,#3480b9,#4f9bc7,#81bad8,#9bc9e0,#a9d1e5,#b6d7e8,#c7e0ed,#dae9f2,#e0ecf3,#e0ecf3,#deebf2,#deebf2,#deebf2,#deebf2,#e4eef4,#f2f5f6,#f9f0eb,#fae7dc,#fae7dc,#f9f0eb,#f7f6f6,#f5f6f7,#f6f7f7,#f6f7f7,#f5f6f7,#f3f5f6,#f3f5f6,#f5f6f7,#eff3f5,#e4eef4,#d7e8f1,#c7e0ed,#b3d6e8,#a7d0e4,#a5cee3,#a9d1e5,#a7d0e4,#a7d0e4,#b6d7e8,#cfe4ef,#dbeaf2,#e3edf3,#e3edf3,#e0ecf3,#deebf2)"></div><div style="top:224px;background:linear-gradient(90deg,#7eb8d7,#8ac0db,#a0cce2,#aed3e6,#b3d6e8,#d1e5f0,#f8f4f2,#fcd7c2,#fbceb7,#f9efe9,#b1d5e7,#4997c5,#3f8ec0,#59a1ca,#75b2d4,#7eb8d7,#71b0d3,#569fc9,#3e8cbf,#3f8ec0,#68abd0,#93c6de,#a5cee3,#b1d5e7,#c2ddec,#d5e7f1,#e0ecf3,#e4eef4,#e4eef4,#e3edf3,#e3edf3,#e3edf3,#e1edf3,#e6eff4,#f0f4f6,#f8f1ed,#fae9df,#f9ebe3,#f7f5f4,#f3f5f6,#f6f7f7,#f7f5f4,#f7f6f6,#f7f6f6,#f7f6f6,#f8f4f2,#f8f4f2,#f2f5f6,#e4eef4,#dae9f2,#d1e5f0,#bddbea,#acd2e5,#a5cee3,#a7d0e4,#a5cee3,#a7d0e4,#b3d6e8,#c7e0ed,#d7e8f1,#e0ecf3,#e3edf3,#e1edf3,#e0ecf3)"></div><div style="top:225px;background:linear-gradient(90deg,#9dcbe1,#a5cee3,#b3d6e8,#bbdaea,#bddbea,#d1e5f0,#f2f5f6,#fbe6da,#fbe3d4,#f3f5f6,#a7d0e4,#4695c4,#3b88be,#4695c4,#5fa5cd,#75b2d4,#7eb8d7,#6eaed2,#4f9bc7,#529dc8,#7eb8d7,#a5cee3,#b1d5e7,#bddbea,#d2e6f0,#ddebf2,#e3edf3,#e6eff4,#e6eff4,#e4eef4,#e4eef4,#e4eef4,#e7f0f4,#ecf2f5,#f2f5f6,#f8f4f2,#f9eee7,#f8f1ed,#f3f5f6,#f3f5f6,#f8f4f2,#f8f1ed,#f8f3f0,#f8f4f2,#f8f3f0,#f9f0eb,#f9f0eb,#f5f6f7,#e1edf3,#d8e9f1,#d4e6f1,#c7e0ed,#b3d6e8,#a9d1e5,#a5cee3,#a2cde3,#a5cee3,#aed3e6,#bddbea,#c7e0ed,#d1e5f0,#d5e7f1,#dae9f2,#ddebf2)"></div><div style="top:226px;background:linear-gradient(90deg,#b6d7e8,#bbdaea,#c2ddec,#c5dfec,#c2ddec,#cfe4ef,#e6eff4,#f7f5f4,#f7f5f4,#e0ecf3,#9bc9e0,#4997c5,#3a87bd,#3c8abe,#4c99c6,#6bacd1,#84bcd9,#7eb8d7,#62a7ce,#5fa5cd,#8dc2dc,#b1d5e7,#bddbea,#cae1ee,#dae9f2,#e3edf3,#e4eef4,#e4eef4,#e4eef4,#e4eef4,#e3edf3,#e7f0f4,#edf2f5,#f2f5f6,#f3f5f6,#f7f6f6,#f8f3f0,#f7f5f4,#f2f5f6,#f6f7f7,#f9f0eb,#f9ebe3,#f9eee7,#f9f0eb,#f9efe9,#faeae1,#faeae1,#f7f6f6,#e0ecf3,#d7e8f1,#d8e9f1,#d1e5f0,#bddbea,#aed3e6,#a5cee3,#a2cde3,#a5cee3,#aed3e6,#b3d6e8,#b1d5e7,#aed3e6,#b8d8e9,#cae1ee,#d2e6f0)"></div><div style="top:227px;background:linear-gradient(90deg,#c7e0ed,#cae1ee,#cce2ef,#cae1ee,#c7e0ed,#cce2ef,#dae9f2,#e6eff4,#e1edf3,#cae1ee,#8dc2dc,#4c99c6,#3a87bd,#3a87bd,#4291c2,#5fa5cd,#7eb8d7,#7eb8d7,#62a7ce,#5fa5cd,#8dc2dc,#b3d6e8,#c2ddec,#d1e5f0,#ddebf2,#e4eef4,#e3edf3,#e3edf3,#e3edf3,#e1edf3,#e0ecf3,#e7f0f4,#f2f5f6,#f7f6f6,#f7f6f6,#f6f7f7,#f7f6f6,#f6f7f7,#f5f6f7,#f8f3f0,#faeae1,#fae7dc,#fae8de,#faeae1,#fae9df,#fbe6da,#fbe6da,#f8f3f0,#e4eef4,#ddebf2,#e0ecf3,#dbeaf2,#cce2ef,#b6d7e8,#a7d0e4,#a2cde3,#a7d0e4,#acd2e5,#a9d1e5,#98c8e0,#87beda,#96c7df,#acd2e5,#bbdaea)"></div><div style="top:228px;background:linear-gradient(90deg,#cce2ef,#cce2ef,#cae1ee,#c7e0ed,#c7e0ed,#cce2ef,#d5e7f1,#d8e9f1,#d2e6f0,#b3d6e8,#81bad8,#4c99c6,#3c8abe,#3b88be,#408fc1,#529dc8,#6bacd1,#68abd0,#4695c4,#4695c4,#78b4d5,#a7d0e4,#bbdaea,#cce2ef,#d8e9f1,#e0ecf3,#e1edf3,#e0ecf3,#e0ecf3,#deebf2,#ddebf2,#e4eef4,#f3f5f6,#f8f3f0,#f8f3f0,#f7f5f4,#f7f6f6,#f7f6f6,#f8f3f0,#f9eee7,#fbe6da,#fce2d2,#fce2d2,#fce2d2,#fce2d2,#fce0d0,#fbe3d4,#f9eee7,#f0f4f6,#ecf2f5,#eff3f5,#e7f0f4,#d7e8f1,#c2ddec,#b1d5e7,#acd2e5,#acd2e5,#acd2e5,#a0cce2,#81bad8,#68abd0,#6eaed2,#8ac0db,#9bc9e0)"></div><div style="top:229px;background:linear-gradient(90deg,#c5dfec,#c2ddec,#c0dceb,#c0dceb,#c5dfec,#cce2ef,#d2e6f0,#d2e6f0,#c7e0ed,#a9d1e5,#7bb6d6,#4c99c6,#4291c2,#4291c2,#408fc1,#4393c3,#4c99c6,#4291c2,#337eb8,#337eb8,#529dc8,#90c4dd,#acd2e5,#c0dceb,#d1e5f0,#d8e9f1,#deebf2,#e0ecf3,#deebf2,#dbeaf2,#dbeaf2,#e3edf3,#f2f5f6,#f8f2ef,#f9f0eb,#f8f1ed,#f8f3f0,#f8f1ed,#f9ebe3,#fbe6da,#fce2d2,#fdddcb,#fdd9c4,#fcd5bf,#fcd7c2,#fddbc7,#fcdfcf,#fae7dc,#f9eee7,#f9efe9,#f8f1ed,#f3f5f6,#e0ecf3,#cce2ef,#bbdaea,#b8d8e9,#b6d7e8,#acd2e5,#96c7df,#6eaed2,#569fc9,#569fc9,#68abd0,#75b2d4)"></div><div style="top:230px;background:linear-gradient(90deg,#b6d7e8,#b3d6e8,#aed3e6,#b1d5e7,#c0dceb,#cfe4ef,#d1e5f0,#cfe4ef,#c2ddec,#a7d0e4,#75b2d4,#4f9bc7,#4c99c6,#4c99c6,#4291c2,#3b88be,#3783bb,#2e77b5,#1f63a8,#2065ab,#3b88be,#75b2d4,#9dcbe1,#b3d6e8,#c5dfec,#d2e6f0,#ddebf2,#e1edf3,#e0ecf3,#ddebf2,#ddebf2,#e3edf3,#f0f4f6,#f8f2ef,#f9ebe3,#f9ebe3,#f9eee7,#fae9df,#fce2d2,#fdddcb,#fdddcb,#fcd7c2,#fac8af,#f8bfa4,#f9c2a7,#fbceb7,#fddbc7,#fcdecd,#fcdfcf,#fce0d0,#fae7dc,#f8f4f2,#e4eef4,#d4e6f1,#c7e0ed,#c5dfec,#c2ddec,#aed3e6,#8ac0db,#65a9cf,#4f9bc7,#4c99c6,#569fc9,#5ca3cb)"></div><div style="top:231px;background:linear-gradient(90deg,#a7d0e4,#a2cde3,#9dcbe1,#a2cde3,#b6d7e8,#cae1ee,#cce2ef,#c7e0ed,#b8d8e9,#a0cce2,#75b2d4,#569fc9,#569fc9,#569fc9,#408fc1,#337eb8,#2a71b2,#1d5fa2,#114781,#175290,#337eb8,#68abd0,#98c8e0,#aed3e6,#c0dceb,#d2e6f0,#deebf2,#e6eff4,#e6eff4,#e4eef4,#e3edf3,#e7f0f4,#f2f5f6,#f8f1ed,#fae8de,#fbe5d8,#fbe6da,#fce0d0,#fcd3bc,#fbceb7,#fcd3bc,#fac8af,#f7b596,#f5aa89,#f5ac8b,#f8bda1,#fbceb7,#fbd0b9,#fbd0b9,#fdd9c4,#fbe6da,#f7f5f4,#e4eef4,#d4e6f1,#cce2ef,#d1e5f0,#d1e5f0,#b1d5e7,#84bcd9,#65a9cf,#5ca3cb,#5ca3cb,#5ca3cb,#5fa5cd)"></div><div style="top:232px;background:linear-gradient(90deg,#98c8e0,#93c6de,#8dc2dc,#96c7df,#acd2e5,#c0dceb,#c2ddec,#b8d8e9,#acd2e5,#96c7df,#78b4d5,#62a7ce,#5fa5cd,#569fc9,#3c8abe,#2b73b3,#1f63a8,#134c87,#0a3b70,#124984,#327cb7,#6eaed2,#9dcbe1,#b6d7e8,#c7e0ed,#d7e8f1,#e4eef4,#edf2f5,#f0f4f6,#f0f4f6,#f0f4f6,#f2f5f6,#f6f7f7,#f9f0eb,#fbe5d8,#fcdfcf,#fdddcb,#fcd3bc,#f8bfa4,#f8bb9e,#f9c2a7,#f7b799,#f2a17f,#eb9172,#ee9677,#f5a886,#f8bb9e,#f9c2a7,#fac8af,#fddcc9,#f9ede5,#eff3f5,#deebf2,#d2e6f0,#cce2ef,#d7e8f1,#d8e9f1,#b8d8e9,#84bcd9,#6eaed2,#78b4d5,#7eb8d7,#81bad8,#81bad8)"></div><div style="top:233px;background:linear-gradient(90deg,#8dc2dc,#87beda,#81bad8,#87beda,#a0cce2,#b6d7e8,#b8d8e9,#acd2e5,#9dcbe1,#8ac0db,#7bb6d6,#71b0d3,#68abd0,#4f9bc7,#3783bb,#266caf,#1a5899,#10457e,#09386d,#144e8a,#3885bc,#81bad8,#acd2e5,#c2ddec,#d2e6f0,#deebf2,#eaf1f5,#f5f6f7,#f8f3f0,#f8f1ed,#f8f1ed,#f8f2ef,#f8f2ef,#f9ebe3,#fce2d2,#fdd9c4,#fbd0b9,#f8bfa4,#f5ac8b,#f5aa89,#f6b191,#f4a683,#e8896c,#e17860,#e37e64,#eb9172,#f4a683,#f7b596,#fac8af,#fbe3d4,#f6f7f7,#e1edf3,#d5e7f1,#cce2ef,#cce2ef,#dae9f2,#deebf2,#c0dceb,#90c4dd,#87beda,#9dcbe1,#acd2e5,#b1d5e7,#b3d6e8)"></div><div style="top:234px;background:linear-gradient(90deg,#87beda,#81bad8,#7bb6d6,#81bad8,#98c8e0,#a9d1e5,#aed3e6,#a7d0e4,#93c6de,#81bad8,#81bad8,#7eb8d7,#6eaed2,#4c99c6,#337eb8,#2369ad,#1a5899,#124984,#0e4179,#1b5a9c,#4291c2,#96c7df,#bbdaea,#cfe4ef,#dbeaf2,#e6eff4,#f0f4f6,#f8f3f0,#f9ebe3,#fae7dc,#fae7dc,#fae9df,#faeae1,#fbe6da,#fdddcb,#fbceb7,#f8bfa4,#f6af8e,#f19e7d,#ef9979,#f09c7b,#eb9172,#e17860,#db6b55,#dd7059,#e37e64,#eb9172,#f5ac8b,#facab1,#faeae1,#e9f0f4,#d5e7f1,#cce2ef,#c5dfec,#c7e0ed,#dae9f2,#e3edf3,#cfe4ef,#a5cee3,#a7d0e4,#c2ddec,#d7e8f1,#ddebf2,#e0ecf3)"></div><div style="top:235px;background:linear-gradient(90deg,#8ac0db,#87beda,#84bcd9,#87beda,#93c6de,#a2cde3,#aed3e6,#a9d1e5,#93c6de,#7eb8d7,#81bad8,#87beda,#78b4d5,#529dc8,#337eb8,#2369ad,#1f63a8,#1c5c9f,#185493,#246aae,#59a1ca,#a7d0e4,#c7e0ed,#d5e7f1,#e0ecf3,#e9f0f4,#f3f5f6,#f8f1ed,#fae7dc,#fce2d2,#fce2d2,#fbe3d4,#fce0d0,#fdddcb,#fcd3bc,#f9c4a9,#f6b394,#f2a17f,#eb9172,#e8896c,#e6866a,#e37e64,#dd7059,#da6853,#da6853,#dd7059,#e6866a,#f5a886,#fbd0b9,#f9efe9,#e3edf3,#d2e6f0,#cae1ee,#c2ddec,#c7e0ed,#d8e9f1,#e3edf3,#d8e9f1,#c7e0ed,#d1e5f0,#e3edf3,#f2f5f6,#f8f3f0,#f8f1ed)"></div><div style="top:236px;background:linear-gradient(90deg,#93c6de,#93c6de,#93c6de,#93c6de,#96c7df,#a0cce2,#b3d6e8,#b3d6e8,#9bc9e0,#7eb8d7,#81bad8,#8ac0db,#81bad8,#5fa5cd,#3783bb,#2870b1,#2b73b3,#2b73b3,#276eb0,#337eb8,#75b2d4,#b6d7e8,#d1e5f0,#dae9f2,#e4eef4,#edf2f5,#f6f7f7,#f9efe9,#fbe4d6,#fcdecd,#fcdfcf,#fdddcb,#fcd3bc,#fbccb4,#fac8af,#f8bb9e,#f5a886,#ee9677,#e8896c,#e27b62,#dd7059,#dc6e57,#dd7059,#dc6e57,#da6853,#dc6e57,#e58368,#f5aa89,#fcd7c2,#f9f0eb,#e4eef4,#d4e6f1,#cae1ee,#c5dfec,#cae1ee,#d5e7f1,#e1edf3,#e4eef4,#e6eff4,#eff3f5,#f8f2ef,#fae7dc,#fcdfcf,#fddcc9)"></div><div style="top:237px;background:linear-gradient(90deg,#a0cce2,#a2cde3,#a2cde3,#a0cce2,#9dcbe1,#a5cee3,#bbdaea,#c2ddec,#a2cde3,#7eb8d7,#7bb6d6,#87beda,#8ac0db,#6eaed2,#3e8cbf,#327cb7,#3a87bd,#3f8ec0,#3b88be,#4695c4,#93c6de,#cae1ee,#d8e9f1,#e0ecf3,#eaf1f5,#f3f5f6,#f8f3f0,#fae9df,#fcdfcf,#fddbc7,#fddcc9,#fcd5bf,#f9c4a9,#f8bb9e,#f8bda1,#f7b596,#f2a17f,#ea8e70,#e48066,#dc6e57,#d35a4a,#d6604d,#dd7059,#de735c,#dc6e57,#dd7059,#e8896c,#f6b394,#fdddcb,#f8f3f0,#e6eff4,#d7e8f1,#cce2ef,#c7e0ed,#cae1ee,#d4e6f1,#e0ecf3,#eff3f5,#f8f2ef,#fae9df,#fce0d0,#fcd5bf,#f9c6ac,#f8bfa4)"></div><div style="top:238px;background:linear-gradient(90deg,#a9d1e5,#acd2e5,#acd2e5,#a9d1e5,#a7d0e4,#aed3e6,#c7e0ed,#cce2ef,#a7d0e4,#7bb6d6,#71b0d3,#81bad8,#90c4dd,#81bad8,#4c99c6,#3c8abe,#4f9bc7,#68abd0,#5fa5cd,#75b2d4,#b1d5e7,#dae9f2,#e3edf3,#e9f0f4,#f5f6f7,#f9f0eb,#fae7dc,#fcdecd,#fcd5bf,#fbd0b9,#fcd3bc,#fbccb4,#f8bb9e,#f7b596,#f7b799,#f6b191,#f2a17f,#e98b6e,#df765e,#d25849,#c6413e,#cb4942,#d86551,#de735c,#de735c,#e17860,#ea8e70,#f8bda1,#fbe6da,#f5f6f7,#e3edf3,#d7e8f1,#cae1ee,#c5dfec,#cae1ee,#d2e6f0,#e1edf3,#f7f5f4,#fbe5d8,#fddbc7,#fbceb7,#f8bfa4,#f6b394,#f5aa89)"></div><div style="top:239px;background:linear-gradient(90deg,#b1d5e7,#b1d5e7,#b1d5e7,#b1d5e7,#b3d6e8,#bddbea,#d2e6f0,#d1e5f0,#a7d0e4,#71b0d3,#65a9cf,#78b4d5,#93c6de,#90c4dd,#68abd0,#569fc9,#75b2d4,#8dc2dc,#8dc2dc,#a2cde3,#d2e6f0,#eaf1f5,#eff3f5,#f5f6f7,#f9efe9,#fce2d2,#fcd5bf,#fac8af,#f9c2a7,#f9c2a7,#f9c6ac,#f9c4a9,#f8bb9e,#f7b799,#f7b596,#f6b191,#f3a481,#e8896c,#d86551,#c53e3d,#b82531,#be3036,#d05548,#dc6e57,#e17860,#e48066,#f09c7b,#fbccb4,#f8f1ed,#e6eff4,#dbeaf2,#d1e5f0,#c2ddec,#c0dceb,#c7e0ed,#d4e6f1,#e6eff4,#f9f0eb,#fdddcb,#fbccb4,#f9c2a7,#f7b596,#f5a886,#f2a17f)"></div><div style="top:240px;background:linear-gradient(90deg,#bddbea,#bbdaea,#b6d7e8,#b8d8e9,#c5dfec,#d2e6f0,#d8e9f1,#cfe4ef,#9dcbe1,#65a9cf,#569fc9,#6bacd1,#93c6de,#9dcbe1,#87beda,#7bb6d6,#96c7df,#acd2e5,#b3d6e8,#cae1ee,#e9f0f4,#f8f3f0,#f8f2ef,#f9f0eb,#fbe4d6,#fcd3bc,#f9c2a7,#f8bb9e,#f8bb9e,#f8bda1,#f9c2a7,#f9c4a9,#f9c4a9,#f8bfa4,#f7b799,#f6b191,#f4a683,#e58368,#cf5246,#b72230,#a51429,#b3192c,#c84440,#da6853,#e48066,#eb9172,#f5ac8b,#fcdecd,#ecf2f5,#d4e6f1,#cae1ee,#c0dceb,#b6d7e8,#b8d8e9,#c5dfec,#d8e9f1,#ecf2f5,#f9ebe3,#fddbc7,#fac8af,#f8bb9e,#f6af8e,#f2a17f,#ef9979)"></div><div style="top:241px;background:linear-gradient(90deg,#cce2ef,#c7e0ed,#c5dfec,#cae1ee,#d7e8f1,#e0ecf3,#deebf2,#c7e0ed,#8dc2dc,#529dc8,#4393c3,#5fa5cd,#90c4dd,#a9d1e5,#a7d0e4,#a5cee3,#b6d7e8,#cce2ef,#d5e7f1,#e6eff4,#f8f2ef,#fae7dc,#fae8de,#fae7dc,#fdddcb,#fbd0b9,#fbceb7,#fbd0b9,#fbd0b9,#fbd0b9,#fbd0b9,#fcd3bc,#fcd5bf,#fbccb4,#f8bda1,#f6b394,#f4a683,#e27b62,#c43b3c,#a21328,#900d26,#a51429,#c2383a,#da6853,#e98b6e,#f4a683,#f9c6ac,#f9eee7,#d7e8f1,#b6d7e8,#acd2e5,#a9d1e5,#a9d1e5,#b1d5e7,#c7e0ed,#ddebf2,#f3f5f6,#fae8de,#fcd7c2,#f9c6ac,#f7b99c,#f5aa89,#ef9979,#eb9172)"></div><div style="top:242px;background:linear-gradient(90deg,#ddebf2,#dae9f2,#d7e8f1,#dbeaf2,#e9f0f4,#eff3f5,#e1edf3,#b8d8e9,#75b2d4,#408fc1,#3e8cbf,#569fc9,#8ac0db,#b3d6e8,#c5dfec,#cfe4ef,#d8e9f1,#e0ecf3,#ecf2f5,#f8f3f0,#fbe5d8,#fdddcb,#fcdfcf,#fce0d0,#fdddcb,#fbe4d6,#f8f3f0,#f3f5f6,#f7f5f4,#f9efe9,#f9ede5,#faeae1,#fbe6da,#fddcc9,#f9c6ac,#f6b394,#f09c7b,#da6853,#b82531,#900d26,#8a0b25,#a81529,#c6413e,#de735c,#f19e7d,#f9c2a7,#fbe3d4,#eaf1f5,#b8d8e9,#93c6de,#87beda,#8dc2dc,#98c8e0,#aed3e6,#cce2ef,#e3edf3,#f7f5f4,#fbe4d6,#fcd3bc,#f9c2a7,#f7b596,#f2a17f,#e8896c,#e27b62)"></div><div style="top:243px;background:linear-gradient(90deg,#f0f4f6,#edf2f5,#eaf1f5,#eff3f5,#f8f3f0,#f8f3f0,#e1edf3,#a9d1e5,#5ca3cb,#3885bc,#3a87bd,#529dc8,#8ac0db,#bddbea,#ddebf2,#eaf1f5,#eff3f5,#f3f5f6,#f8f1ed,#fbe5d8,#fddbc7,#fcd5bf,#fddbc7,#fcdfcf,#fbe5d8,#f0f4f6,#b6d7e8,#96c7df,#b3d6e8,#d4e6f1,#ddebf2,#e7f0f4,#f8f4f2,#fbe4d6,#fbccb4,#f6b191,#e98b6e,#cf5246,#ab162a,#870a24,#8d0c25,#b41c2d,#d05548,#e8896c,#f7b596,#fcdecd,#f5f6f7,#cfe4ef,#98c8e0,#6eaed2,#5fa5cd,#6bacd1,#8ac0db,#aed3e6,#d2e6f0,#e9f0f4,#f8f1ed,#fce0d0,#facab1,#f8bb9e,#f5ac8b,#eb9172,#de735c,#d7634f)"></div><div style="top:244px;background:linear-gradient(90deg,#f9eee7,#f9f0eb,#f8f1ed,#f9efe9,#fae7dc,#f9ebe3,#e3edf3,#a0cce2,#4f9bc7,#3681ba,#3a87bd,#59a1ca,#93c6de,#cae1ee,#eff3f5,#f9efe9,#f9eee7,#f9ede5,#fbe4d6,#fddbc7,#fbd0b9,#fcd3bc,#fddcc9,#fbe4d6,#f8f3f0,#c2ddec,#4291c2,#2c75b4,#4f9bc7,#93c6de,#acd2e5,#cae1ee,#ecf2f5,#fae9df,#fbceb7,#f5a886,#de735c,#c2383a,#9f1228,#8a0b25,#9f1228,#bf3338,#dd7059,#f4a683,#fbd0b9,#f8f2ef,#d4e6f1,#a0cce2,#71b0d3,#4c99c6,#3f8ec0,#4c99c6,#7bb6d6,#b1d5e7,#dae9f2,#f0f4f6,#f9ede5,#fddbc7,#f8bfa4,#f6b191,#f3a481,#e48066,#d35a4a,#c84440)"></div><div style="top:245px;background:linear-gradient(90deg,#fce0d0,#fbe3d4,#fbe5d8,#fbe4d6,#fce0d0,#fae8de,#e6eff4,#a2cde3,#569fc9,#3b88be,#3f8ec0,#65a9cf,#a2cde3,#dbeaf2,#f9f0eb,#fce2d2,#fbe3d4,#fbe3d4,#fddbc7,#fbd0b9,#fcd3bc,#fdddcb,#fbe6da,#f8f2ef,#e0ecf3,#84bcd9,#1d5fa2,#0e4179,#2e77b5,#6bacd1,#96c7df,#bbdaea,#e4eef4,#faeae1,#fac8af,#ec9374,#d05548,#b72230,#9c1127,#991027,#b41c2d,#cf5246,#eb9172,#f9c2a7,#fbe6da,#e3edf3,#a5cee3,#71b0d3,#529dc8,#3c8abe,#3480b9,#3f8ec0,#75b2d4,#b6d7e8,#e1edf3,#f7f5f4,#fae7dc,#fcd3bc,#f7b596,#f3a481,#eb9172,#db6b55,#c6413e,#bb2a34)"></div><div style="top:246px;background:linear-gradient(90deg,#fcd5bf,#fcd7c2,#fddcc9,#fdddcb,#fdddcb,#fae7dc,#e9f0f4,#b3d6e8,#75b2d4,#4f9bc7,#529dc8,#7eb8d7,#c0dceb,#edf2f5,#fbe6da,#fdd9c4,#fddcc9,#fddcc9,#fcd3bc,#fbceb7,#fdddcb,#faeae1,#f5f6f7,#e0ecf3,#b1d5e7,#4695c4,#134c87,#0c3d73,#307ab6,#7bb6d6,#acd2e5,#cfe4ef,#eaf1f5,#fbe6da,#f7b799,#de735c,#c13639,#ab162a,#a51429,#b3192c,#c43b3c,#dd7059,#f6af8e,#fcdecd,#f3f5f6,#c2ddec,#78b4d5,#4997c5,#3f8ec0,#3681ba,#307ab6,#3c8abe,#75b2d4,#bddbea,#eaf1f5,#f9eee7,#fce0d0,#f9c6ac,#f4a683,#ea8e70,#e17860,#d05548,#bd2d35,#b3192c)"></div><div style="top:247px;background:linear-gradient(90deg,#fbccb4,#fbceb7,#fcd3bc,#fdd9c4,#fcdecd,#fae8de,#eff3f5,#cce2ef,#9dcbe1,#78b4d5,#71b0d3,#9bc9e0,#d8e9f1,#f9f0eb,#fdddcb,#fcd5bf,#fcd7c2,#fcd7c2,#fbceb7,#fcd5bf,#fae8de,#f0f4f6,#d8e9f1,#aed3e6,#6bacd1,#327cb7,#185493,#1e61a5,#4c99c6,#a9d1e5,#d8e9f1,#eaf1f5,#f8f4f2,#fdddcb,#f09c7b,#cc4c44,#b1182b,#a21328,#b41c2d,#c43b3c,#d6604d,#eb9172,#fac8af,#f9eee7,#dbeaf2,#98c8e0,#4f9bc7,#3b88be,#3a87bd,#337eb8,#307ab6,#3f8ec0,#81bad8,#cce2ef,#f6f7f7,#fbe5d8,#fcd5bf,#f7b596,#eb9172,#df765e,#d7634f,#c6413e,#b72230,#ae172a)"></div><div style="top:248px;background:linear-gradient(90deg,#fcd7c2,#fcd5bf,#fcd3bc,#fcd7c2,#fcdecd,#fae8de,#f6f7f7,#deebf2,#c0dceb,#a0cce2,#93c6de,#aed3e6,#e9f0f4,#fbe4d6,#fcd7c2,#fcd5bf,#fcd7c2,#fcd3bc,#fbceb7,#fddcc9,#f8f3f0,#d8e9f1,#acd2e5,#6bacd1,#3681ba,#2369ad,#2870b1,#4291c2,#9bc9e0,#ddebf2,#f8f2ef,#fbe6da,#fce0d0,#f8bfa4,#de735c,#b82531,#960f27,#a21328,#bf3338,#d6604d,#e58368,#f6b191,#fdddcb,#f2f5f6,#c0dceb,#75b2d4,#3e8cbf,#3681ba,#3885bc,#3681ba,#3681ba,#4c99c6,#98c8e0,#ddebf2,#f9ede5,#fcd7c2,#f8bda1,#f09c7b,#df765e,#d55d4c,#cc4c44,#c13639,#b72230,#b1182b)"></div><div style="top:249px;background:linear-gradient(90deg,#fae7dc,#fbe3d4,#fddbc7,#fcd5bf,#fddcc9,#fbe6da,#f8f2ef,#ecf2f5,#d8e9f1,#bddbea,#a7d0e4,#c0dceb,#f2f5f6,#fcdecd,#fcd5bf,#fddbc7,#fddbc7,#fcd5bf,#fbceb7,#fce0d0,#eff3f5,#bddbea,#81bad8,#3b88be,#1b5a9c,#1b5a9c,#408fc1,#a0cce2,#dbeaf2,#f9f0eb,#fcd5bf,#f8bfa4,#f7b799,#ec9374,#c94741,#9f1228,#840924,#a81529,#ce4f45,#e58368,#f5a886,#facab1,#fae8de,#e3edf3,#a9d1e5,#5fa5cd,#3783bb,#3480b9,#3c8abe,#3c8abe,#3f8ec0,#6bacd1,#b8d8e9,#f0f4f6,#fcdecd,#f8bb9e,#f19e7d,#e17860,#d05548,#c84440,#c53e3d,#c13639,#bd2d35,#ba2832)"></div><div style="top:250px;background:linear-gradient(90deg,#f2f5f6,#f8f2ef,#fce2d2,#fcd3bc,#fcd7c2,#fce2d2,#f9ebe3,#f7f6f6,#e6eff4,#d2e6f0,#b8d8e9,#cae1ee,#f6f7f7,#fdddcb,#fdd9c4,#fcdecd,#fcdecd,#fdd9c4,#fcd5bf,#fbe5d8,#e3edf3,#a5cee3,#62a7ce,#2b73b3,#0d3f76,#195696,#7bb6d6,#e4eef4,#f9ebe3,#fcd3bc,#f5a886,#e98b6e,#e37e64,#d35a4a,#b61f2e,#870a24,#840924,#b41c2d,#db6b55,#f4a683,#f9c4a9,#fcdecd,#f8f3f0,#d8e9f1,#9dcbe1,#569fc9,#3681ba,#3885bc,#4695c4,#4f9bc7,#59a1ca,#96c7df,#dbeaf2,#faeae1,#f9c6ac,#f19e7d,#e27b62,#d05548,#c13639,#be3036,#c2383a,#c53e3d,#c6413e,#c6413e)"></div><div style="top:251px;background:linear-gradient(90deg,#d8e9f1,#eaf1f5,#fae9df,#fcd3bc,#fbceb7,#fddcc9,#fbe4d6,#f9eee7,#f2f5f6,#dbeaf2,#c5dfec,#cfe4ef,#f5f6f7,#fce0d0,#fcdfcf,#fbe4d6,#fbe5d8,#fce0d0,#fdddcb,#faeae1,#dae9f2,#96c7df,#569fc9,#266caf,#09386d,#1f63a8,#b3d6e8,#fbe4d6,#f9c2a7,#f4a683,#e17860,#d25849,#c84440,#bb2a34,#9f1228,#870a24,#930e26,#c13639,#e98b6e,#f9c2a7,#fddcc9,#faeae1,#f0f4f6,#d1e5f0,#98c8e0,#529dc8,#3783bb,#3e8cbf,#65a9cf,#75b2d4,#84bcd9,#bddbea,#f6f7f7,#fcd7c2,#f5aa89,#e48066,#d35a4a,#c2383a,#b82531,#bb2a34,#c53e3d,#cf5246,#d55d4c,#d7634f)"></div><div style="top:252px;background:linear-gradient(90deg,#c7e0ed,#deebf2,#f9eee7,#fcd5bf,#facab1,#fcd3bc,#fddcc9,#fbe5d8,#f7f5f4,#e0ecf3,#cae1ee,#d1e5f0,#f0f4f6,#fae8de,#fbe6da,#f9ede5,#f9efe9,#f9ebe3,#fbe6da,#f8f1ed,#d5e7f1,#96c7df,#5fa5cd,#2f79b5,#15508d,#3681ba,#e1edf3,#f7b99c,#ea8e70,#de735c,#cc4c44,#bd2d35,#b41c2d,#ab162a,#9c1127,#9f1228,#b61f2e,#d6604d,#f6af8e,#fddbc7,#fae8de,#f8f4f2,#e7f0f4,#cae1ee,#93c6de,#529dc8,#3a87bd,#4997c5,#87beda,#a2cde3,#b3d6e8,#e0ecf3,#fbe6da,#f8bda1,#ec9374,#db6b55,#c94741,#bd2d35,#b82531,#c13639,#cf5246,#db6b55,#e37e64,#e6866a)"></div><div style="top:253px;background:linear-gradient(90deg,#c7e0ed,#ddebf2,#f8f1ed,#fddbc7,#fbccb4,#fbccb4,#fbceb7,#fdddcb,#f8f1ed,#e3edf3,#cce2ef,#d1e5f0,#e9f0f4,#f8f1ed,#f9f0eb,#f7f5f4,#f0f4f6,#f3f5f6,#f8f2ef,#f6f7f7,#d4e6f1,#a0cce2,#7eb8d7,#4997c5,#337eb8,#75b2d4,#f9efe9,#e98b6e,#d6604d,#cb4942,#ba2832,#ab162a,#a81529,#ae172a,#b61f2e,#bf3338,#d05548,#eb9172,#fbccb4,#fae8de,#f8f3f0,#f0f4f6,#e0ecf3,#c2ddec,#90c4dd,#529dc8,#3c8abe,#5fa5cd,#a9d1e5,#cfe4ef,#ddebf2,#f8f4f2,#fcd5bf,#f5ac8b,#e8896c,#d86551,#c94741,#c2383a,#c53e3d,#d05548,#dd7059,#e98b6e,#f19e7d,#f4a683)"></div><div style="top:254px;background:linear-gradient(90deg,#d1e5f0,#e0ecf3,#f8f3f0,#fcdfcf,#fcd3bc,#facab1,#fac8af,#fcd7c2,#f9efe9,#e1edf3,#cfe4ef,#cfe4ef,#e0ecf3,#f2f5f6,#f5f6f7,#ecf2f5,#e0ecf3,#e0ecf3,#ecf2f5,#ecf2f5,#d4e6f1,#b1d5e7,#a2cde3,#8dc2dc,#7bb6d6,#c5dfec,#fcd5bf,#da6853,#c6413e,#bb2a34,#a51429,#9c1127,#ae172a,#be3036,#cc4c44,#db6b55,#eb9172,#f8bfa4,#fbe4d6,#f8f3f0,#f0f4f6,#e6eff4,#d8e9f1,#bbdaea,#90c4dd,#569fc9,#408fc1,#75b2d4,#c5dfec,#e7f0f4,#f7f6f6,#fbe4d6,#f9c2a7,#f3a481,#e8896c,#dc6e57,#d05548,#d05548,#d86551,#e37e64,#ee9677,#f5ac8b,#f8bb9e,#f9c2a7)"></div><div style="top:255px;background:linear-gradient(90deg,#d7e8f1,#e3edf3,#f7f6f6,#fbe6da,#fdddcb,#fcd3bc,#facab1,#fdd9c4,#f8f1ed,#deebf2,#cce2ef,#cce2ef,#d8e9f1,#e4eef4,#e7f0f4,#e0ecf3,#d2e6f0,#cfe4ef,#ddebf2,#e1edf3,#d5e7f1,#c7e0ed,#c7e0ed,#c5dfec,#cce2ef,#f5f6f7,#f6b191,#cf5246,#bd2d35,#b1182b,#960f27,#9c1127,#bd2d35,#d55d4c,#e58368,#f4a683,#f9c6ac,#fce0d0,#f8f1ed,#eff3f5,#e6eff4,#ddebf2,#d2e6f0,#b6d7e8,#90c4dd,#5fa5cd,#4c99c6,#8ac0db,#d7e8f1,#f7f6f6,#faeae1,#fddbc7,#f8bb9e,#f5a886,#ef9979,#e48066,#dc6e57,#e17860,#eb9172,#f4a683,#f7b596,#f9c6ac,#fcd3bc,#fddbc7)"></div><div style="top:256px;background:linear-gradient(90deg,#d7e8f1,#e0ecf3,#f2f5f6,#f9efe9,#fae7dc,#fce2d2,#fddcc9,#fce2d2,#f7f6f6,#dae9f2,#cae1ee,#cce2ef,#d4e6f1,#dae9f2,#ddebf2,#d7e8f1,#c7e0ed,#c2ddec,#d2e6f0,#dae9f2,#d7e8f1,#d5e7f1,#deebf2,#e6eff4,#f2f5f6,#fce0d0,#eb9172,#c84440,#b82531,#a81529,#900d26,#ab162a,#d35a4a,#ee9677,#f7b596,#fbd0b9,#fbe4d6,#f8f1ed,#f2f5f6,#e7f0f4,#ddebf2,#d5e7f1,#c7e0ed,#b1d5e7,#96c7df,#6eaed2,#62a7ce,#9dcbe1,#deebf2,#f8f4f2,#faeae1,#fdddcb,#f9c4a9,#f7b799,#f6b191,#f19e7d,#ea8e70,#f19e7d,#f7b799,#f9c4a9,#fbccb4,#fddbc7,#fbe3d4,#fbe6da)"></div><div style="top:257px;background:linear-gradient(90deg,#d2e6f0,#dae9f2,#e7f0f4,#f5f6f7,#f8f3f0,#f9f0eb,#f9ebe3,#f9f0eb,#eaf1f5,#d4e6f1,#cae1ee,#cae1ee,#cfe4ef,#d4e6f1,#d5e7f1,#d1e5f0,#c5dfec,#c0dceb,#cce2ef,#d4e6f1,#d7e8f1,#deebf2,#edf2f5,#f8f3f0,#fae7dc,#f9c4a9,#e17860,#c53e3d,#b82531,#a51429,#960f27,#bb2a34,#e98b6e,#fac8af,#fdddcb,#fae7dc,#f8f3f0,#eff3f5,#e9f0f4,#e1edf3,#d7e8f1,#cce2ef,#bbdaea,#acd2e5,#9dcbe1,#84bcd9,#7eb8d7,#aed3e6,#e1edf3,#f5f6f7,#f8f3f0,#fbe6da,#fcd5bf,#fbccb4,#facab1,#f8bb9e,#f6af8e,#f8bb9e,#fcd3bc,#fddbc7,#fdddcb,#fbe4d6,#f9ede5,#f8f1ed)"></div><div style="top:258px;background:linear-gradient(90deg,#c7e0ed,#d1e5f0,#deebf2,#e9f0f4,#ecf2f5,#ecf2f5,#f0f4f6,#ecf2f5,#ddebf2,#cfe4ef,#c7e0ed,#cae1ee,#cce2ef,#cce2ef,#cfe4ef,#cce2ef,#c7e0ed,#c5dfec,#c7e0ed,#cfe4ef,#d7e8f1,#e6eff4,#f7f5f4,#fae7dc,#fcd7c2,#f6af8e,#db6b55,#c43b3c,#ba2832,#ab162a,#9f1228,#c84440,#f7b99c,#fae8de,#f9efe9,#f8f4f2,#ecf2f5,#e4eef4,#e4eef4,#deebf2,#d4e6f1,#c0dceb,#b1d5e7,#a9d1e5,#a5cee3,#9bc9e0,#98c8e0,#bbdaea,#e0ecf3,#eaf1f5,#eaf1f5,#f8f3f0,#fbe4d6,#fcdfcf,#fce0d0,#fcd7c2,#facab1,#fcd5bf,#fce2d2,#fbe5d8,#fbe5d8,#faeae1,#f8f3f0,#f5f6f7)"></div><div style="top:259px;background:linear-gradient(90deg,#bbdaea,#c5dfec,#d5e7f1,#deebf2,#deebf2,#dbeaf2,#dbeaf2,#dae9f2,#d1e5f0,#c7e0ed,#c7e0ed,#cce2ef,#cce2ef,#cae1ee,#c7e0ed,#cae1ee,#cfe4ef,#cfe4ef,#cae1ee,#cce2ef,#d8e9f1,#eaf1f5,#f9f0eb,#fcdfcf,#fac8af,#f2a17f,#d86551,#c43b3c,#bd2d35,#b3192c,#a81529,#d55d4c,#fdd9c4,#f2f5f6,#f0f4f6,#eff3f5,#e3edf3,#deebf2,#e1edf3,#deebf2,#d1e5f0,#b8d8e9,#a7d0e4,#a5cee3,#acd2e5,#a9d1e5,#a9d1e5,#c5dfec,#deebf2,#deebf2,#d8e9f1,#eaf1f5,#f9eee7,#faeae1,#f9ede5,#fbe5d8,#fddcc9,#fce2d2,#faeae1,#faeae1,#fae9df,#f9efe9,#f5f6f7,#edf2f5)"></div><div style="top:260px;background:linear-gradient(90deg,#b1d5e7,#bddbea,#d1e5f0,#d8e9f1,#d5e7f1,#d1e5f0,#cfe4ef,#cce2ef,#c5dfec,#c2ddec,#c7e0ed,#cce2ef,#cae1ee,#c7e0ed,#c5dfec,#cae1ee,#d2e6f0,#d2e6f0,#cae1ee,#cae1ee,#d8e9f1,#ecf2f5,#f9ede5,#fddcc9,#f9c2a7,#f09c7b,#d7634f,#c53e3d,#bf3338,#b41c2d,#b1182b,#db6b55,#fbe4d6,#e4eef4,#e6eff4,#e9f0f4,#deebf2,#dbeaf2,#e1edf3,#deebf2,#d1e5f0,#b6d7e8,#a2cde3,#a5cee3,#aed3e6,#b1d5e7,#b3d6e8,#cce2ef,#dbeaf2,#d5e7f1,#cae1ee,#deebf2,#f8f4f2,#f8f1ed,#f8f4f2,#f9ede5,#fbe3d4,#fbe6da,#f9efe9,#f9eee7,#f9ebe3,#f8f1ed,#f2f5f6,#e9f0f4)"></div><div style="top:283px;background:linear-gradient(90deg,#d5e7f1,#cae1ee,#b1d5e7,#a0cce2,#a5cee3,#b6d7e8,#cae1ee,#cce2ef,#b6d7e8,#a0cce2,#a2cde3,#a9d1e5,#a9d1e5,#a2cde3,#96c7df,#93c6de,#a0cce2,#acd2e5,#aed3e6,#a7d0e4,#9dcbe1,#a5cee3,#b8d8e9,#bddbea,#b3d6e8,#bbdaea,#d5e7f1,#e0ecf3,#d8e9f1,#c0dceb,#a5cee3,#a0cce2,#a7d0e4,#a5cee3,#9dcbe1,#b3d6e8,#d8e9f1,#eaf1f5,#e7f0f4,#d7e8f1,#bddbea,#b6d7e8,#c0dceb,#d1e5f0,#d1e5f0,#b6d7e8,#9bc9e0,#acd2e5,#cce2ef,#c2ddec,#9dcbe1,#96c7df,#a2cde3,#a7d0e4,#a7d0e4,#b3d6e8,#bbdaea,#b1d5e7,#a0cce2,#98c8e0,#96c7df,#93c6de,#8dc2dc,#8dc2dc)"></div><div style="top:284px;background:linear-gradient(90deg,#d5e7f1,#cae1ee,#aed3e6,#a0cce2,#a7d0e4,#bbdaea,#cce2ef,#cae1ee,#b3d6e8,#a0cce2,#a0cce2,#a7d0e4,#a7d0e4,#a2cde3,#98c8e0,#96c7df,#a0cce2,#a9d1e5,#acd2e5,#a5cee3,#9dcbe1,#a5cee3,#b8d8e9,#c0dceb,#b8d8e9,#bddbea,#d7e8f1,#e0ecf3,#d7e8f1,#c0dceb,#a5cee3,#9dcbe1,#a5cee3,#a2cde3,#9bc9e0,#b1d5e7,#d8e9f1,#e9f0f4,#e6eff4,#d7e8f1,#c0dceb,#b8d8e9,#c0dceb,#cfe4ef,#cfe4ef,#b6d7e8,#9bc9e0,#acd2e5,#cae1ee,#c0dceb,#a0cce2,#96c7df,#a2cde3,#a5cee3,#a5cee3,#b3d6e8,#bddbea,#b3d6e8,#a0cce2,#98c8e0,#98c8e0,#96c7df,#93c6de,#90c4dd)"></div><div style="top:285px;background:linear-gradient(90deg,#d2e6f0,#c5dfec,#a9d1e5,#9dcbe1,#aed3e6,#c5dfec,#cce2ef,#c2ddec,#aed3e6,#9dcbe1,#9bc9e0,#a0cce2,#a0cce2,#9dcbe1,#9dcbe1,#9dcbe1,#9dcbe1,#a0cce2,#a0cce2,#9dcbe1,#9bc9e0,#a5cee3,#bbdaea,#c5dfec,#c2ddec,#cae1ee,#dbeaf2,#e0ecf3,#d2e6f0,#b8d8e9,#a5cee3,#9dcbe1,#a0cce2,#9bc9e0,#98c8e0,#b1d5e7,#d7e8f1,#e6eff4,#e4eef4,#d8e9f1,#cae1ee,#c0dceb,#c2ddec,#cae1ee,#cae1ee,#b3d6e8,#a0cce2,#a9d1e5,#c2ddec,#bbdaea,#a2cde3,#9bc9e0,#9dcbe1,#9dcbe1,#9dcbe1,#b1d5e7,#c2ddec,#b6d7e8,#a0cce2,#98c8e0,#9dcbe1,#a0cce2,#9dcbe1,#9bc9e0)"></div><div style="top:286px;background:linear-gradient(90deg,#d1e5f0,#c0dceb,#a5cee3,#9dcbe1,#b8d8e9,#d2e6f0,#cce2ef,#b8d8e9,#a7d0e4,#9bc9e0,#96c7df,#93c6de,#93c6de,#98c8e0,#a2cde3,#a5cee3,#9bc9e0,#93c6de,#90c4dd,#93c6de,#96c7df,#a5cee3,#bbdaea,#cae1ee,#cfe4ef,#d5e7f1,#e0ecf3,#deebf2,#cce2ef,#aed3e6,#a2cde3,#9bc9e0,#96c7df,#90c4dd,#93c6de,#aed3e6,#d7e8f1,#e4eef4,#e1edf3,#dae9f2,#d2e6f0,#cae1ee,#c5dfec,#c2ddec,#c0dceb,#b1d5e7,#a2cde3,#a9d1e5,#b8d8e9,#b3d6e8,#a5cee3,#9dcbe1,#98c8e0,#8dc2dc,#90c4dd,#b1d5e7,#cce2ef,#bddbea,#a0cce2,#9bc9e0,#a5cee3,#a9d1e5,#a7d0e4,#a5cee3)"></div><div style="top:287px;background:linear-gradient(90deg,#d1e5f0,#bddbea,#a2cde3,#9dcbe1,#c2ddec,#dae9f2,#cce2ef,#acd2e5,#a0cce2,#9bc9e0,#90c4dd,#84bcd9,#84bcd9,#90c4dd,#a2cde3,#a7d0e4,#96c7df,#81bad8,#7eb8d7,#87beda,#93c6de,#a5cee3,#bbdaea,#cfe4ef,#d5e7f1,#deebf2,#e4eef4,#ddebf2,#c0dceb,#a7d0e4,#a0cce2,#9bc9e0,#8ac0db,#84bcd9,#8dc2dc,#aed3e6,#d5e7f1,#e3edf3,#e0ecf3,#dbeaf2,#dae9f2,#d4e6f1,#c7e0ed,#bbdaea,#b3d6e8,#a9d1e5,#a5cee3,#a5cee3,#acd2e5,#acd2e5,#a7d0e4,#9dcbe1,#90c4dd,#7bb6d6,#81bad8,#b1d5e7,#d5e7f1,#c7e0ed,#a0cce2,#98c8e0,#a7d0e4,#aed3e6,#acd2e5,#a9d1e5)"></div><div style="top:288px;background:linear-gradient(90deg,#d4e6f1,#c0dceb,#a0cce2,#a0cce2,#cae1ee,#deebf2,#cae1ee,#a0cce2,#9bc9e0,#9bc9e0,#8ac0db,#75b2d4,#71b0d3,#81bad8,#9dcbe1,#a5cee3,#8dc2dc,#71b0d3,#6eaed2,#7bb6d6,#90c4dd,#a5cee3,#bbdaea,#cfe4ef,#dae9f2,#e3edf3,#e7f0f4,#dae9f2,#b6d7e8,#9dcbe1,#a0cce2,#98c8e0,#81bad8,#78b4d5,#8ac0db,#b3d6e8,#d7e8f1,#e3edf3,#e0ecf3,#deebf2,#deebf2,#d8e9f1,#cae1ee,#b6d7e8,#a7d0e4,#a2cde3,#a2cde3,#a2cde3,#a2cde3,#a5cee3,#a5cee3,#98c8e0,#81bad8,#68abd0,#71b0d3,#b1d5e7,#dbeaf2,#cfe4ef,#a0cce2,#96c7df,#a5cee3,#a9d1e5,#a7d0e4,#a5cee3)"></div><div style="top:289px;background:linear-gradient(90deg,#dbeaf2,#c7e0ed,#a5cee3,#a0cce2,#cce2ef,#e0ecf3,#c5dfec,#98c8e0,#98c8e0,#a0cce2,#8ac0db,#6bacd1,#5fa5cd,#6eaed2,#8dc2dc,#96c7df,#81bad8,#6bacd1,#68abd0,#78b4d5,#90c4dd,#a5cee3,#b6d7e8,#c7e0ed,#d8e9f1,#e3edf3,#e4eef4,#d5e7f1,#acd2e5,#98c8e0,#9dcbe1,#96c7df,#78b4d5,#6eaed2,#8dc2dc,#b8d8e9,#dbeaf2,#e6eff4,#e3edf3,#e1edf3,#e1edf3,#dbeaf2,#cfe4ef,#b3d6e8,#9dcbe1,#96c7df,#9bc9e0,#9dcbe1,#9dcbe1,#9dcbe1,#9dcbe1,#8dc2dc,#6eaed2,#569fc9,#68abd0,#b1d5e7,#e1edf3,#d4e6f1,#a2cde3,#90c4dd,#98c8e0,#9bc9e0,#93c6de,#90c4dd)"></div><div style="top:290px;background:linear-gradient(90deg,#e4eef4,#d4e6f1,#acd2e5,#a2cde3,#cae1ee,#dbeaf2,#bddbea,#96c7df,#9dcbe1,#a7d0e4,#8dc2dc,#62a7ce,#529dc8,#5ca3cb,#6eaed2,#7bb6d6,#75b2d4,#6bacd1,#68abd0,#78b4d5,#93c6de,#a5cee3,#aed3e6,#bbdaea,#d2e6f0,#ddebf2,#deebf2,#cfe4ef,#a5cee3,#96c7df,#a0cce2,#96c7df,#75b2d4,#6eaed2,#96c7df,#c2ddec,#e1edf3,#ecf2f5,#e9f0f4,#e4eef4,#e1edf3,#ddebf2,#d1e5f0,#b3d6e8,#93c6de,#87beda,#8dc2dc,#96c7df,#9bc9e0,#98c8e0,#90c4dd,#78b4d5,#5ca3cb,#4997c5,#62a7ce,#b3d6e8,#e4eef4,#d8e9f1,#a2cde3,#84bcd9,#81bad8,#78b4d5,#6bacd1,#65a9cf)"></div><div style="top:291px;background:linear-gradient(90deg,#edf2f5,#dbeaf2,#b6d7e8,#a2cde3,#c0dceb,#d2e6f0,#b3d6e8,#98c8e0,#a7d0e4,#b3d6e8,#93c6de,#62a7ce,#4c99c6,#4997c5,#4f9bc7,#5ca3cb,#68abd0,#6eaed2,#6bacd1,#78b4d5,#96c7df,#a5cee3,#a5cee3,#aed3e6,#c5dfec,#d5e7f1,#d5e7f1,#c5dfec,#a2cde3,#98c8e0,#a0cce2,#96c7df,#71b0d3,#71b0d3,#9dcbe1,#cfe4ef,#e9f0f4,#f3f5f6,#f0f4f6,#e9f0f4,#e1edf3,#dbeaf2,#d2e6f0,#b1d5e7,#8ac0db,#75b2d4,#7bb6d6,#8dc2dc,#9bc9e0,#96c7df,#81bad8,#65a9cf,#4c99c6,#4393c3,#62a7ce,#b3d6e8,#e4eef4,#dae9f2,#a5cee3,#78b4d5,#62a7ce,#4f9bc7,#408fc1,#3c8abe)"></div><div style="top:292px;background:linear-gradient(90deg,#f2f5f6,#e0ecf3,#b8d8e9,#a0cce2,#b3d6e8,#c7e0ed,#aed3e6,#9dcbe1,#b3d6e8,#c0dceb,#9dcbe1,#68abd0,#4c99c6,#4291c2,#408fc1,#4997c5,#62a7ce,#71b0d3,#6eaed2,#78b4d5,#93c6de,#a0cce2,#9dcbe1,#a5cee3,#b8d8e9,#cae1ee,#cce2ef,#bddbea,#a5cee3,#9dcbe1,#a2cde3,#93c6de,#75b2d4,#7bb6d6,#a9d1e5,#d8e9f1,#f0f4f6,#f8f4f2,#f7f5f4,#eff3f5,#e3edf3,#dae9f2,#cfe4ef,#acd2e5,#7eb8d7,#65a9cf,#6eaed2,#87beda,#9dcbe1,#96c7df,#78b4d5,#59a1ca,#4393c3,#4393c3,#68abd0,#b3d6e8,#e0ecf3,#d7e8f1,#a2cde3,#6eaed2,#4695c4,#3885bc,#307ab6,#2c75b4)"></div><div style="top:293px;background:linear-gradient(90deg,#edf2f5,#dbeaf2,#b3d6e8,#98c8e0,#a7d0e4,#b8d8e9,#aed3e6,#a7d0e4,#c2ddec,#cfe4ef,#acd2e5,#75b2d4,#529dc8,#4393c3,#3f8ec0,#4695c4,#65a9cf,#75b2d4,#6eaed2,#6eaed2,#8ac0db,#9bc9e0,#9bc9e0,#a0cce2,#b3d6e8,#c5dfec,#c5dfec,#b8d8e9,#acd2e5,#a5cee3,#a2cde3,#93c6de,#7bb6d6,#8ac0db,#b8d8e9,#e0ecf3,#f6f7f7,#f9f0eb,#f9f0eb,#f7f6f6,#eaf1f5,#dae9f2,#c5dfec,#9dcbe1,#75b2d4,#5fa5cd,#65a9cf,#84bcd9,#9dcbe1,#98c8e0,#7bb6d6,#5ca3cb,#4997c5,#4c99c6,#71b0d3,#aed3e6,#d5e7f1,#cfe4ef,#a0cce2,#65a9cf,#3c8abe,#2f79b5,#2870b1,#276eb0)"></div><div style="top:294px;background:linear-gradient(90deg,#e1edf3,#d1e5f0,#a5cee3,#8ac0db,#9bc9e0,#aed3e6,#aed3e6,#b6d7e8,#d2e6f0,#d8e9f1,#b8d8e9,#87beda,#62a7ce,#4f9bc7,#4997c5,#569fc9,#6eaed2,#75b2d4,#65a9cf,#62a7ce,#7bb6d6,#93c6de,#98c8e0,#a2cde3,#b6d7e8,#c2ddec,#c0dceb,#bbdaea,#b6d7e8,#aed3e6,#a2cde3,#90c4dd,#84bcd9,#98c8e0,#c7e0ed,#e7f0f4,#f8f3f0,#f9ebe3,#f9ebe3,#f8f1ed,#f2f5f6,#ddebf2,#b8d8e9,#8dc2dc,#6bacd1,#5ca3cb,#65a9cf,#81bad8,#9dcbe1,#9dcbe1,#87beda,#68abd0,#569fc9,#5fa5cd,#81bad8,#a7d0e4,#c2ddec,#bddbea,#9dcbe1,#65a9cf,#3a87bd,#2e77b5,#2a71b2,#2b73b3)"></div><div style="top:295px;background:linear-gradient(90deg,#cae1ee,#b6d7e8,#93c6de,#7bb6d6,#8dc2dc,#a5cee3,#b1d5e7,#c0dceb,#d8e9f1,#deebf2,#c2ddec,#93c6de,#71b0d3,#62a7ce,#5fa5cd,#68abd0,#75b2d4,#71b0d3,#59a1ca,#4f9bc7,#68abd0,#84bcd9,#96c7df,#a5cee3,#b8d8e9,#c5dfec,#c2ddec,#c0dceb,#c0dceb,#b8d8e9,#a5cee3,#93c6de,#8dc2dc,#a5cee3,#d1e5f0,#edf2f5,#f9efe9,#fae8de,#fae8de,#f9ebe3,#f8f4f2,#e0ecf3,#aed3e6,#84bcd9,#6bacd1,#62a7ce,#68abd0,#81bad8,#9bc9e0,#a2cde3,#98c8e0,#7bb6d6,#65a9cf,#71b0d3,#90c4dd,#a2cde3,#a9d1e5,#acd2e5,#9dcbe1,#6bacd1,#3c8abe,#337eb8,#3681ba,#3a87bd)"></div><div style="top:296px;background:linear-gradient(90deg,#a0cce2,#93c6de,#78b4d5,#6eaed2,#81bad8,#9dcbe1,#b1d5e7,#cae1ee,#ddebf2,#deebf2,#c2ddec,#98c8e0,#7eb8d7,#78b4d5,#75b2d4,#78b4d5,#78b4d5,#68abd0,#4997c5,#408fc1,#569fc9,#75b2d4,#90c4dd,#a7d0e4,#bbdaea,#c7e0ed,#c7e0ed,#c7e0ed,#cae1ee,#c0dceb,#a9d1e5,#9bc9e0,#9bc9e0,#aed3e6,#d4e6f1,#f0f4f6,#faeae1,#fbe4d6,#fbe6da,#fae9df,#f9f0eb,#e3edf3,#b1d5e7,#8ac0db,#7bb6d6,#71b0d3,#71b0d3,#81bad8,#98c8e0,#a7d0e4,#a7d0e4,#90c4dd,#78b4d5,#87beda,#a0cce2,#a2cde3,#9bc9e0,#a2cde3,#a2cde3,#7eb8d7,#4c99c6,#4393c3,#529dc8,#62a7ce)"></div><div style="top:297px;background:linear-gradient(90deg,#68abd0,#62a7ce,#5fa5cd,#65a9cf,#7bb6d6,#96c7df,#b1d5e7,#cfe4ef,#ddebf2,#dbeaf2,#b8d8e9,#93c6de,#87beda,#8ac0db,#84bcd9,#7bb6d6,#71b0d3,#59a1ca,#3f8ec0,#3a87bd,#4393c3,#65a9cf,#8ac0db,#a5cee3,#bddbea,#cce2ef,#d1e5f0,#d2e6f0,#d1e5f0,#c5dfec,#b3d6e8,#a7d0e4,#a7d0e4,#b6d7e8,#d2e6f0,#f0f4f6,#fae7dc,#fcdecd,#fbe4d6,#fae9df,#f9f0eb,#e7f0f4,#c0dceb,#a0cce2,#96c7df,#8ac0db,#7eb8d7,#84bcd9,#96c7df,#acd2e5,#b3d6e8,#9dcbe1,#84bcd9,#96c7df,#aed3e6,#a5cee3,#93c6de,#9dcbe1,#acd2e5,#98c8e0,#78b4d5,#78b4d5,#90c4dd,#a0cce2)"></div><div style="top:298px;background:linear-gradient(90deg,#3a87bd,#3e8cbf,#4c99c6,#65a9cf,#7bb6d6,#96c7df,#b6d7e8,#d4e6f1,#e0ecf3,#d8e9f1,#acd2e5,#84bcd9,#8ac0db,#98c8e0,#8dc2dc,#78b4d5,#65a9cf,#4c99c6,#3a87bd,#3480b9,#3c8abe,#59a1ca,#84bcd9,#a5cee3,#bbdaea,#cce2ef,#d7e8f1,#d8e9f1,#d2e6f0,#c7e0ed,#bbdaea,#b6d7e8,#b3d6e8,#bbdaea,#d1e5f0,#f0f4f6,#fbe3d4,#fdd9c4,#fbe3d4,#f9ebe3,#f8f2ef,#ecf2f5,#d4e6f1,#bddbea,#aed3e6,#a0cce2,#8dc2dc,#87beda,#96c7df,#aed3e6,#bddbea,#a9d1e5,#90c4dd,#a2cde3,#bbdaea,#acd2e5,#93c6de,#a0cce2,#b6d7e8,#aed3e6,#a0cce2,#a9d1e5,#c2ddec,#d1e5f0)"></div><div style="top:299px;background:linear-gradient(90deg,#266caf,#307ab6,#4695c4,#6eaed2,#87beda,#9dcbe1,#c2ddec,#deebf2,#e9f0f4,#dae9f2,#a2cde3,#71b0d3,#87beda,#a0cce2,#90c4dd,#6eaed2,#569fc9,#408fc1,#3480b9,#2f79b5,#3783bb,#529dc8,#84bcd9,#a7d0e4,#b8d8e9,#cfe4ef,#ddebf2,#ddebf2,#d1e5f0,#c2ddec,#c2ddec,#c2ddec,#c2ddec,#c2ddec,#d4e6f1,#f2f5f6,#fcdfcf,#fcd5bf,#fbe3d4,#f9eee7,#f8f4f2,#f0f4f6,#e1edf3,#d5e7f1,#c7e0ed,#b1d5e7,#a0cce2,#93c6de,#98c8e0,#b1d5e7,#c5dfec,#b3d6e8,#9dcbe1,#acd2e5,#c2ddec,#b3d6e8,#9dcbe1,#a7d0e4,#c2ddec,#c2ddec,#c0dceb,#cce2ef,#ddebf2,#e6eff4)"></div><div style="top:300px;background:linear-gradient(90deg,#1c5c9f,#2b73b3,#4c99c6,#87beda,#9dcbe1,#b1d5e7,#d8e9f1,#f3f5f6,#f8f3f0,#e6eff4,#a0cce2,#62a7ce,#81bad8,#9dcbe1,#84bcd9,#5ca3cb,#4997c5,#3c8abe,#307ab6,#2c75b4,#3681ba,#569fc9,#90c4dd,#acd2e5,#b8d8e9,#cce2ef,#deebf2,#deebf2,#c7e0ed,#b8d8e9,#c2ddec,#cce2ef,#cce2ef,#d1e5f0,#ddebf2,#f7f5f4,#fdddcb,#fcd3bc,#fce2d2,#f9efe9,#f7f6f6,#f2f5f6,#ecf2f5,#e1edf3,#d2e6f0,#c0dceb,#b1d5e7,#a5cee3,#a2cde3,#b3d6e8,#c5dfec,#b8d8e9,#a9d1e5,#b3d6e8,#c5dfec,#bbdaea,#a9d1e5,#b3d6e8,#c7e0ed,#cfe4ef,#d1e5f0,#d8e9f1,#e3edf3,#e9f0f4)"></div><div style="top:301px;background:linear-gradient(90deg,#1b5a9c,#2e77b5,#62a7ce,#a2cde3,#b6d7e8,#cae1ee,#ecf2f5,#fae8de,#fbe3d4,#f5f6f7,#a5cee3,#569fc9,#71b0d3,#93c6de,#75b2d4,#4c99c6,#4291c2,#3b88be,#2f79b5,#2b73b3,#3885bc,#65a9cf,#9dcbe1,#b8d8e9,#bbdaea,#cae1ee,#e0ecf3,#ddebf2,#bddbea,#a9d1e5,#bddbea,#cfe4ef,#d4e6f1,#dbeaf2,#ecf2f5,#f9ede5,#fddbc7,#fcd5bf,#fbe3d4,#f9efe9,#f6f7f7,#f3f5f6,#f2f5f6,#e7f0f4,#d7e8f1,#cce2ef,#c5dfec,#b8d8e9,#b1d5e7,#b6d7e8,#c2ddec,#bddbea,#b6d7e8,#b6d7e8,#bddbea,#bbdaea,#b8d8e9,#c0dceb,#cae1ee,#d1e5f0,#d2e6f0,#d7e8f1,#ddebf2,#e0ecf3)"></div><div style="top:302px;background:linear-gradient(90deg,#2369ad,#3783bb,#7eb8d7,#bbdaea,#cfe4ef,#dbeaf2,#f8f3f0,#fddbc7,#fbceb7,#f9f0eb,#a7d0e4,#4695c4,#5fa5cd,#84bcd9,#65a9cf,#4291c2,#408fc1,#3c8abe,#2f79b5,#2c75b4,#3e8cbf,#78b4d5,#acd2e5,#c2ddec,#bddbea,#cae1ee,#deebf2,#dae9f2,#b3d6e8,#a0cce2,#b8d8e9,#d1e5f0,#d8e9f1,#e4eef4,#f7f5f4,#fbe5d8,#fcd7c2,#fcd7c2,#fbe3d4,#f9efe9,#f6f7f7,#f5f6f7,#f6f7f7,#ecf2f5,#ddebf2,#d7e8f1,#d7e8f1,#cfe4ef,#c0dceb,#bbdaea,#c0dceb,#c5dfec,#c0dceb,#b6d7e8,#aed3e6,#b6d7e8,#c2ddec,#c7e0ed,#cae1ee,#cce2ef,#cfe4ef,#d1e5f0,#d1e5f0,#d1e5f0)"></div><div style="top:303px;background:linear-gradient(90deg,#3783bb,#4f9bc7,#96c7df,#c7e0ed,#d5e7f1,#e3edf3,#f9eee7,#fcd3bc,#facab1,#f9efe9,#a0cce2,#3e8cbf,#4997c5,#6eaed2,#59a1ca,#4291c2,#4695c4,#4291c2,#3480b9,#327cb7,#4997c5,#8dc2dc,#b8d8e9,#c7e0ed,#c2ddec,#cfe4ef,#deebf2,#d8e9f1,#b1d5e7,#9dcbe1,#b3d6e8,#cfe4ef,#dae9f2,#eaf1f5,#f9eee7,#fcdfcf,#fcd7c2,#fddbc7,#fbe4d6,#f9eee7,#f7f5f4,#f7f6f6,#f7f5f4,#f2f5f6,#e6eff4,#e3edf3,#e4eef4,#dbeaf2,#cae1ee,#c0dceb,#c5dfec,#cce2ef,#c7e0ed,#aed3e6,#98c8e0,#a5cee3,#c2ddec,#cae1ee,#c2ddec,#c0dceb,#c0dceb,#c0dceb,#c2ddec,#c2ddec)"></div><div style="top:304px;background:linear-gradient(90deg,#65a9cf,#7eb8d7,#a7d0e4,#c7e0ed,#d4e6f1,#e1edf3,#f8f2ef,#fcdfcf,#fdddcb,#f3f5f6,#8dc2dc,#3681ba,#3c8abe,#5ca3cb,#59a1ca,#4f9bc7,#59a1ca,#529dc8,#3b88be,#3b88be,#62a7ce,#9dcbe1,#bbdaea,#c7e0ed,#cae1ee,#d5e7f1,#e1edf3,#dae9f2,#b6d7e8,#a2cde3,#b6d7e8,#cce2ef,#d8e9f1,#ecf2f5,#f9ebe3,#fdddcb,#fcd5bf,#fddbc7,#fbe5d8,#f9ede5,#f8f2ef,#f8f3f0,#f8f3f0,#f7f5f4,#f3f5f6,#f3f5f6,#f2f5f6,#e4eef4,#d1e5f0,#c7e0ed,#cfe4ef,#d4e6f1,#cce2ef,#a2cde3,#78b4d5,#8dc2dc,#b6d7e8,#c2ddec,#b8d8e9,#b1d5e7,#aed3e6,#b3d6e8,#bbdaea,#bddbea)"></div><div style="top:305px;background:linear-gradient(90deg,#a5cee3,#a7d0e4,#b1d5e7,#bbdaea,#c7e0ed,#d8e9f1,#eff3f5,#f9f0eb,#f9f0eb,#deebf2,#71b0d3,#2f79b5,#3480b9,#4c99c6,#5ca3cb,#62a7ce,#6eaed2,#62a7ce,#4291c2,#4393c3,#78b4d5,#a7d0e4,#bbdaea,#c5dfec,#d2e6f0,#ddebf2,#e3edf3,#dae9f2,#c0dceb,#aed3e6,#b8d8e9,#cae1ee,#d7e8f1,#eaf1f5,#f9ede5,#fdddcb,#fcd5bf,#fddcc9,#fbe5d8,#f9ebe3,#f9eee7,#f9efe9,#f9f0eb,#f9efe9,#f9ebe3,#f9ebe3,#f9f0eb,#ecf2f5,#d7e8f1,#d1e5f0,#d7e8f1,#dbeaf2,#cce2ef,#93c6de,#59a1ca,#6eaed2,#a7d0e4,#b8d8e9,#aed3e6,#9dcbe1,#98c8e0,#a2cde3,#b3d6e8,#bddbea)"></div><div style="top:306px;background:linear-gradient(90deg,#cce2ef,#c0dceb,#aed3e6,#a5cee3,#b3d6e8,#cce2ef,#ddebf2,#e7f0f4,#e6eff4,#c2ddec,#5ca3cb,#2b73b3,#327cb7,#4997c5,#65a9cf,#71b0d3,#7bb6d6,#6bacd1,#4997c5,#4997c5,#7eb8d7,#a9d1e5,#bbdaea,#cae1ee,#d8e9f1,#e1edf3,#e4eef4,#dbeaf2,#cae1ee,#bddbea,#bddbea,#cae1ee,#d7e8f1,#eaf1f5,#f9efe9,#fcdfcf,#fcd5bf,#fddbc7,#fbe5d8,#fae9df,#fae9df,#fae9df,#faeae1,#fbe5d8,#fdddcb,#fdddcb,#fbe6da,#f6f7f7,#e0ecf3,#dae9f2,#deebf2,#deebf2,#cce2ef,#8ac0db,#4695c4,#5ca3cb,#9bc9e0,#aed3e6,#a2cde3,#8ac0db,#7bb6d6,#8ac0db,#a5cee3,#b3d6e8)"></div><div style="top:307px;background:linear-gradient(90deg,#d7e8f1,#c2ddec,#a0cce2,#8ac0db,#9dcbe1,#bbdaea,#cce2ef,#d2e6f0,#d1e5f0,#acd2e5,#529dc8,#2e77b5,#3681ba,#529dc8,#6bacd1,#75b2d4,#78b4d5,#65a9cf,#4291c2,#4291c2,#6eaed2,#a2cde3,#bddbea,#d2e6f0,#ddebf2,#e4eef4,#e3edf3,#dbeaf2,#d2e6f0,#c7e0ed,#c5dfec,#cfe4ef,#dbeaf2,#edf2f5,#f9f0eb,#fce2d2,#fcd7c2,#fddbc7,#fbe4d6,#fae7dc,#fbe5d8,#fbe5d8,#fbe4d6,#fddbc7,#f9c6ac,#fac8af,#fdddcb,#f9eee7,#f0f4f6,#e4eef4,#e1edf3,#deebf2,#cfe4ef,#8dc2dc,#4c99c6,#62a7ce,#9bc9e0,#acd2e5,#9bc9e0,#75b2d4,#5ca3cb,#68abd0,#84bcd9,#96c7df)"></div><div style="top:308px;background:linear-gradient(90deg,#cfe4ef,#b1d5e7,#84bcd9,#68abd0,#8ac0db,#aed3e6,#b8d8e9,#b8d8e9,#bbdaea,#a2cde3,#529dc8,#3480b9,#3f8ec0,#62a7ce,#6eaed2,#68abd0,#65a9cf,#4c99c6,#3885bc,#3681ba,#4c99c6,#8dc2dc,#c2ddec,#dbeaf2,#e3edf3,#e3edf3,#e0ecf3,#dbeaf2,#d7e8f1,#d1e5f0,#cce2ef,#d4e6f1,#e1edf3,#f2f5f6,#f9efe9,#fbe3d4,#fdd9c4,#fddbc7,#fce0d0,#fbe4d6,#fce2d2,#fcdfcf,#fddbc7,#f9c6ac,#f6b191,#f7b596,#fbceb7,#fce0d0,#f9ede5,#f2f5f6,#e1edf3,#dbeaf2,#d2e6f0,#9dcbe1,#65a9cf,#78b4d5,#a5cee3,#aed3e6,#98c8e0,#68abd0,#4393c3,#4393c3,#59a1ca,#68abd0)"></div><div style="top:309px;background:linear-gradient(90deg,#aed3e6,#93c6de,#62a7ce,#4f9bc7,#78b4d5,#a5cee3,#a9d1e5,#a7d0e4,#aed3e6,#9dcbe1,#5ca3cb,#3c8abe,#4f9bc7,#71b0d3,#68abd0,#529dc8,#4393c3,#3a87bd,#2b73b3,#276eb0,#3783bb,#75b2d4,#c5dfec,#e4eef4,#e4eef4,#e0ecf3,#deebf2,#ddebf2,#dbeaf2,#d7e8f1,#d5e7f1,#ddebf2,#eaf1f5,#f7f6f6,#f9eee7,#fbe4d6,#fddbc7,#fcd7c2,#fddcc9,#fcdfcf,#fcdecd,#fdd9c4,#facab1,#f7b596,#f2a17f,#f5a886,#f8bda1,#fbceb7,#fdddcb,#f8f2ef,#e3edf3,#dbeaf2,#d8e9f1,#b6d7e8,#87beda,#96c7df,#b6d7e8,#b8d8e9,#9bc9e0,#65a9cf,#3f8ec0,#3b88be,#3f8ec0,#4695c4)"></div><div style="top:310px;background:linear-gradient(90deg,#84bcd9,#6bacd1,#4695c4,#4393c3,#71b0d3,#a0cce2,#a2cde3,#9dcbe1,#a5cee3,#98c8e0,#65a9cf,#4393c3,#5ca3cb,#71b0d3,#59a1ca,#3e8cbf,#337eb8,#276eb0,#1c5c9f,#1a5899,#2a71b2,#62a7ce,#c2ddec,#e6eff4,#e6eff4,#deebf2,#deebf2,#e1edf3,#e3edf3,#e1edf3,#e0ecf3,#e6eff4,#f2f5f6,#f8f2ef,#faeae1,#fbe3d4,#fdd9c4,#fbd0b9,#fcd3bc,#fcd5bf,#fcd5bf,#fbccb4,#f8bb9e,#f5a886,#ee9677,#f19e7d,#f6b191,#f8bb9e,#facab1,#faeae1,#e4eef4,#e0ecf3,#e4eef4,#cfe4ef,#a5cee3,#a9d1e5,#c5dfec,#c2ddec,#a5cee3,#71b0d3,#4997c5,#408fc1,#4997c5,#529dc8)"></div><div style="top:311px;background:linear-gradient(90deg,#4c99c6,#4393c3,#3f8ec0,#4695c4,#78b4d5,#9dcbe1,#a0cce2,#98c8e0,#9bc9e0,#90c4dd,#68abd0,#4f9bc7,#5ca3cb,#62a7ce,#4291c2,#2f79b5,#2065ab,#175290,#0f437b,#114781,#2369ad,#569fc9,#bbdaea,#e1edf3,#e3edf3,#deebf2,#e3edf3,#e9f0f4,#edf2f5,#edf2f5,#edf2f5,#f0f4f6,#f7f6f6,#f9efe9,#fae7dc,#fcdfcf,#fcd5bf,#fac8af,#f9c2a7,#f9c2a7,#f9c6ac,#f8bfa4,#f6b191,#f2a17f,#ee9677,#f09c7b,#f5a886,#f6b191,#f9c4a9,#fae8de,#eaf1f5,#eaf1f5,#f3f5f6,#deebf2,#b6d7e8,#b8d8e9,#d1e5f0,#d1e5f0,#b6d7e8,#90c4dd,#71b0d3,#71b0d3,#87beda,#96c7df)"></div><div style="top:312px;background:linear-gradient(90deg,#337eb8,#3681ba,#3e8cbf,#59a1ca,#84bcd9,#a0cce2,#a0cce2,#98c8e0,#90c4dd,#84bcd9,#6bacd1,#5ca3cb,#59a1ca,#4997c5,#3681ba,#2267ac,#144e8a,#0a3b70,#063264,#0d3f76,#2369ad,#569fc9,#aed3e6,#d8e9f1,#deebf2,#e0ecf3,#e9f0f4,#f2f5f6,#f7f5f4,#f8f3f0,#f8f3f0,#f8f3f0,#f8f1ed,#f9ebe3,#fbe4d6,#fddbc7,#fbccb4,#f8bda1,#f6b191,#f6af8e,#f6b394,#f6b191,#f4a683,#f09c7b,#ef9979,#ef9979,#f19e7d,#f5aa89,#f9c4a9,#fae7dc,#f2f5f6,#f7f6f6,#f9eee7,#ecf2f5,#c2ddec,#c0dceb,#d7e8f1,#d8e9f1,#cce2ef,#b1d5e7,#a7d0e4,#b6d7e8,#d2e6f0,#ddebf2)"></div><div style="top:313px;background:linear-gradient(90deg,#266caf,#2f79b5,#4291c2,#6bacd1,#8dc2dc,#a0cce2,#a2cde3,#9bc9e0,#87beda,#75b2d4,#6eaed2,#68abd0,#59a1ca,#3f8ec0,#2b73b3,#1a5899,#0f437b,#073467,#053061,#0e4179,#276eb0,#5ca3cb,#a7d0e4,#d1e5f0,#dbeaf2,#e3edf3,#edf2f5,#f8f4f2,#f9eee7,#fae9df,#fae9df,#f9ebe3,#f9ebe3,#fae7dc,#fcdecd,#fbd0b9,#f9c2a7,#f6b191,#f2a17f,#f09c7b,#f19e7d,#f19e7d,#f09c7b,#ef9979,#ef9979,#ee9677,#ee9677,#f5a886,#facab1,#fae8de,#f6f7f7,#f9f0eb,#fae7dc,#f2f5f6,#c7e0ed,#c5dfec,#dbeaf2,#e3edf3,#dbeaf2,#d4e6f1,#d5e7f1,#e7f0f4,#f8f2ef,#fae8de)"></div><div style="top:314px;background:linear-gradient(90deg,#246aae,#307ab6,#4c99c6,#7eb8d7,#96c7df,#9dcbe1,#a7d0e4,#a0cce2,#81bad8,#68abd0,#75b2d4,#7eb8d7,#6bacd1,#408fc1,#276eb0,#175290,#124984,#0f437b,#0c3d73,#134c87,#2e77b5,#65a9cf,#a9d1e5,#cfe4ef,#dbeaf2,#e6eff4,#f2f5f6,#f9f0eb,#fae7dc,#fce2d2,#fbe3d4,#fbe4d6,#fbe4d6,#fcdfcf,#fcd5bf,#f9c6ac,#f7b799,#f4a683,#ec9374,#e8896c,#e8896c,#e98b6e,#ea8e70,#eb9172,#ec9374,#ea8e70,#ea8e70,#f5a886,#fbceb7,#faeae1,#f7f6f6,#f9f0eb,#fae8de,#f0f4f6,#cae1ee,#cce2ef,#e3edf3,#ecf2f5,#e9f0f4,#e7f0f4,#f0f4f6,#f9ede5,#fddbc7,#fac8af)"></div><div style="top:315px;background:linear-gradient(90deg,#2f79b5,#3b88be,#62a7ce,#8ac0db,#98c8e0,#9dcbe1,#a9d1e5,#a5cee3,#7bb6d6,#5ca3cb,#78b4d5,#96c7df,#8ac0db,#569fc9,#2a71b2,#1a5899,#1e61a5,#2267ac,#1b5a9c,#1e61a5,#3885bc,#78b4d5,#b1d5e7,#d4e6f1,#e0ecf3,#e9f0f4,#f5f6f7,#f9ede5,#fce2d2,#fdddcb,#fcdfcf,#fcdecd,#fdd9c4,#fbd0b9,#fac8af,#f8bda1,#f5ac8b,#f09c7b,#e98b6e,#e27b62,#de735c,#df765e,#e48066,#e6866a,#e6866a,#e58368,#e8896c,#f5aa89,#fcd5bf,#f9eee7,#f3f5f6,#f7f5f4,#f8f1ed,#e7f0f4,#cae1ee,#d2e6f0,#eaf1f5,#f5f6f7,#f5f6f7,#f7f5f4,#f9ede5,#fcdecd,#f9c4a9,#f7b799)"></div><div style="top:316px;background:linear-gradient(90deg,#3f8ec0,#529dc8,#78b4d5,#96c7df,#98c8e0,#9bc9e0,#a9d1e5,#a5cee3,#71b0d3,#4f9bc7,#78b4d5,#a5cee3,#a7d0e4,#75b2d4,#337eb8,#2267ac,#337eb8,#3e8cbf,#337eb8,#307ab6,#4c99c6,#93c6de,#c2ddec,#dbeaf2,#e7f0f4,#f0f4f6,#f8f4f2,#fae9df,#fcdecd,#fdd9c4,#fddcc9,#fdd9c4,#fac8af,#f8bfa4,#f8bda1,#f7b596,#f3a481,#eb9172,#e58368,#dd7059,#d6604d,#d7634f,#de735c,#e27b62,#e17860,#e17860,#e8896c,#f6af8e,#fddbc7,#f8f2ef,#ecf2f5,#ecf2f5,#eff3f5,#ddebf2,#c7e0ed,#d7e8f1,#f0f4f6,#f8f2ef,#f9f0eb,#faeae1,#fce0d0,#fbceb7,#f8bb9e,#f6b394)"></div><div style="top:317px;background:linear-gradient(90deg,#65a9cf,#75b2d4,#90c4dd,#a0cce2,#a0cce2,#a0cce2,#a7d0e4,#98c8e0,#5fa5cd,#4291c2,#6bacd1,#a5cee3,#b6d7e8,#96c7df,#408fc1,#307ab6,#529dc8,#78b4d5,#59a1ca,#4997c5,#78b4d5,#b1d5e7,#d5e7f1,#e6eff4,#f2f5f6,#f8f3f0,#f9ebe3,#fbe3d4,#fdd9c4,#fcd5bf,#fcd7c2,#fbceb7,#f8bda1,#f7b596,#f7b799,#f6b394,#f2a17f,#e98b6e,#e17860,#d55d4c,#cb4942,#ce4f45,#db6b55,#de735c,#dd7059,#df765e,#ea8e70,#f7b99c,#fbe3d4,#f3f5f6,#e1edf3,#deebf2,#e0ecf3,#d4e6f1,#c2ddec,#d8e9f1,#f5f6f7,#f9ede5,#fae7dc,#fce0d0,#fcd5bf,#f9c4a9,#f7b799,#f6b394)"></div><div style="top:318px;background:linear-gradient(90deg,#8dc2dc,#96c7df,#a2cde3,#a9d1e5,#acd2e5,#a7d0e4,#a0cce2,#81bad8,#4695c4,#3a87bd,#529dc8,#93c6de,#b6d7e8,#a9d1e5,#62a7ce,#4695c4,#84bcd9,#a7d0e4,#90c4dd,#81bad8,#acd2e5,#d5e7f1,#e6eff4,#f2f5f6,#f9f0eb,#fae7dc,#fcdfcf,#fdd9c4,#fcd3bc,#fbd0b9,#fbceb7,#f9c6ac,#f8bb9e,#f7b799,#f7b799,#f6b394,#f2a17f,#e8896c,#db6b55,#c94741,#be3036,#c53e3d,#d7634f,#df765e,#de735c,#e27b62,#ef9979,#fac8af,#f9eee7,#e4eef4,#d4e6f1,#d4e6f1,#d8e9f1,#cce2ef,#c0dceb,#d7e8f1,#f5f6f7,#fae7dc,#fdddcb,#fcd3bc,#fac8af,#f8bda1,#f6b394,#f5ac8b)"></div><div style="top:319px;background:linear-gradient(90deg,#a9d1e5,#acd2e5,#b1d5e7,#b6d7e8,#bbdaea,#b3d6e8,#93c6de,#5fa5cd,#3a87bd,#327cb7,#3e8cbf,#75b2d4,#aed3e6,#b8d8e9,#90c4dd,#7eb8d7,#acd2e5,#c7e0ed,#b6d7e8,#b3d6e8,#d8e9f1,#f0f4f6,#f7f6f6,#f8f2ef,#fbe6da,#fddbc7,#fbccb4,#fbccb4,#fcd3bc,#fcd3bc,#facab1,#f9c2a7,#f9c2a7,#f8bfa4,#f8bb9e,#f6b394,#f4a683,#e6866a,#d25849,#bb2a34,#ae172a,#bd2d35,#d6604d,#e27b62,#e37e64,#e8896c,#f5aa89,#fddcc9,#f2f5f6,#d2e6f0,#c0dceb,#c7e0ed,#d2e6f0,#cae1ee,#c0dceb,#d5e7f1,#f3f5f6,#fbe3d4,#fbccb4,#f9c2a7,#f8bfa4,#f7b799,#f5aa89,#f3a481)"></div><div style="top:320px;background:linear-gradient(90deg,#c0dceb,#bddbea,#bbdaea,#c0dceb,#cae1ee,#bddbea,#8ac0db,#4393c3,#327cb7,#2e77b5,#3480b9,#569fc9,#a2cde3,#c5dfec,#b6d7e8,#b1d5e7,#cfe4ef,#dae9f2,#d5e7f1,#dae9f2,#f3f5f6,#f9ebe3,#f9ebe3,#fae9df,#fcdfcf,#fbd0b9,#fac8af,#fcd3bc,#fcdecd,#fcdfcf,#fcd3bc,#facab1,#fbceb7,#fbccb4,#f8bda1,#f6b394,#f4a683,#e37e64,#c84440,#a81529,#960f27,#b61f2e,#d6604d,#e58368,#ea8e70,#f09c7b,#f8bda1,#fae9df,#dbeaf2,#b3d6e8,#a7d0e4,#b6d7e8,#cae1ee,#c7e0ed,#c2ddec,#d5e7f1,#f3f5f6,#fcdfcf,#f8bda1,#f7b799,#f7b99c,#f6b191,#f19e7d,#eb9172)"></div><div style="top:321px;background:linear-gradient(90deg,#cfe4ef,#cae1ee,#c5dfec,#cae1ee,#d2e6f0,#c5dfec,#84bcd9,#3e8cbf,#327cb7,#307ab6,#3480b9,#4997c5,#98c8e0,#cfe4ef,#d8e9f1,#dbeaf2,#e3edf3,#e7f0f4,#e7f0f4,#f2f5f6,#faeae1,#fcdfcf,#fce2d2,#fbe3d4,#fdddcb,#fdd9c4,#fcdecd,#fae8de,#f8f2ef,#f8f1ed,#fbe6da,#fcdfcf,#fcdecd,#fcd5bf,#f8bda1,#f6af8e,#f19e7d,#de735c,#be3036,#900d26,#7f0823,#ae172a,#d6604d,#e98b6e,#f09c7b,#f6af8e,#fcd7c2,#f3f5f6,#bddbea,#93c6de,#8dc2dc,#a0cce2,#b6d7e8,#c0dceb,#c5dfec,#d8e9f1,#f5f6f7,#fdddcb,#f7b799,#f6b191,#f7b596,#f5a886,#e98b6e,#e27b62)"></div><div style="top:322px;background:linear-gradient(90deg,#d5e7f1,#d2e6f0,#cfe4ef,#d1e5f0,#d8e9f1,#cce2ef,#87beda,#3f8ec0,#3885bc,#3b88be,#3b88be,#4c99c6,#98c8e0,#d5e7f1,#edf2f5,#f6f7f7,#f5f6f7,#f3f5f6,#f7f5f4,#f9ebe3,#fce0d0,#fdd9c4,#fddcc9,#fcdfcf,#fbe3d4,#f9ebe3,#f3f5f6,#e1edf3,#d8e9f1,#ddebf2,#eff3f5,#f8f2ef,#fae8de,#fddbc7,#f8bb9e,#f3a481,#ea8e70,#d6604d,#b41c2d,#7f0823,#730421,#ab162a,#d7634f,#ec9374,#f5a886,#f9c4a9,#fae8de,#dbeaf2,#98c8e0,#6eaed2,#6eaed2,#84bcd9,#9dcbe1,#b6d7e8,#cce2ef,#e0ecf3,#f7f5f4,#fddcc9,#f7b596,#f6af8e,#f6af8e,#f09c7b,#e17860,#d7634f)"></div><div style="top:323px;background:linear-gradient(90deg,#dbeaf2,#d8e9f1,#d5e7f1,#d7e8f1,#deebf2,#d4e6f1,#96c7df,#4f9bc7,#4695c4,#4f9bc7,#4c99c6,#5fa5cd,#a0cce2,#deebf2,#f9efe9,#fbe5d8,#f9ebe3,#f8f1ed,#fae9df,#fcdfcf,#fdd9c4,#fcd7c2,#fddbc7,#fbe3d4,#f9f0eb,#e3edf3,#b8d8e9,#98c8e0,#9bc9e0,#aed3e6,#cfe4ef,#e6eff4,#f8f1ed,#fddbc7,#f7b596,#ec9374,#df765e,#c94741,#a81529,#790622,#730421,#b1182b,#dc6e57,#f2a17f,#f7b799,#fddbc7,#f2f5f6,#b8d8e9,#71b0d3,#4f9bc7,#529dc8,#65a9cf,#81bad8,#a9d1e5,#d4e6f1,#eaf1f5,#f9f0eb,#fddbc7,#f7b799,#f5ac8b,#f4a683,#e8896c,#d6604d,#cb4942)"></div><div style="top:324px;background:linear-gradient(90deg,#e3edf3,#e0ecf3,#deebf2,#e0ecf3,#e7f0f4,#deebf2,#a9d1e5,#6eaed2,#68abd0,#71b0d3,#6bacd1,#78b4d5,#b1d5e7,#eaf1f5,#fbe3d4,#fcd5bf,#fce0d0,#fae7dc,#fcdfcf,#fcd3bc,#fbd0b9,#fdd9c4,#fcdfcf,#f9efe9,#e1edf3,#a7d0e4,#5ca3cb,#408fc1,#59a1ca,#84bcd9,#aed3e6,#d8e9f1,#f8f4f2,#fdd9c4,#f5aa89,#e37e64,#d35a4a,#be3036,#a21328,#810823,#840924,#ba2832,#e48066,#f6b394,#fbccb4,#f9ebe3,#d5e7f1,#8ac0db,#4997c5,#3e8cbf,#4291c2,#4c99c6,#68abd0,#a5cee3,#dbeaf2,#f6f7f7,#fae9df,#fcd7c2,#f7b99c,#f5aa89,#ef9979,#de735c,#cb4942,#bf3338)"></div><div style="top:325px;background:linear-gradient(90deg,#eff3f5,#ecf2f5,#eaf1f5,#edf2f5,#f6f7f7,#eff3f5,#cae1ee,#96c7df,#8dc2dc,#90c4dd,#87beda,#96c7df,#cae1ee,#f7f5f4,#fdd9c4,#f9c6ac,#fcd5bf,#fcdecd,#fcd5bf,#f9c6ac,#facab1,#fddbc7,#f9ebe3,#e4eef4,#a7d0e4,#4997c5,#266caf,#2369ad,#3c8abe,#7bb6d6,#aed3e6,#dbeaf2,#f8f2ef,#fcd3bc,#f2a17f,#da6853,#c43b3c,#b41c2d,#a51429,#9c1127,#a81529,#cc4c44,#f09c7b,#facab1,#fbe3d4,#eaf1f5,#a5cee3,#569fc9,#3885bc,#3783bb,#3c8abe,#4291c2,#62a7ce,#a7d0e4,#e4eef4,#f9efe9,#fce0d0,#fbceb7,#f7b799,#f2a17f,#e58368,#d35a4a,#c13639,#b82531)"></div><div style="top:326px;background:linear-gradient(90deg,#f8f3f0,#f7f5f4,#f7f6f6,#f8f3f0,#f9ede5,#f9f0eb,#e1edf3,#b8d8e9,#a9d1e5,#a7d0e4,#9dcbe1,#acd2e5,#deebf2,#faeae1,#fbd0b9,#f9c4a9,#fbccb4,#fcd5bf,#fbccb4,#f9c4a9,#fac8af,#fce0d0,#eff3f5,#b1d5e7,#4c99c6,#1f63a8,#0d3f76,#15508d,#3b88be,#90c4dd,#cce2ef,#edf2f5,#fae8de,#f9c6ac,#ea8e70,#ce4f45,#b61f2e,#a81529,#b1182b,#b82531,#c53e3d,#df765e,#f7b99c,#fce0d0,#f8f4f2,#cae1ee,#6bacd1,#3885bc,#307ab6,#337eb8,#3b88be,#4393c3,#68abd0,#b6d7e8,#f0f4f6,#fbe5d8,#fcd5bf,#f9c4a9,#f6b191,#eb9172,#db6b55,#c84440,#ba2832,#b3192c)"></div><div style="top:327px;background:linear-gradient(90deg,#faeae1,#f9ebe3,#f9ede5,#faeae1,#fbe5d8,#fae8de,#f2f5f6,#d5e7f1,#c5dfec,#b8d8e9,#aed3e6,#c2ddec,#ecf2f5,#fbe4d6,#fcd3bc,#fbccb4,#fbceb7,#fbd0b9,#fbceb7,#fbccb4,#fcd3bc,#faeae1,#d4e6f1,#68abd0,#246aae,#09386d,#053061,#144e8a,#4393c3,#b3d6e8,#eaf1f5,#faeae1,#fdd9c4,#f6b394,#e17860,#c13639,#a21328,#9f1228,#bb2a34,#ce4f45,#dd7059,#f3a481,#fcd7c2,#f9efe9,#e1edf3,#9dcbe1,#3e8cbf,#2a71b2,#2b73b3,#3480b9,#3e8cbf,#4f9bc7,#81bad8,#cce2ef,#f8f2ef,#fddbc7,#f9c4a9,#f7b596,#f3a481,#e37e64,#d05548,#bf3338,#b72230,#b3192c)"></div><div style="top:328px;background:linear-gradient(90deg,#fbe5d8,#fbe5d8,#fbe6da,#fbe6da,#fbe6da,#f9ebe3,#f6f7f7,#e4eef4,#d7e8f1,#cae1ee,#c0dceb,#d2e6f0,#f2f5f6,#fbe6da,#fcdecd,#fcdecd,#fdddcb,#fddcc9,#fdddcb,#fcdecd,#fbe3d4,#f2f5f6,#a5cee3,#3885bc,#144e8a,#053061,#053061,#1d5fa2,#6eaed2,#dae9f2,#fae8de,#fbccb4,#f6b394,#ea8e70,#d05548,#b3192c,#8d0c25,#a21328,#c6413e,#df765e,#f09c7b,#f9c2a7,#fbe6da,#eff3f5,#cae1ee,#75b2d4,#307ab6,#246aae,#2e77b5,#3885bc,#4393c3,#6bacd1,#a5cee3,#e3edf3,#fbe5d8,#f9c6ac,#f6b191,#f3a481,#ea8e70,#db6b55,#c84440,#bd2d35,#b82531,#b82531)"></div><div style="top:329px;background:linear-gradient(90deg,#fbe3d4,#fce2d2,#fce2d2,#fbe5d8,#f9eee7,#f7f6f6,#f2f5f6,#ecf2f5,#e0ecf3,#d4e6f1,#cfe4ef,#d8e9f1,#eff3f5,#f9f0eb,#f9ede5,#f9ede5,#f9ebe3,#faeae1,#f9ebe3,#f9eee7,#f7f6f6,#d4e6f1,#6eaed2,#2870b1,#134c87,#0d3f76,#134c87,#3480b9,#a5cee3,#f7f6f6,#fac8af,#f09c7b,#e48066,#d6604d,#bd2d35,#991027,#840924,#ab162a,#d55d4c,#ef9979,#f8bb9e,#fddbc7,#f8f1ed,#e0ecf3,#acd2e5,#59a1ca,#2b73b3,#266caf,#3480b9,#4291c2,#5ca3cb,#8dc2dc,#cce2ef,#f8f4f2,#fcd3bc,#f6af8e,#f09c7b,#e8896c,#de735c,#d25849,#c53e3d,#c13639,#c13639,#c2383a)"></div><div style="top:330px;background:linear-gradient(90deg,#fbe6da,#fbe3d4,#fce0d0,#fae7dc,#f6f7f7,#e7f0f4,#ecf2f5,#f2f5f6,#e7f0f4,#dbeaf2,#d8e9f1,#deebf2,#e7f0f4,#eff3f5,#f0f4f6,#f0f4f6,#f0f4f6,#f2f5f6,#f3f5f6,#edf2f5,#ddebf2,#a9d1e5,#4393c3,#246aae,#1e61a5,#2369ad,#307ab6,#6bacd1,#d7e8f1,#fcdfcf,#f09c7b,#d86551,#ce4f45,#bf3338,#a81529,#8a0b25,#8a0b25,#ba2832,#e27b62,#f7b799,#fcd3bc,#fbe6da,#f3f5f6,#d4e6f1,#98c8e0,#4695c4,#2b73b3,#2e77b5,#4291c2,#5ca3cb,#75b2d4,#aed3e6,#e9f0f4,#fce0d0,#f7b596,#ef9979,#e6866a,#de735c,#d55d4c,#cb4942,#c6413e,#c84440,#ce4f45,#d25849)"></div><div style="top:331px;background:linear-gradient(90deg,#f9ebe3,#fae7dc,#fbe3d4,#fae8de,#f0f4f6,#e0ecf3,#eaf1f5,#f6f7f7,#edf2f5,#deebf2,#ddebf2,#e0ecf3,#e1edf3,#e0ecf3,#e1edf3,#e0ecf3,#e0ecf3,#e1edf3,#e3edf3,#ddebf2,#c5dfec,#87beda,#3c8abe,#2b73b3,#3681ba,#4c99c6,#75b2d4,#bbdaea,#f8f2ef,#f7b596,#da6853,#c43b3c,#bb2a34,#b3192c,#991027,#900d26,#a51429,#cb4942,#f19e7d,#fbd0b9,#fbe3d4,#f9f0eb,#eaf1f5,#c7e0ed,#8ac0db,#408fc1,#2e77b5,#3885bc,#65a9cf,#81bad8,#96c7df,#cfe4ef,#f9efe9,#f9c6ac,#f09c7b,#e58368,#de735c,#d6604d,#cc4c44,#c84440,#cb4942,#d35a4a,#dc6e57,#e17860)"></div><div style="top:332px;background:linear-gradient(90deg,#f7f5f4,#f9efe9,#fbe6da,#fae7dc,#f7f6f6,#eaf1f5,#f5f6f7,#f8f1ed,#f0f4f6,#e0ecf3,#deebf2,#e1edf3,#deebf2,#dae9f2,#dae9f2,#dae9f2,#dae9f2,#dbeaf2,#deebf2,#d7e8f1,#b8d8e9,#81bad8,#4393c3,#3f8ec0,#6bacd1,#a2cde3,#cae1ee,#f2f5f6,#fbceb7,#e37e64,#c43b3c,#b61f2e,#b61f2e,#b41c2d,#ab162a,#b1182b,#c13639,#e17860,#f8bda1,#fce2d2,#f9eee7,#f5f6f7,#e1edf3,#bddbea,#81bad8,#3f8ec0,#307ab6,#4695c4,#90c4dd,#a5cee3,#aed3e6,#e1edf3,#fcdfcf,#f5ac8b,#e98b6e,#df765e,#da6853,#d05548,#c94741,#c94741,#d25849,#de735c,#eb9172,#f19e7d)"></div><div style="top:333px;background:linear-gradient(90deg,#eaf1f5,#f5f6f7,#f9ebe3,#fbe5d8,#faeae1,#f9f0eb,#f9ebe3,#f9ebe3,#f2f5f6,#e0ecf3,#deebf2,#e1edf3,#deebf2,#dae9f2,#dae9f2,#dae9f2,#dae9f2,#ddebf2,#deebf2,#d8e9f1,#bddbea,#93c6de,#6bacd1,#78b4d5,#b3d6e8,#e1edf3,#f8f3f0,#fdd9c4,#ec9374,#cb4942,#b3192c,#ab162a,#ba2832,#c13639,#c2383a,#cb4942,#dd7059,#f5aa89,#fddcc9,#f9eee7,#f6f7f7,#eaf1f5,#dae9f2,#b6d7e8,#7eb8d7,#3f8ec0,#3480b9,#5fa5cd,#b3d6e8,#c7e0ed,#cae1ee,#f0f4f6,#fbccb4,#f09c7b,#e6866a,#de735c,#d7634f,#d05548,#ce4f45,#d05548,#db6b55,#ea8e70,#f6b191,#f8bfa4)"></div><div style="top:334px;background:linear-gradient(90deg,#ddebf2,#e7f0f4,#f8f3f0,#fbe5d8,#fcdfcf,#fcdfcf,#fce0d0,#fae9df,#f2f5f6,#deebf2,#ddebf2,#e1edf3,#e0ecf3,#deebf2,#ddebf2,#deebf2,#deebf2,#e0ecf3,#e1edf3,#ddebf2,#cce2ef,#aed3e6,#a0cce2,#b3d6e8,#e3edf3,#f9ebe3,#fbd0b9,#f19e7d,#d35a4a,#b41c2d,#960f27,#a81529,#c6413e,#d7634f,#dc6e57,#e58368,#f5ac8b,#fcd3bc,#faeae1,#f5f6f7,#eaf1f5,#e0ecf3,#d2e6f0,#b1d5e7,#81bad8,#4291c2,#3a87bd,#78b4d5,#d1e5f0,#ddebf2,#d8e9f1,#f8f4f2,#f9c2a7,#ef9979,#ea8e70,#e37e64,#da6853,#d6604d,#d6604d,#db6b55,#e58368,#f5aa89,#fac8af,#fdd9c4)"></div><div style="top:335px;background:linear-gradient(90deg,#d2e6f0,#dbeaf2,#f2f5f6,#fae9df,#fddbc7,#fbd0b9,#fddcc9,#f9ebe3,#eff3f5,#deebf2,#ddebf2,#e0ecf3,#e1edf3,#e1edf3,#e1edf3,#e1edf3,#e0ecf3,#e0ecf3,#e1edf3,#deebf2,#d4e6f1,#c7e0ed,#c7e0ed,#ddebf2,#f8f1ed,#fbd0b9,#f3a481,#db6b55,#bf3338,#9c1127,#840924,#ae172a,#d7634f,#ee9677,#f4a683,#f7b799,#fcd7c2,#fae9df,#f7f6f6,#eaf1f5,#e0ecf3,#d7e8f1,#c7e0ed,#acd2e5,#87beda,#4f9bc7,#4291c2,#90c4dd,#ddebf2,#e7f0f4,#e0ecf3,#f8f2ef,#f9c4a9,#f4a683,#f2a17f,#eb9172,#e27b62,#df765e,#e27b62,#e8896c,#f2a17f,#f8bfa4,#fddbc7,#fbe3d4)"></div><div style="top:336px;background:linear-gradient(90deg,#cae1ee,#d4e6f1,#e6eff4,#f8f1ed,#fcdecd,#fbd0b9,#fce0d0,#f8f2ef,#e9f0f4,#deebf2,#ddebf2,#e0ecf3,#e1edf3,#e3edf3,#e3edf3,#e1edf3,#ddebf2,#dae9f2,#dbeaf2,#dae9f2,#d7e8f1,#d7e8f1,#e0ecf3,#f5f6f7,#fbe3d4,#f7b799,#e48066,#cc4c44,#b82531,#930e26,#7f0823,#b41c2d,#e8896c,#f9c4a9,#fbceb7,#fddcc9,#f9ebe3,#f6f7f7,#ecf2f5,#e3edf3,#d8e9f1,#cce2ef,#bbdaea,#a7d0e4,#8dc2dc,#65a9cf,#5ca3cb,#a0cce2,#e1edf3,#e9f0f4,#e3edf3,#f8f3f0,#fbceb7,#f7b99c,#f8bb9e,#f6af8e,#f09c7b,#ec9374,#f09c7b,#f5ac8b,#f8bda1,#fcd5bf,#fce2d2,#fae7dc)"></div><div style="top:337px;background:linear-gradient(90deg,#c5dfec,#cce2ef,#dae9f2,#f0f4f6,#fbe6da,#fddcc9,#fae9df,#eff3f5,#e3edf3,#e0ecf3,#e0ecf3,#e0ecf3,#e0ecf3,#e1edf3,#e3edf3,#e0ecf3,#d8e9f1,#d2e6f0,#d1e5f0,#d4e6f1,#d7e8f1,#e0ecf3,#f0f4f6,#f9ebe3,#fcd7c2,#f5aa89,#dc6e57,#c53e3d,#b82531,#991027,#7c0722,#b82531,#f5aa89,#fbe3d4,#fae7dc,#f9ede5,#f3f5f6,#e9f0f4,#e4eef4,#deebf2,#d2e6f0,#c0dceb,#aed3e6,#a2cde3,#98c8e0,#81bad8,#7bb6d6,#aed3e6,#e0ecf3,#e7f0f4,#e1edf3,#f7f6f6,#fcdecd,#fcd3bc,#fcd7c2,#fbccb4,#f7b99c,#f6b394,#f7b99c,#fac8af,#fdd9c4,#fce0d0,#fbe6da,#fae7dc)"></div><div style="top:338px;background:linear-gradient(90deg,#c5dfec,#c5dfec,#d1e5f0,#e3edf3,#f9f0eb,#fbe6da,#f7f5f4,#e0ecf3,#dbeaf2,#e0ecf3,#e1edf3,#e0ecf3,#e0ecf3,#e1edf3,#e3edf3,#deebf2,#d2e6f0,#c2ddec,#c0dceb,#cae1ee,#d5e7f1,#e6eff4,#f8f3f0,#fbe3d4,#fbceb7,#f4a683,#d86551,#c53e3d,#be3036,#a51429,#7f0823,#be3036,#f9c2a7,#f8f3f0,#f7f6f6,#f5f6f7,#e6eff4,#deebf2,#e1edf3,#ddebf2,#cfe4ef,#b6d7e8,#a2cde3,#9dcbe1,#9dcbe1,#96c7df,#96c7df,#b8d8e9,#ddebf2,#e1edf3,#deebf2,#f2f5f6,#fae8de,#fbe4d6,#fbe6da,#fce0d0,#fcd5bf,#fbccb4,#fcd3bc,#fcdecd,#fbe6da,#fae8de,#fae7dc,#fbe6da)"></div><div style="top:339px;background:linear-gradient(90deg,#c5dfec,#c2ddec,#c5dfec,#d8e9f1,#f5f6f7,#f9f0eb,#ecf2f5,#d4e6f1,#d7e8f1,#e1edf3,#e3edf3,#e0ecf3,#deebf2,#e0ecf3,#e1edf3,#ddebf2,#cce2ef,#b6d7e8,#b3d6e8,#c0dceb,#d4e6f1,#e9f0f4,#f9eee7,#fcdecd,#fbccb4,#f4a683,#d86551,#c6413e,#c43b3c,#b1182b,#840924,#c13639,#fcd3bc,#ecf2f5,#eaf1f5,#eaf1f5,#deebf2,#dae9f2,#deebf2,#dbeaf2,#cce2ef,#aed3e6,#9bc9e0,#9bc9e0,#a5cee3,#a5cee3,#a7d0e4,#c0dceb,#dae9f2,#ddebf2,#dbeaf2,#ecf2f5,#f8f1ed,#f9eee7,#f9f0eb,#f9ebe3,#fce2d2,#fdddcb,#fcdfcf,#fae7dc,#f9efe9,#f9eee7,#fae8de,#fbe4d6)"></div><div style="top:340px;background:linear-gradient(90deg,#c7e0ed,#c2ddec,#c0dceb,#d4e6f1,#eff3f5,#f8f4f2,#e6eff4,#cfe4ef,#d4e6f1,#e1edf3,#e4eef4,#e0ecf3,#ddebf2,#deebf2,#e1edf3,#dbeaf2,#c7e0ed,#b1d5e7,#aed3e6,#bbdaea,#d2e6f0,#eaf1f5,#f9ede5,#fdddcb,#fbccb4,#f5a886,#da6853,#c94741,#c84440,#b41c2d,#840924,#c2383a,#fdd9c4,#e6eff4,#e6eff4,#e7f0f4,#dbeaf2,#d8e9f1,#deebf2,#dbeaf2,#cae1ee,#acd2e5,#98c8e0,#98c8e0,#a5cee3,#a9d1e5,#aed3e6,#c2ddec,#d7e8f1,#dae9f2,#dae9f2,#e9f0f4,#f8f4f2,#f8f2ef,#f8f4f2,#f9f0eb,#fbe6da,#fce2d2,#fbe3d4,#f9ebe3,#f8f2ef,#f9efe9,#fae7dc,#fbe3d4)"></div></div>
<svg width="685" height="519" viewBox="0 0 685 519">
<g fill="none" stroke="#111" stroke-width="1.7">
<rect x="243.0" y="72.0" width="353.5" height="56.3"/>
<rect x="243.0" y="138.7" width="353.5" height="55.9"/>
<rect x="243.0" y="205.0" width="353.5" height="55.8"/>
<rect x="243.0" y="283.8" width="353.5" height="56.6"/>
<path d="M243.0 283.8H236.4M243.0 340.4H236.4M243.0 340.4V346.6M419.8 340.4V346.6M596.5 340.4V346.6"/>
</g>
<path d="M68 55.9H684.4M68 456.4H684.4M68 55.2V457.1" fill="none" stroke="#5c5c5c" stroke-width="1.35"/>
<path d="M684.4 55.2V457.1" fill="none" stroke="#333" stroke-width="1.3"/>
<path d="M147 55.9V49.2M147 456.4V462.8M248.9 55.9V49.2M248.9 456.4V462.8M350.8 55.9V49.2M350.8 456.4V462.8M452.7 55.9V49.2M452.7 456.4V462.8M554.6 55.9V49.2M554.6 456.4V462.8M656.4 55.9V49.2M656.4 456.4V462.8M68 70.4H61.5M68 136.7H61.5M68 203.1H61.5M68 269.4H61.5M68 335.7H61.5M68 402.1H61.5" stroke="#5c5c5c" stroke-width="1.2" fill="none"/>
<g fill="#0d0d0d" font-family="Liberation Sans">
<text x="136.12" y="41.10" font-size="15.4" textLength="21.84" lengthAdjust="spacingAndGlyphs">0.8</text>
<text x="237.73" y="41.10" font-size="15.4" textLength="21.84" lengthAdjust="spacingAndGlyphs">1.6</text>
<text x="339.72" y="41.10" font-size="15.4" textLength="21.84" lengthAdjust="spacingAndGlyphs">2.4</text>
<text x="441.83" y="41.10" font-size="15.4" textLength="21.84" lengthAdjust="spacingAndGlyphs">3.3</text>
<text x="543.89" y="41.10" font-size="15.4" textLength="21.84" lengthAdjust="spacingAndGlyphs">4.1</text>
<text x="645.67" y="41.10" font-size="15.4" textLength="21.84" lengthAdjust="spacingAndGlyphs">4.9</text>
<text x="137.57" y="481.70" font-size="15.6" textLength="18.05" lengthAdjust="spacingAndGlyphs">50</text>
<text x="234.66" y="481.70" font-size="15.6" textLength="27.07" lengthAdjust="spacingAndGlyphs">100</text>
<text x="336.56" y="481.70" font-size="15.6" textLength="27.07" lengthAdjust="spacingAndGlyphs">150</text>
<text x="438.67" y="481.70" font-size="15.6" textLength="27.07" lengthAdjust="spacingAndGlyphs">200</text>
<text x="540.57" y="481.70" font-size="15.6" textLength="27.07" lengthAdjust="spacingAndGlyphs">250</text>
<text x="642.47" y="481.70" font-size="15.6" textLength="27.07" lengthAdjust="spacingAndGlyphs">300</text>
<text x="34.00" y="74.95" font-size="15.4" textLength="20.34" lengthAdjust="spacingAndGlyphs">0.7</text>
<text x="33.91" y="141.25" font-size="15.4" textLength="20.34" lengthAdjust="spacingAndGlyphs">0.6</text>
<text x="33.88" y="207.65" font-size="15.4" textLength="20.34" lengthAdjust="spacingAndGlyphs">0.5</text>
<text x="33.69" y="273.95" font-size="15.4" textLength="20.34" lengthAdjust="spacingAndGlyphs">0.4</text>
<text x="33.91" y="340.25" font-size="15.4" textLength="20.34" lengthAdjust="spacingAndGlyphs">0.3</text>
<text x="34.00" y="406.65" font-size="15.4" textLength="20.34" lengthAdjust="spacingAndGlyphs">0.2</text>
<text x="292.48" y="15.00" font-size="17.1" textLength="167.34" lengthAdjust="spacingAndGlyphs">Spatial coverage (%)</text>
<text x="209.49" y="508.80" font-size="17.6" textLength="308.92" lengthAdjust="spacingAndGlyphs">Number of sensors at inference time (</text>
<text x="519.99" y="508.80" font-size="17.6" textLength="9.60" lengthAdjust="spacingAndGlyphs" font-style="italic">N</text>
<text x="531.77" y="514.30" font-size="10.3" textLength="5.85" lengthAdjust="spacingAndGlyphs">s</text>
<text x="537.60" y="508.80" font-size="17.6" textLength="5.53" lengthAdjust="spacingAndGlyphs">)</text>
<text transform="translate(14.8,256.1) rotate(-90) scale(1.3,1)" font-size="16.5" text-anchor="middle" fill="#1a1a1a">ε</text>
<text x="605.76" y="93.00" font-size="17.6" textLength="10.33" lengthAdjust="spacingAndGlyphs" font-style="italic">N</text>
<text x="618.24" y="98.30" font-size="10.2" textLength="6.42" lengthAdjust="spacingAndGlyphs">s</text>
<path d="M629.30 85.70H636.60M629.30 89.10H636.60" stroke="#222" stroke-width="1.3" fill="none"/>
<text x="641.28" y="93.00" font-size="17.2" textLength="20.28" lengthAdjust="spacingAndGlyphs">25</text>
<text x="605.44" y="113.40" font-size="17.6" textLength="9.88" lengthAdjust="spacingAndGlyphs">ε</text>
<path d="M620.00 106.10H627.80M620.00 109.50H627.80" stroke="#222" stroke-width="1.3" fill="none"/>
<text x="632.76" y="113.40" font-size="17.2" textLength="47.27" lengthAdjust="spacingAndGlyphs">0.646</text>
<text x="605.76" y="162.70" font-size="17.6" textLength="10.33" lengthAdjust="spacingAndGlyphs" font-style="italic">N</text>
<text x="618.24" y="168.00" font-size="10.2" textLength="6.42" lengthAdjust="spacingAndGlyphs">s</text>
<path d="M629.30 155.40H636.60M629.30 158.80H636.60" stroke="#222" stroke-width="1.3" fill="none"/>
<text x="641.41" y="162.70" font-size="17.2" textLength="22.07" lengthAdjust="spacingAndGlyphs">50</text>
<text x="605.44" y="182.80" font-size="17.6" textLength="9.88" lengthAdjust="spacingAndGlyphs">ε</text>
<path d="M620.00 175.50H627.80M620.00 178.90H627.80" stroke="#222" stroke-width="1.3" fill="none"/>
<text x="632.81" y="182.80" font-size="17.2" textLength="44.00" lengthAdjust="spacingAndGlyphs">0.374</text>
<text x="605.76" y="227.00" font-size="17.6" textLength="10.33" lengthAdjust="spacingAndGlyphs" font-style="italic">N</text>
<text x="618.24" y="232.30" font-size="10.2" textLength="6.42" lengthAdjust="spacingAndGlyphs">s</text>
<path d="M629.30 219.70H636.60M629.30 223.10H636.60" stroke="#222" stroke-width="1.3" fill="none"/>
<text x="641.41" y="227.00" font-size="17.2" textLength="34.50" lengthAdjust="spacingAndGlyphs">300</text>
<text x="605.44" y="246.90" font-size="17.6" textLength="9.88" lengthAdjust="spacingAndGlyphs">ε</text>
<path d="M620.00 239.60H627.80M620.00 243.00H627.80" stroke="#222" stroke-width="1.3" fill="none"/>
<text x="632.83" y="246.90" font-size="17.2" textLength="43.14" lengthAdjust="spacingAndGlyphs">0.162</text>
<text x="609.26" y="307.70" font-size="17.6" textLength="62.45" lengthAdjust="spacingAndGlyphs">Ground</text>
<text x="620.80" y="328.70" font-size="17.6" textLength="39.79" lengthAdjust="spacingAndGlyphs">truth</text>
<text x="218.96" y="290.50" font-size="18.6" textLength="11.20" lengthAdjust="spacingAndGlyphs">δ</text>
<text x="409.45" y="366.60" font-size="17.8" textLength="21.07" lengthAdjust="spacingAndGlyphs">πδ</text>
<text x="580.83" y="366.60" font-size="17.8" textLength="31.10" lengthAdjust="spacingAndGlyphs">2πδ</text>
</g>
<g fill="#808080"><circle cx="147" cy="328.7" r="6.5"/><circle cx="248.9" cy="366.2" r="6.5"/><circle cx="350.8" cy="373.9" r="6.5"/><circle cx="452.7" cy="381.2" r="6.5"/><circle cx="554.6" cy="399.4" r="6.5"/></g>
<path d="M96.1 111.6V196.8M92.19999999999999 111.6H100.0M92.19999999999999 196.8H100.0M147 281.7V339M143.1 281.7H150.9M143.1 339H150.9M248.9 378V393.1M245.0 378H252.8M245.0 393.1H252.8M299.8 394.8V402M295.90000000000003 394.8H303.7M295.90000000000003 402H303.7M350.8 400.5V408.5M346.90000000000003 400.5H354.7M346.90000000000003 408.5H354.7M452.7 413.6V418.7M448.8 413.6H456.59999999999997M448.8 418.7H456.59999999999997M554.6 418.7V424M550.7 418.7H558.5M550.7 424H558.5M656.4 422.5V427M652.5 422.5H660.3M652.5 427H660.3" stroke="#000" stroke-width="2.4" fill="none"/>
<polyline fill="none" stroke="#000" stroke-width="3" stroke-linejoin="round" points="96.1,148.7 147,308.3 248.9,384.4 299.8,398.5 350.8,404.5 452.7,416.3 554.6,421.3 656.4,424.7"/>
<path d="M96.1 73.9V162.7M92.19999999999999 73.9H100.0M92.19999999999999 162.7H100.0M147 252V320.6M143.1 252H150.9M143.1 320.6H150.9M248.9 373.6V396.1M245.0 373.6H252.8M245.0 396.1H252.8M299.8 397V409.9M295.90000000000003 397H303.7M295.90000000000003 409.9H303.7M350.8 405V418.7M346.90000000000003 405H354.7M346.90000000000003 418.7H354.7M452.7 423.5V429.6M448.8 423.5H456.59999999999997M448.8 429.6H456.59999999999997M554.6 430V435.5M550.7 430H558.5M550.7 435.5H558.5M656.4 434.5V440M652.5 434.5H660.3M652.5 440H660.3" stroke="#0000ff" stroke-width="2.4" fill="none"/>
<polyline fill="none" stroke="#0000ff" stroke-width="3" stroke-linejoin="round" points="96.1,117 147,287.5 248.9,384.4 299.8,402.9 350.8,412 452.7,426.1 554.6,432.9 656.4,437.1"/>
<path d="M79.5 398.4H98.1" stroke="#000" stroke-width="3"/>
<path d="M79.5 418.2H98.1" stroke="#0000ff" stroke-width="3"/>
<circle cx="88.6" cy="438.8" r="6.6" fill="#808080"/>
<path transform="translate(102,390)" d="M9.8 7.0C6.6 7.4 4.6 5.6 5.4 3.6C6.2 1.6 9.5 2.0 11.5 2.4M15.8 2.2C15.2 1.0 13 2.6 12.2 4.6C11 7.5 9.5 11 7.3 11.6C5.5 12.1 2.5 11.9 2.4 11.1C2.3 10.3 5.5 10.6 7.5 11.2C9.5 11.8 11.5 11.7 13.4 10.2M13.4 6.3C14.8 5.2 16.2 3.4 15.8 2.2" fill="none" stroke="#0d0d0d" stroke-width="1.15" stroke-linecap="round"/>
<path transform="translate(102,410.1)" d="M9.8 7.0C6.6 7.4 4.6 5.6 5.4 3.6C6.2 1.6 9.5 2.0 11.5 2.4M15.8 2.2C15.2 1.0 13 2.6 12.2 4.6C11 7.5 9.5 11 7.3 11.6C5.5 12.1 2.5 11.9 2.4 11.1C2.3 10.3 5.5 10.6 7.5 11.2C9.5 11.8 11.5 11.7 13.4 10.2M13.4 6.3C14.8 5.2 16.2 3.4 15.8 2.2" fill="none" stroke="#0d0d0d" stroke-width="1.15" stroke-linecap="round"/>
<g fill="#0d0d0d" font-family="Liberation Sans">
<path d="M121.40 396.50H127.60M121.40 399.30H127.60" stroke="#222" stroke-width="1.2" fill="none"/>
<text x="131.84" y="402.50" font-size="15.2" textLength="30.78" lengthAdjust="spacingAndGlyphs">MSE</text>
<path d="M121.40 416.60H127.60M121.40 419.40H127.60" stroke="#222" stroke-width="1.2" fill="none"/>
<text x="131.84" y="422.60" font-size="15.2" textLength="30.78" lengthAdjust="spacingAndGlyphs">MSE</text>
<text x="165.52" y="423.00" font-size="12.5" textLength="8.25" lengthAdjust="spacingAndGlyphs">×</text>
<text x="176.18" y="422.60" font-size="14.4" textLength="9.92" lengthAdjust="spacingAndGlyphs" font-style="italic">N</text>
<text x="186.87" y="425.00" font-size="9.8" textLength="5.96" lengthAdjust="spacingAndGlyphs">s</text>
<text x="109.83" y="443.40" font-size="14.6" textLength="84.80" lengthAdjust="spacingAndGlyphs">VoronoiCNN</text>
</g>
</svg>
</body></html>
